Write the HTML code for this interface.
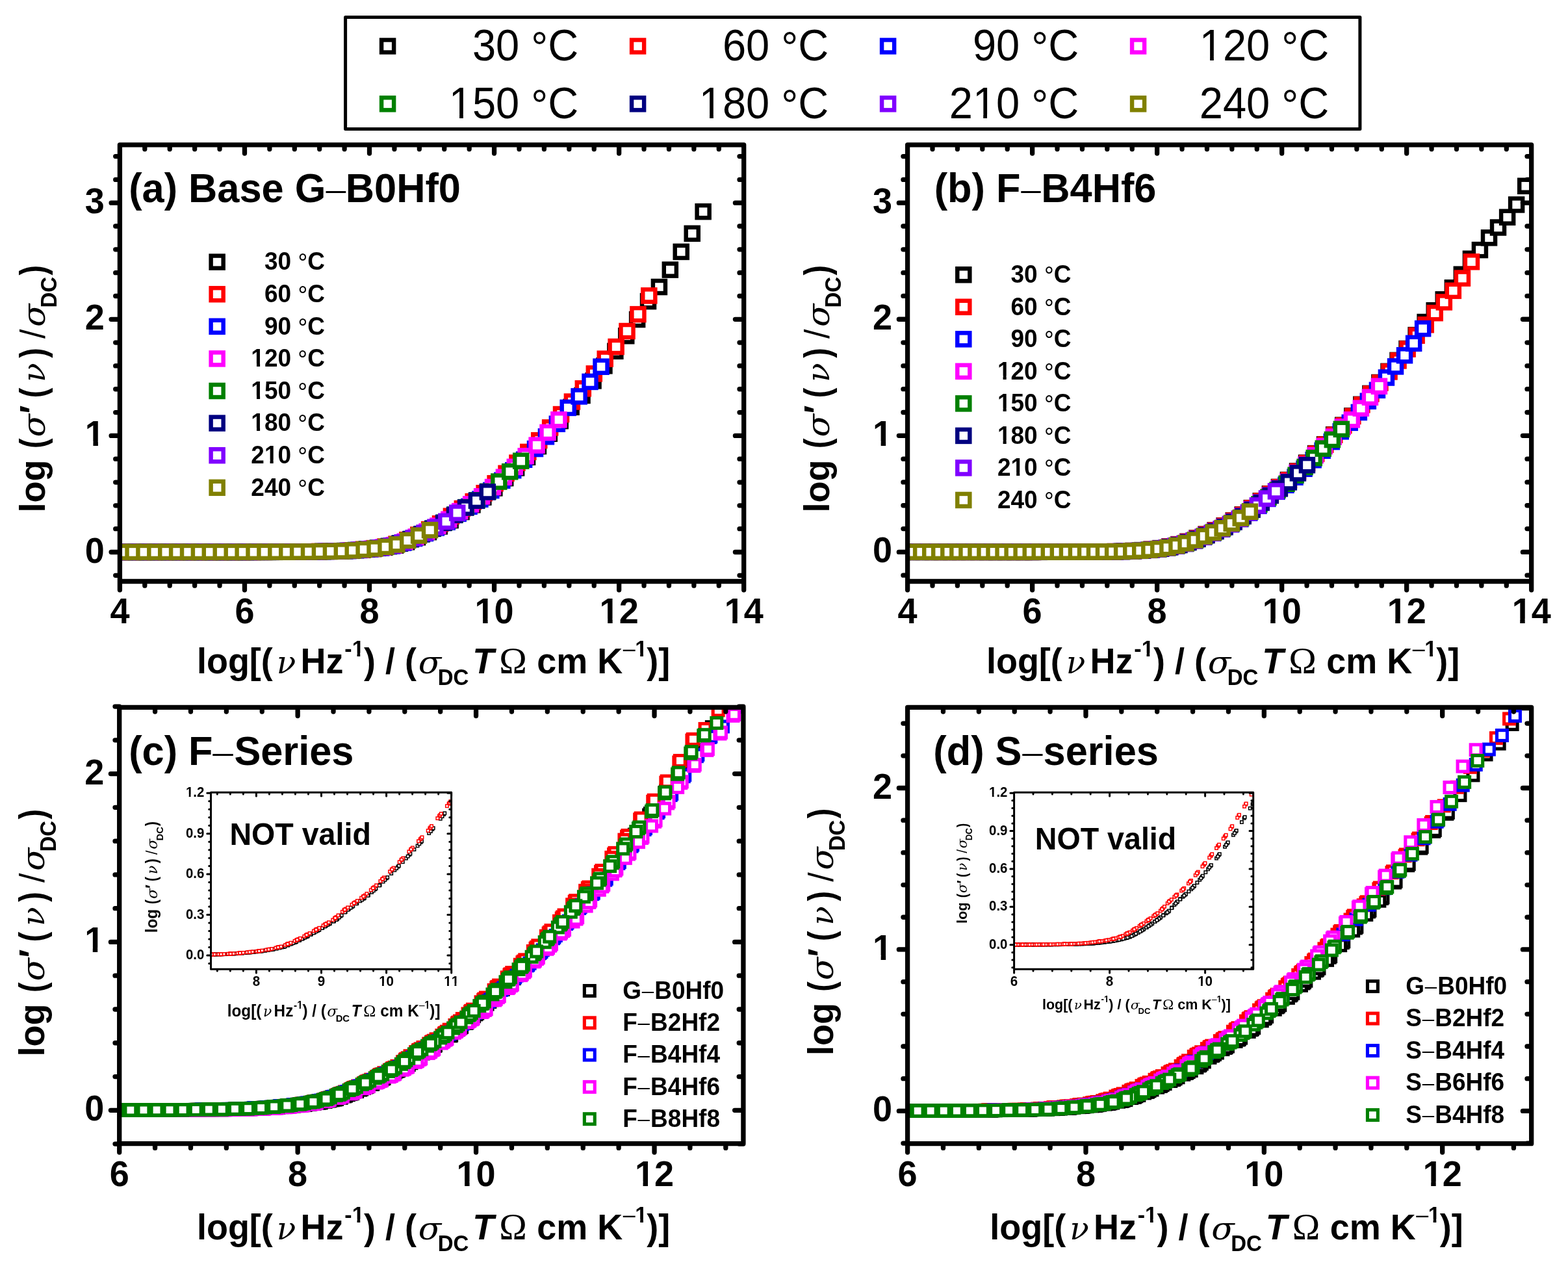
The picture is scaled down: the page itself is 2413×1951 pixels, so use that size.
<!DOCTYPE html>
<html lang="en"><head><meta charset="utf-8"><title>Conductivity master curves</title>
<style>html,body{margin:0;padding:0;background:#fff}svg{display:block;font-family:'Liberation Sans',Arial,Helvetica,sans-serif;fill:#000;white-space:pre;font-kerning:none}</style></head><body>
<svg xmlns="http://www.w3.org/2000/svg" width="2413" height="1951" viewBox="0 0 2413 1951">
<rect width="2413" height="1951" fill="#fff"/>
<defs><clipPath id="ca"><rect x="184.4" y="222.8" width="960.3" height="671.7"/></clipPath><clipPath id="cb"><rect x="1396.6" y="222.8" width="960.1" height="671.7"/></clipPath><clipPath id="cc"><rect x="183.7" y="1088.3" width="960.2" height="671.4"/></clipPath><clipPath id="cd"><rect x="1396.6" y="1088.3" width="960.1" height="671.4"/></clipPath><clipPath id="ci"><rect x="324.5" y="1219.2" width="370.1" height="272"/></clipPath><clipPath id="cj"><rect x="1560.6" y="1219.2" width="368.1" height="272"/></clipPath><rect id="q0" width="19.05" height="19.05" stroke-width="6.45"/><rect id="q1" width="15.9" height="15.9" stroke-width="5.1"/><rect id="q2" width="4.4" height="4.4" stroke-width="1.5"/></defs>
<g fill="#fff">
<g stroke="#000" clip-path="url(#ca)"><use href="#q0" x="210.1" y="839.9"/><use href="#q0" x="227" y="839.9"/><use href="#q0" x="243.9" y="839.9"/><use href="#q0" x="260.8" y="839.9"/><use href="#q0" x="277.8" y="839.9"/><use href="#q0" x="294.7" y="839.9"/><use href="#q0" x="311.6" y="839.9"/><use href="#q0" x="328.5" y="839.9"/><use href="#q0" x="345.4" y="839.9"/><use href="#q0" x="362.3" y="839.9"/><use href="#q0" x="379.2" y="839.9"/><use href="#q0" x="396.1" y="839.8"/><use href="#q0" x="413" y="839.8"/><use href="#q0" x="429.9" y="839.7"/><use href="#q0" x="446.9" y="839.6"/><use href="#q0" x="463.8" y="839.5"/><use href="#q0" x="480.7" y="839.2"/><use href="#q0" x="497.6" y="838.9"/><use href="#q0" x="514.5" y="838.5"/><use href="#q0" x="531.4" y="837.8"/><use href="#q0" x="548.3" y="836.5"/><use href="#q0" x="565.2" y="835"/><use href="#q0" x="582.1" y="832.8"/><use href="#q0" x="599.1" y="829.6"/><use href="#q0" x="616" y="824.3"/><use href="#q0" x="632.9" y="817.2"/><use href="#q0" x="649.8" y="809.1"/><use href="#q0" x="666.7" y="800.4"/><use href="#q0" x="683.6" y="791"/><use href="#q0" x="700.5" y="778"/><use href="#q0" x="717.4" y="767.3"/><use href="#q0" x="734.3" y="755.5"/><use href="#q0" x="751.3" y="741.4"/><use href="#q0" x="768.2" y="726.1"/><use href="#q0" x="785.1" y="710.4"/><use href="#q0" x="802" y="693.8"/><use href="#q0" x="818.9" y="677.1"/><use href="#q0" x="835.8" y="657.7"/><use href="#q0" x="852.7" y="638.1"/><use href="#q0" x="869.6" y="616.8"/><use href="#q0" x="886.5" y="599"/><use href="#q0" x="903.5" y="576.4"/><use href="#q0" x="920.4" y="553.3"/><use href="#q0" x="937.3" y="530.8"/><use href="#q0" x="954.2" y="507.3"/><use href="#q0" x="971.1" y="482"/><use href="#q0" x="988" y="454.1"/><use href="#q0" x="1004.9" y="432"/><use href="#q0" x="1021.8" y="405.6"/><use href="#q0" x="1038.7" y="377.9"/><use href="#q0" x="1055.7" y="349.8"/><use href="#q0" x="1072.6" y="316.1"/></g>
<g stroke="#f00" clip-path="url(#ca)"><use href="#q0" x="177.6" y="839.9"/><use href="#q0" x="194.5" y="839.9"/><use href="#q0" x="211.4" y="839.9"/><use href="#q0" x="228.3" y="839.9"/><use href="#q0" x="245.2" y="839.9"/><use href="#q0" x="262.1" y="839.9"/><use href="#q0" x="279" y="839.9"/><use href="#q0" x="296" y="839.9"/><use href="#q0" x="312.9" y="839.9"/><use href="#q0" x="329.8" y="839.9"/><use href="#q0" x="346.7" y="839.9"/><use href="#q0" x="363.6" y="839.9"/><use href="#q0" x="380.5" y="839.8"/><use href="#q0" x="397.4" y="839.8"/><use href="#q0" x="414.3" y="839.7"/><use href="#q0" x="431.2" y="839.6"/><use href="#q0" x="448.2" y="839.5"/><use href="#q0" x="465.1" y="839.3"/><use href="#q0" x="482" y="839"/><use href="#q0" x="498.9" y="838.7"/><use href="#q0" x="515.8" y="838.2"/><use href="#q0" x="532.7" y="837.3"/><use href="#q0" x="549.6" y="835.8"/><use href="#q0" x="566.5" y="834.1"/><use href="#q0" x="583.4" y="831.5"/><use href="#q0" x="600.4" y="827.6"/><use href="#q0" x="617.3" y="821.2"/><use href="#q0" x="634.2" y="813.5"/><use href="#q0" x="651.1" y="805.1"/><use href="#q0" x="668" y="796.2"/><use href="#q0" x="684.9" y="784.7"/><use href="#q0" x="701.8" y="773"/><use href="#q0" x="718.7" y="762.2"/><use href="#q0" x="735.6" y="749.2"/><use href="#q0" x="752.6" y="734.2"/><use href="#q0" x="769.5" y="718.8"/><use href="#q0" x="786.4" y="702.6"/><use href="#q0" x="803.3" y="685.9"/><use href="#q0" x="820.2" y="668.1"/><use href="#q0" x="837.1" y="648.4"/><use href="#q0" x="854" y="628"/><use href="#q0" x="870.9" y="608.5"/><use href="#q0" x="887.8" y="588.3"/><use href="#q0" x="904.8" y="565.4"/><use href="#q0" x="921.7" y="542.6"/><use href="#q0" x="938.6" y="524"/><use href="#q0" x="955.5" y="500"/><use href="#q0" x="972.4" y="474.1"/><use href="#q0" x="989.3" y="445.4"/></g>
<g stroke="#00f" clip-path="url(#ca)"><use href="#q0" x="171.4" y="839.9"/><use href="#q0" x="188.3" y="839.9"/><use href="#q0" x="205.2" y="839.9"/><use href="#q0" x="222.1" y="839.9"/><use href="#q0" x="239" y="839.9"/><use href="#q0" x="255.9" y="839.9"/><use href="#q0" x="272.8" y="839.9"/><use href="#q0" x="289.8" y="839.9"/><use href="#q0" x="306.7" y="839.9"/><use href="#q0" x="323.6" y="839.9"/><use href="#q0" x="340.5" y="839.9"/><use href="#q0" x="357.4" y="839.9"/><use href="#q0" x="374.3" y="839.9"/><use href="#q0" x="391.2" y="839.8"/><use href="#q0" x="408.1" y="839.8"/><use href="#q0" x="425" y="839.7"/><use href="#q0" x="442" y="839.6"/><use href="#q0" x="458.9" y="839.5"/><use href="#q0" x="475.8" y="839.3"/><use href="#q0" x="492.7" y="838.9"/><use href="#q0" x="509.6" y="838.6"/><use href="#q0" x="526.5" y="838"/><use href="#q0" x="543.4" y="836.9"/><use href="#q0" x="560.3" y="835.3"/><use href="#q0" x="577.2" y="833.4"/><use href="#q0" x="594.2" y="830.4"/><use href="#q0" x="611.1" y="825.7"/><use href="#q0" x="628" y="819"/><use href="#q0" x="644.9" y="811.1"/><use href="#q0" x="661.8" y="802.5"/><use href="#q0" x="678.7" y="793.6"/><use href="#q0" x="695.6" y="780.8"/><use href="#q0" x="712.5" y="769.8"/><use href="#q0" x="729.4" y="758.6"/><use href="#q0" x="746.3" y="745"/><use href="#q0" x="763.3" y="729.7"/><use href="#q0" x="780.2" y="714.2"/><use href="#q0" x="797.1" y="697.7"/><use href="#q0" x="814" y="681"/><use href="#q0" x="830.9" y="662.3"/><use href="#q0" x="847.8" y="642.7"/><use href="#q0" x="864.7" y="617.9"/><use href="#q0" x="881.6" y="600.4"/><use href="#q0" x="898.5" y="577.9"/><use href="#q0" x="915.5" y="554.7"/></g>
<g stroke="#f0f" clip-path="url(#ca)"><use href="#q0" x="174" y="839.9"/><use href="#q0" x="190.9" y="839.9"/><use href="#q0" x="207.8" y="839.9"/><use href="#q0" x="224.7" y="839.9"/><use href="#q0" x="241.7" y="839.9"/><use href="#q0" x="258.6" y="839.9"/><use href="#q0" x="275.5" y="839.9"/><use href="#q0" x="292.4" y="839.9"/><use href="#q0" x="309.3" y="839.9"/><use href="#q0" x="326.2" y="839.9"/><use href="#q0" x="343.1" y="839.9"/><use href="#q0" x="360" y="839.9"/><use href="#q0" x="376.9" y="839.9"/><use href="#q0" x="393.9" y="839.8"/><use href="#q0" x="410.8" y="839.7"/><use href="#q0" x="427.7" y="839.7"/><use href="#q0" x="444.6" y="839.6"/><use href="#q0" x="461.5" y="839.4"/><use href="#q0" x="478.4" y="839.2"/><use href="#q0" x="495.3" y="838.8"/><use href="#q0" x="512.2" y="838.5"/><use href="#q0" x="529.1" y="837.7"/><use href="#q0" x="546.1" y="836.4"/><use href="#q0" x="563" y="834.8"/><use href="#q0" x="579.9" y="832.6"/><use href="#q0" x="596.8" y="829.3"/><use href="#q0" x="613.7" y="823.7"/><use href="#q0" x="630.6" y="816.5"/><use href="#q0" x="647.5" y="808.4"/><use href="#q0" x="664.4" y="799.6"/><use href="#q0" x="681.3" y="789.7"/><use href="#q0" x="698.2" y="777.1"/><use href="#q0" x="715.2" y="766.3"/><use href="#q0" x="732.1" y="754.3"/><use href="#q0" x="749" y="740"/><use href="#q0" x="765.9" y="724.7"/><use href="#q0" x="782.8" y="708.9"/><use href="#q0" x="799.7" y="692.3"/><use href="#q0" x="816.6" y="675.6"/><use href="#q0" x="833.5" y="655.9"/><use href="#q0" x="850.4" y="636.3"/></g>
<g stroke="#008000" clip-path="url(#ca)"><use href="#q0" x="166.5" y="839.9"/><use href="#q0" x="183.4" y="839.9"/><use href="#q0" x="200.3" y="839.9"/><use href="#q0" x="217.2" y="839.9"/><use href="#q0" x="234.1" y="839.9"/><use href="#q0" x="251" y="839.9"/><use href="#q0" x="267.9" y="839.9"/><use href="#q0" x="284.8" y="839.9"/><use href="#q0" x="301.7" y="839.9"/><use href="#q0" x="318.7" y="839.9"/><use href="#q0" x="335.6" y="839.9"/><use href="#q0" x="352.5" y="839.9"/><use href="#q0" x="369.4" y="839.9"/><use href="#q0" x="386.3" y="839.8"/><use href="#q0" x="403.2" y="839.8"/><use href="#q0" x="420.1" y="839.7"/><use href="#q0" x="437" y="839.6"/><use href="#q0" x="453.9" y="839.5"/><use href="#q0" x="470.8" y="839.3"/><use href="#q0" x="487.8" y="839"/><use href="#q0" x="504.7" y="838.6"/><use href="#q0" x="521.6" y="838.1"/><use href="#q0" x="538.5" y="837"/><use href="#q0" x="555.4" y="835.5"/><use href="#q0" x="572.3" y="833.7"/><use href="#q0" x="589.2" y="830.9"/><use href="#q0" x="606.1" y="826.5"/><use href="#q0" x="623" y="819.9"/><use href="#q0" x="640" y="812.1"/><use href="#q0" x="656.9" y="803.6"/><use href="#q0" x="673.8" y="794.7"/><use href="#q0" x="690.7" y="782.4"/><use href="#q0" x="707.6" y="771.1"/><use href="#q0" x="724.5" y="760.3"/><use href="#q0" x="741.4" y="746.8"/><use href="#q0" x="758.3" y="731.5"/><use href="#q0" x="775.2" y="716.2"/><use href="#q0" x="792.2" y="699.7"/></g>
<g stroke="#000080" clip-path="url(#ca)"><use href="#q0" x="165.8" y="839.9"/><use href="#q0" x="182.7" y="839.9"/><use href="#q0" x="199.6" y="839.9"/><use href="#q0" x="216.5" y="839.9"/><use href="#q0" x="233.5" y="839.9"/><use href="#q0" x="250.4" y="839.9"/><use href="#q0" x="267.3" y="839.9"/><use href="#q0" x="284.2" y="839.9"/><use href="#q0" x="301.1" y="839.9"/><use href="#q0" x="318" y="839.9"/><use href="#q0" x="334.9" y="839.9"/><use href="#q0" x="351.8" y="839.9"/><use href="#q0" x="368.7" y="839.9"/><use href="#q0" x="385.7" y="839.8"/><use href="#q0" x="402.6" y="839.8"/><use href="#q0" x="419.5" y="839.7"/><use href="#q0" x="436.4" y="839.6"/><use href="#q0" x="453.3" y="839.5"/><use href="#q0" x="470.2" y="839.3"/><use href="#q0" x="487.1" y="839"/><use href="#q0" x="504" y="838.7"/><use href="#q0" x="520.9" y="838.1"/><use href="#q0" x="537.8" y="837.1"/><use href="#q0" x="554.8" y="835.6"/><use href="#q0" x="571.7" y="833.8"/><use href="#q0" x="588.6" y="831"/><use href="#q0" x="605.5" y="826.7"/><use href="#q0" x="622.4" y="820.2"/><use href="#q0" x="639.3" y="812.4"/><use href="#q0" x="656.2" y="803.9"/><use href="#q0" x="673.1" y="795"/><use href="#q0" x="690" y="782.9"/><use href="#q0" x="707" y="771.5"/><use href="#q0" x="723.9" y="760.8"/><use href="#q0" x="740.8" y="747.4"/></g>
<g stroke="#8000ff" clip-path="url(#ca)"><use href="#q0" x="170" y="839.9"/><use href="#q0" x="186.9" y="839.9"/><use href="#q0" x="203.8" y="839.9"/><use href="#q0" x="220.7" y="839.9"/><use href="#q0" x="237.6" y="839.9"/><use href="#q0" x="254.5" y="839.9"/><use href="#q0" x="271.4" y="839.9"/><use href="#q0" x="288.3" y="839.9"/><use href="#q0" x="305.3" y="839.9"/><use href="#q0" x="322.2" y="839.9"/><use href="#q0" x="339.1" y="839.9"/><use href="#q0" x="356" y="839.9"/><use href="#q0" x="372.9" y="839.9"/><use href="#q0" x="389.8" y="839.8"/><use href="#q0" x="406.7" y="839.8"/><use href="#q0" x="423.6" y="839.7"/><use href="#q0" x="440.5" y="839.6"/><use href="#q0" x="457.5" y="839.5"/><use href="#q0" x="474.4" y="839.2"/><use href="#q0" x="491.3" y="838.9"/><use href="#q0" x="508.2" y="838.6"/><use href="#q0" x="525.1" y="837.9"/><use href="#q0" x="542" y="836.7"/><use href="#q0" x="558.9" y="835.2"/><use href="#q0" x="575.8" y="833.2"/><use href="#q0" x="592.7" y="830.1"/><use href="#q0" x="609.7" y="825.2"/><use href="#q0" x="626.6" y="818.3"/><use href="#q0" x="643.5" y="810.4"/><use href="#q0" x="660.4" y="801.7"/><use href="#q0" x="677.3" y="792.8"/><use href="#q0" x="694.2" y="779.6"/></g>
<g stroke="#808000" clip-path="url(#ca)"><use href="#q0" x="178.5" y="839.9"/><use href="#q0" x="195.5" y="839.9"/><use href="#q0" x="212.4" y="839.9"/><use href="#q0" x="229.3" y="839.9"/><use href="#q0" x="246.2" y="839.9"/><use href="#q0" x="263.1" y="839.9"/><use href="#q0" x="280" y="839.9"/><use href="#q0" x="296.9" y="839.9"/><use href="#q0" x="313.8" y="839.9"/><use href="#q0" x="330.7" y="839.9"/><use href="#q0" x="347.7" y="839.9"/><use href="#q0" x="364.6" y="839.9"/><use href="#q0" x="381.5" y="839.8"/><use href="#q0" x="398.4" y="839.8"/><use href="#q0" x="415.3" y="839.7"/><use href="#q0" x="432.2" y="839.7"/><use href="#q0" x="449.1" y="839.5"/><use href="#q0" x="466" y="839.4"/><use href="#q0" x="482.9" y="839.1"/><use href="#q0" x="499.9" y="838.8"/><use href="#q0" x="516.8" y="838.4"/><use href="#q0" x="533.7" y="837.4"/><use href="#q0" x="550.6" y="836"/><use href="#q0" x="567.5" y="834.4"/><use href="#q0" x="584.4" y="831.9"/><use href="#q0" x="601.3" y="828.3"/><use href="#q0" x="618.2" y="822"/><use href="#q0" x="635.1" y="814.5"/><use href="#q0" x="652" y="806.1"/></g>
<g stroke="#000" clip-path="url(#cb)"><use href="#q0" x="1509.4" y="839.8"/><use href="#q0" x="1523.5" y="839.8"/><use href="#q0" x="1537.5" y="839.8"/><use href="#q0" x="1551.6" y="839.8"/><use href="#q0" x="1565.6" y="839.8"/><use href="#q0" x="1579.7" y="839.8"/><use href="#q0" x="1593.7" y="839.7"/><use href="#q0" x="1607.7" y="839.7"/><use href="#q0" x="1621.8" y="839.6"/><use href="#q0" x="1635.8" y="839.6"/><use href="#q0" x="1649.9" y="839.6"/><use href="#q0" x="1663.9" y="839.5"/><use href="#q0" x="1678" y="839.5"/><use href="#q0" x="1692" y="839.4"/><use href="#q0" x="1706.1" y="839.1"/><use href="#q0" x="1720.1" y="838.7"/><use href="#q0" x="1734.2" y="838"/><use href="#q0" x="1748.2" y="837.1"/><use href="#q0" x="1762.3" y="835.8"/><use href="#q0" x="1776.3" y="834.1"/><use href="#q0" x="1790.3" y="831.5"/><use href="#q0" x="1804.4" y="828.1"/><use href="#q0" x="1818.4" y="823.8"/><use href="#q0" x="1832.5" y="818.5"/><use href="#q0" x="1846.5" y="812.6"/><use href="#q0" x="1860.6" y="806.4"/><use href="#q0" x="1874.6" y="799.4"/><use href="#q0" x="1888.7" y="791.5"/><use href="#q0" x="1902.7" y="782.4"/><use href="#q0" x="1916.8" y="772.1"/><use href="#q0" x="1930.8" y="761.2"/><use href="#q0" x="1944.9" y="750.2"/><use href="#q0" x="1958.9" y="739.9"/><use href="#q0" x="1972.9" y="728.9"/><use href="#q0" x="1987" y="715.4"/><use href="#q0" x="2001" y="702.6"/><use href="#q0" x="2015.1" y="688.1"/><use href="#q0" x="2029.1" y="674.2"/><use href="#q0" x="2043.2" y="659.2"/><use href="#q0" x="2057.2" y="644.7"/><use href="#q0" x="2071.3" y="630.4"/><use href="#q0" x="2085.3" y="612.8"/><use href="#q0" x="2099.4" y="595.9"/><use href="#q0" x="2113.4" y="579"/><use href="#q0" x="2127.5" y="561.9"/><use href="#q0" x="2141.5" y="544.9"/><use href="#q0" x="2155.5" y="527"/><use href="#q0" x="2169.6" y="506.1"/><use href="#q0" x="2183.6" y="486"/><use href="#q0" x="2197.7" y="468.2"/><use href="#q0" x="2211.7" y="451.3"/><use href="#q0" x="2225.8" y="433.3"/><use href="#q0" x="2239.8" y="412.7"/><use href="#q0" x="2253.9" y="388.7"/><use href="#q0" x="2267.9" y="375.1"/><use href="#q0" x="2282" y="356.3"/><use href="#q0" x="2296" y="340.5"/><use href="#q0" x="2310.1" y="324.7"/><use href="#q0" x="2324.1" y="305.4"/><use href="#q0" x="2338.2" y="276.7"/></g>
<g stroke="#f00" clip-path="url(#cb)"><use href="#q0" x="1426.2" y="839.8"/><use href="#q0" x="1440.2" y="839.8"/><use href="#q0" x="1454.3" y="839.8"/><use href="#q0" x="1468.3" y="839.8"/><use href="#q0" x="1482.4" y="839.8"/><use href="#q0" x="1496.4" y="839.8"/><use href="#q0" x="1510.5" y="839.8"/><use href="#q0" x="1524.5" y="839.8"/><use href="#q0" x="1538.5" y="839.8"/><use href="#q0" x="1552.6" y="839.8"/><use href="#q0" x="1566.6" y="839.8"/><use href="#q0" x="1580.7" y="839.8"/><use href="#q0" x="1594.7" y="839.7"/><use href="#q0" x="1608.8" y="839.7"/><use href="#q0" x="1622.8" y="839.6"/><use href="#q0" x="1636.9" y="839.6"/><use href="#q0" x="1650.9" y="839.6"/><use href="#q0" x="1665" y="839.5"/><use href="#q0" x="1679" y="839.5"/><use href="#q0" x="1693.1" y="839.4"/><use href="#q0" x="1707.1" y="839.1"/><use href="#q0" x="1721.2" y="838.7"/><use href="#q0" x="1735.2" y="838.1"/><use href="#q0" x="1749.2" y="837.2"/><use href="#q0" x="1763.3" y="835.9"/><use href="#q0" x="1777.3" y="834.2"/><use href="#q0" x="1791.4" y="831.6"/><use href="#q0" x="1805.4" y="828.2"/><use href="#q0" x="1819.5" y="824"/><use href="#q0" x="1833.5" y="818.7"/><use href="#q0" x="1847.6" y="812.8"/><use href="#q0" x="1861.6" y="806.6"/><use href="#q0" x="1875.7" y="799.6"/><use href="#q0" x="1889.7" y="791.8"/><use href="#q0" x="1903.8" y="782.7"/><use href="#q0" x="1917.8" y="772.4"/><use href="#q0" x="1931.8" y="761.5"/><use href="#q0" x="1945.9" y="750.5"/><use href="#q0" x="1959.9" y="740.1"/><use href="#q0" x="1974" y="729.3"/><use href="#q0" x="1988" y="715.8"/><use href="#q0" x="2002.1" y="703"/><use href="#q0" x="2016.1" y="688.6"/><use href="#q0" x="2030.2" y="674.6"/><use href="#q0" x="2044.2" y="659.7"/><use href="#q0" x="2058.3" y="645.1"/><use href="#q0" x="2072.3" y="630.9"/><use href="#q0" x="2086.4" y="613.3"/><use href="#q0" x="2100.4" y="596.4"/><use href="#q0" x="2114.4" y="579.5"/><use href="#q0" x="2128.5" y="562.4"/><use href="#q0" x="2142.5" y="545.4"/><use href="#q0" x="2156.6" y="527.5"/><use href="#q0" x="2170.6" y="506.8"/><use href="#q0" x="2184.7" y="490.2"/><use href="#q0" x="2198.7" y="472.1"/><use href="#q0" x="2212.8" y="455.4"/><use href="#q0" x="2226.8" y="437.8"/><use href="#q0" x="2240.9" y="418.6"/><use href="#q0" x="2254.9" y="393.3"/></g>
<g stroke="#00f" clip-path="url(#cb)"><use href="#q0" x="1379.5" y="839.8"/><use href="#q0" x="1393.5" y="839.8"/><use href="#q0" x="1407.6" y="839.8"/><use href="#q0" x="1421.6" y="839.8"/><use href="#q0" x="1435.7" y="839.8"/><use href="#q0" x="1449.7" y="839.8"/><use href="#q0" x="1463.8" y="839.8"/><use href="#q0" x="1477.8" y="839.8"/><use href="#q0" x="1491.9" y="839.8"/><use href="#q0" x="1505.9" y="839.8"/><use href="#q0" x="1519.9" y="839.8"/><use href="#q0" x="1534" y="839.8"/><use href="#q0" x="1548" y="839.8"/><use href="#q0" x="1562.1" y="839.8"/><use href="#q0" x="1576.1" y="839.8"/><use href="#q0" x="1590.2" y="839.8"/><use href="#q0" x="1604.2" y="839.7"/><use href="#q0" x="1618.3" y="839.7"/><use href="#q0" x="1632.3" y="839.6"/><use href="#q0" x="1646.4" y="839.6"/><use href="#q0" x="1660.4" y="839.6"/><use href="#q0" x="1674.5" y="839.5"/><use href="#q0" x="1688.5" y="839.4"/><use href="#q0" x="1702.5" y="839.4"/><use href="#q0" x="1716.6" y="839"/><use href="#q0" x="1730.6" y="838.5"/><use href="#q0" x="1744.7" y="837.8"/><use href="#q0" x="1758.7" y="836.8"/><use href="#q0" x="1772.8" y="835.4"/><use href="#q0" x="1786.8" y="833.5"/><use href="#q0" x="1800.9" y="830.6"/><use href="#q0" x="1814.9" y="827"/><use href="#q0" x="1829" y="822.4"/><use href="#q0" x="1843" y="816.8"/><use href="#q0" x="1857.1" y="810.8"/><use href="#q0" x="1871.1" y="804.5"/><use href="#q0" x="1885.1" y="797.1"/><use href="#q0" x="1899.2" y="789"/><use href="#q0" x="1913.2" y="779.5"/><use href="#q0" x="1927.3" y="768.8"/><use href="#q0" x="1941.3" y="757.9"/><use href="#q0" x="1955.4" y="746.8"/><use href="#q0" x="1969.4" y="736.8"/><use href="#q0" x="1983.5" y="724.6"/><use href="#q0" x="1997.5" y="711.7"/><use href="#q0" x="2011.6" y="698.2"/><use href="#q0" x="2025.6" y="683.8"/><use href="#q0" x="2039.7" y="670.1"/><use href="#q0" x="2053.7" y="654.3"/><use href="#q0" x="2067.7" y="640.8"/><use href="#q0" x="2081.8" y="624.9"/><use href="#q0" x="2095.8" y="607.7"/><use href="#q0" x="2109.9" y="590.8"/><use href="#q0" x="2123.9" y="571.5"/><use href="#q0" x="2138" y="554.4"/><use href="#q0" x="2152" y="537.3"/><use href="#q0" x="2166.1" y="518.8"/><use href="#q0" x="2180.1" y="496.1"/></g>
<g stroke="#f0f" clip-path="url(#cb)"><use href="#q0" x="1382.5" y="839.8"/><use href="#q0" x="1396.6" y="839.8"/><use href="#q0" x="1410.6" y="839.8"/><use href="#q0" x="1424.6" y="839.8"/><use href="#q0" x="1438.7" y="839.8"/><use href="#q0" x="1452.7" y="839.8"/><use href="#q0" x="1466.8" y="839.8"/><use href="#q0" x="1480.8" y="839.8"/><use href="#q0" x="1494.9" y="839.8"/><use href="#q0" x="1508.9" y="839.8"/><use href="#q0" x="1523" y="839.8"/><use href="#q0" x="1537" y="839.8"/><use href="#q0" x="1551.1" y="839.8"/><use href="#q0" x="1565.1" y="839.8"/><use href="#q0" x="1579.2" y="839.8"/><use href="#q0" x="1593.2" y="839.7"/><use href="#q0" x="1607.2" y="839.7"/><use href="#q0" x="1621.3" y="839.6"/><use href="#q0" x="1635.3" y="839.6"/><use href="#q0" x="1649.4" y="839.6"/><use href="#q0" x="1663.4" y="839.5"/><use href="#q0" x="1677.5" y="839.5"/><use href="#q0" x="1691.5" y="839.4"/><use href="#q0" x="1705.6" y="839.2"/><use href="#q0" x="1719.6" y="838.8"/><use href="#q0" x="1733.7" y="838.2"/><use href="#q0" x="1747.7" y="837.3"/><use href="#q0" x="1761.8" y="836.1"/><use href="#q0" x="1775.8" y="834.5"/><use href="#q0" x="1789.8" y="832.1"/><use href="#q0" x="1803.9" y="828.9"/><use href="#q0" x="1817.9" y="824.8"/><use href="#q0" x="1832" y="819.7"/><use href="#q0" x="1846" y="813.9"/><use href="#q0" x="1860.1" y="807.8"/><use href="#q0" x="1874.1" y="801"/><use href="#q0" x="1888.2" y="793.2"/><use href="#q0" x="1902.2" y="784.5"/><use href="#q0" x="1916.3" y="774.3"/><use href="#q0" x="1930.3" y="763.5"/><use href="#q0" x="1944.4" y="752.5"/><use href="#q0" x="1958.4" y="741.9"/><use href="#q0" x="1972.4" y="731.8"/><use href="#q0" x="1986.5" y="718"/><use href="#q0" x="2000.5" y="705.6"/><use href="#q0" x="2014.6" y="691.1"/><use href="#q0" x="2028.6" y="677"/><use href="#q0" x="2042.7" y="662.6"/><use href="#q0" x="2056.7" y="647.3"/><use href="#q0" x="2070.8" y="636.3"/><use href="#q0" x="2084.8" y="618.6"/><use href="#q0" x="2098.9" y="601.7"/><use href="#q0" x="2112.9" y="584.8"/></g>
<g stroke="#008000" clip-path="url(#cb)"><use href="#q0" x="1380.6" y="839.8"/><use href="#q0" x="1394.7" y="839.8"/><use href="#q0" x="1408.7" y="839.8"/><use href="#q0" x="1422.7" y="839.8"/><use href="#q0" x="1436.8" y="839.8"/><use href="#q0" x="1450.8" y="839.8"/><use href="#q0" x="1464.9" y="839.8"/><use href="#q0" x="1478.9" y="839.8"/><use href="#q0" x="1493" y="839.8"/><use href="#q0" x="1507" y="839.8"/><use href="#q0" x="1521.1" y="839.8"/><use href="#q0" x="1535.1" y="839.8"/><use href="#q0" x="1549.2" y="839.8"/><use href="#q0" x="1563.2" y="839.8"/><use href="#q0" x="1577.3" y="839.8"/><use href="#q0" x="1591.3" y="839.7"/><use href="#q0" x="1605.3" y="839.7"/><use href="#q0" x="1619.4" y="839.7"/><use href="#q0" x="1633.4" y="839.6"/><use href="#q0" x="1647.5" y="839.6"/><use href="#q0" x="1661.5" y="839.5"/><use href="#q0" x="1675.6" y="839.5"/><use href="#q0" x="1689.6" y="839.4"/><use href="#q0" x="1703.7" y="839.3"/><use href="#q0" x="1717.7" y="838.9"/><use href="#q0" x="1731.8" y="838.4"/><use href="#q0" x="1745.8" y="837.6"/><use href="#q0" x="1759.9" y="836.5"/><use href="#q0" x="1773.9" y="835.1"/><use href="#q0" x="1787.9" y="833"/><use href="#q0" x="1802" y="829.9"/><use href="#q0" x="1816" y="826.1"/><use href="#q0" x="1830.1" y="821.3"/><use href="#q0" x="1844.1" y="815.5"/><use href="#q0" x="1858.2" y="809.5"/><use href="#q0" x="1872.2" y="803"/><use href="#q0" x="1886.3" y="795.5"/><use href="#q0" x="1900.3" y="787.1"/><use href="#q0" x="1914.4" y="777.3"/><use href="#q0" x="1928.4" y="766.4"/><use href="#q0" x="1942.5" y="755.5"/><use href="#q0" x="1956.5" y="744.6"/><use href="#q0" x="1970.5" y="734.7"/><use href="#q0" x="1984.6" y="721.6"/><use href="#q0" x="1998.6" y="709"/><use href="#q0" x="2012.7" y="695.1"/><use href="#q0" x="2026.7" y="680.6"/><use href="#q0" x="2040.8" y="667"/><use href="#q0" x="2054.8" y="650.8"/></g>
<g stroke="#000080" clip-path="url(#cb)"><use href="#q0" x="1383.9" y="839.8"/><use href="#q0" x="1397.9" y="839.8"/><use href="#q0" x="1412" y="839.8"/><use href="#q0" x="1426" y="839.8"/><use href="#q0" x="1440.1" y="839.8"/><use href="#q0" x="1454.1" y="839.8"/><use href="#q0" x="1468.2" y="839.8"/><use href="#q0" x="1482.2" y="839.8"/><use href="#q0" x="1496.3" y="839.8"/><use href="#q0" x="1510.3" y="839.8"/><use href="#q0" x="1524.4" y="839.8"/><use href="#q0" x="1538.4" y="839.8"/><use href="#q0" x="1552.4" y="839.8"/><use href="#q0" x="1566.5" y="839.8"/><use href="#q0" x="1580.5" y="839.8"/><use href="#q0" x="1594.6" y="839.7"/><use href="#q0" x="1608.6" y="839.7"/><use href="#q0" x="1622.7" y="839.6"/><use href="#q0" x="1636.7" y="839.6"/><use href="#q0" x="1650.8" y="839.6"/><use href="#q0" x="1664.8" y="839.5"/><use href="#q0" x="1678.9" y="839.5"/><use href="#q0" x="1692.9" y="839.4"/><use href="#q0" x="1707" y="839.2"/><use href="#q0" x="1721" y="838.8"/><use href="#q0" x="1735" y="838.2"/><use href="#q0" x="1749.1" y="837.4"/><use href="#q0" x="1763.1" y="836.2"/><use href="#q0" x="1777.2" y="834.6"/><use href="#q0" x="1791.2" y="832.3"/><use href="#q0" x="1805.3" y="829"/><use href="#q0" x="1819.3" y="825"/><use href="#q0" x="1833.4" y="819.9"/><use href="#q0" x="1847.4" y="814.1"/><use href="#q0" x="1861.5" y="808"/><use href="#q0" x="1875.5" y="801.3"/><use href="#q0" x="1889.6" y="793.5"/><use href="#q0" x="1903.6" y="784.8"/><use href="#q0" x="1917.6" y="774.7"/><use href="#q0" x="1931.7" y="763.9"/><use href="#q0" x="1945.7" y="752.9"/><use href="#q0" x="1959.8" y="742.3"/><use href="#q0" x="1973.8" y="732.3"/><use href="#q0" x="1987.9" y="718.4"/><use href="#q0" x="2001.9" y="706.1"/></g>
<g stroke="#8000ff" clip-path="url(#cb)"><use href="#q0" x="1378" y="839.8"/><use href="#q0" x="1392.1" y="839.8"/><use href="#q0" x="1406.1" y="839.8"/><use href="#q0" x="1420.2" y="839.8"/><use href="#q0" x="1434.2" y="839.8"/><use href="#q0" x="1448.3" y="839.8"/><use href="#q0" x="1462.3" y="839.8"/><use href="#q0" x="1476.3" y="839.8"/><use href="#q0" x="1490.4" y="839.8"/><use href="#q0" x="1504.4" y="839.8"/><use href="#q0" x="1518.5" y="839.8"/><use href="#q0" x="1532.5" y="839.8"/><use href="#q0" x="1546.6" y="839.8"/><use href="#q0" x="1560.6" y="839.8"/><use href="#q0" x="1574.7" y="839.8"/><use href="#q0" x="1588.7" y="839.8"/><use href="#q0" x="1602.8" y="839.7"/><use href="#q0" x="1616.8" y="839.7"/><use href="#q0" x="1630.9" y="839.6"/><use href="#q0" x="1644.9" y="839.6"/><use href="#q0" x="1658.9" y="839.6"/><use href="#q0" x="1673" y="839.5"/><use href="#q0" x="1687" y="839.4"/><use href="#q0" x="1701.1" y="839.3"/><use href="#q0" x="1715.1" y="839"/><use href="#q0" x="1729.2" y="838.5"/><use href="#q0" x="1743.2" y="837.8"/><use href="#q0" x="1757.3" y="836.8"/><use href="#q0" x="1771.3" y="835.4"/><use href="#q0" x="1785.4" y="833.4"/><use href="#q0" x="1799.4" y="830.5"/><use href="#q0" x="1813.5" y="826.8"/><use href="#q0" x="1827.5" y="822.3"/><use href="#q0" x="1841.5" y="816.6"/><use href="#q0" x="1855.6" y="810.6"/><use href="#q0" x="1869.6" y="804.3"/><use href="#q0" x="1883.7" y="796.9"/><use href="#q0" x="1897.7" y="788.7"/><use href="#q0" x="1911.8" y="779.1"/><use href="#q0" x="1925.8" y="768.4"/><use href="#q0" x="1939.9" y="757.5"/><use href="#q0" x="1953.9" y="746.4"/></g>
<g stroke="#808000" clip-path="url(#cb)"><use href="#q0" x="1380" y="839.8"/><use href="#q0" x="1394.1" y="839.8"/><use href="#q0" x="1408.1" y="839.8"/><use href="#q0" x="1422.2" y="839.8"/><use href="#q0" x="1436.2" y="839.8"/><use href="#q0" x="1450.3" y="839.8"/><use href="#q0" x="1464.3" y="839.8"/><use href="#q0" x="1478.4" y="839.8"/><use href="#q0" x="1492.4" y="839.8"/><use href="#q0" x="1506.4" y="839.8"/><use href="#q0" x="1520.5" y="839.8"/><use href="#q0" x="1534.5" y="839.8"/><use href="#q0" x="1548.6" y="839.8"/><use href="#q0" x="1562.6" y="839.8"/><use href="#q0" x="1576.7" y="839.8"/><use href="#q0" x="1590.7" y="839.7"/><use href="#q0" x="1604.8" y="839.7"/><use href="#q0" x="1618.8" y="839.7"/><use href="#q0" x="1632.9" y="839.6"/><use href="#q0" x="1646.9" y="839.6"/><use href="#q0" x="1661" y="839.5"/><use href="#q0" x="1675" y="839.5"/><use href="#q0" x="1689" y="839.4"/><use href="#q0" x="1703.1" y="839.3"/><use href="#q0" x="1717.1" y="839"/><use href="#q0" x="1731.2" y="838.4"/><use href="#q0" x="1745.2" y="837.7"/><use href="#q0" x="1759.3" y="836.6"/><use href="#q0" x="1773.3" y="835.1"/><use href="#q0" x="1787.4" y="833.1"/><use href="#q0" x="1801.4" y="830"/><use href="#q0" x="1815.5" y="826.3"/><use href="#q0" x="1829.5" y="821.5"/><use href="#q0" x="1843.6" y="815.7"/><use href="#q0" x="1857.6" y="809.8"/><use href="#q0" x="1871.6" y="803.3"/><use href="#q0" x="1885.7" y="795.8"/><use href="#q0" x="1899.7" y="787.5"/><use href="#q0" x="1913.8" y="777.7"/></g>
<g stroke="#000" clip-path="url(#cc)"><use href="#q1" x="169.1" y="1700.2"/><use href="#q1" x="193.3" y="1700.2"/><use href="#q1" x="217.5" y="1700.1"/><use href="#q1" x="241.6" y="1700"/><use href="#q1" x="265.8" y="1699.9"/><use href="#q1" x="290" y="1699.7"/><use href="#q1" x="314.1" y="1699.6"/><use href="#q1" x="338.3" y="1699.1"/><use href="#q1" x="362.5" y="1698.7"/><use href="#q1" x="386.6" y="1698.1"/><use href="#q1" x="410.8" y="1696.9"/><use href="#q1" x="434.9" y="1694.9"/><use href="#q1" x="459.1" y="1692.6"/><use href="#q1" x="483.3" y="1689.2"/><use href="#q1" x="507.4" y="1684.2"/><use href="#q1" x="531.6" y="1675.6"/><use href="#q1" x="555.8" y="1665"/><use href="#q1" x="579.9" y="1653"/><use href="#q1" x="604.1" y="1640.3"/><use href="#q1" x="628.3" y="1625.2"/><use href="#q1" x="652.4" y="1607.3"/><use href="#q1" x="676.6" y="1591.8"/><use href="#q1" x="700.8" y="1573.9"/><use href="#q1" x="724.9" y="1552.9"/><use href="#q1" x="749.1" y="1530.8"/><use href="#q1" x="773.2" y="1507.6"/><use href="#q1" x="797.4" y="1483.6"/><use href="#q1" x="821.6" y="1458.9"/><use href="#q1" x="845.7" y="1430.5"/><use href="#q1" x="869.9" y="1401.8"/><use href="#q1" x="894.1" y="1372"/><use href="#q1" x="918.2" y="1344.7"/><use href="#q1" x="942.4" y="1311.8"/><use href="#q1" x="966.6" y="1278.6"/><use href="#q1" x="990.7" y="1246.1"/><use href="#q1" x="1014.9" y="1211.7"/><use href="#q1" x="1039.1" y="1174.5"/><use href="#q1" x="1063.2" y="1133.3"/><use href="#q1" x="1087.4" y="1110.7"/><use href="#q1" x="1111.5" y="1072.6"/></g>
<g stroke="#000" clip-path="url(#cc)"><use href="#q1" x="171" y="1700.2"/><use href="#q1" x="195.2" y="1700.2"/><use href="#q1" x="219.3" y="1700.1"/><use href="#q1" x="243.5" y="1700"/><use href="#q1" x="267.6" y="1699.9"/><use href="#q1" x="291.8" y="1699.7"/><use href="#q1" x="316" y="1699.5"/><use href="#q1" x="340.1" y="1699.1"/><use href="#q1" x="364.3" y="1698.6"/><use href="#q1" x="388.5" y="1698"/><use href="#q1" x="412.6" y="1696.8"/><use href="#q1" x="436.8" y="1694.7"/><use href="#q1" x="461" y="1692.4"/><use href="#q1" x="485.1" y="1688.9"/><use href="#q1" x="509.3" y="1683.8"/><use href="#q1" x="533.5" y="1674.9"/><use href="#q1" x="557.6" y="1664.2"/><use href="#q1" x="581.8" y="1652.1"/><use href="#q1" x="605.9" y="1639.3"/><use href="#q1" x="630.1" y="1623.7"/><use href="#q1" x="654.3" y="1606.1"/><use href="#q1" x="678.4" y="1590.6"/><use href="#q1" x="702.6" y="1572.4"/><use href="#q1" x="726.8" y="1551.2"/><use href="#q1" x="750.9" y="1529.1"/><use href="#q1" x="775.1" y="1505.8"/><use href="#q1" x="799.3" y="1481.8"/><use href="#q1" x="823.4" y="1456.7"/><use href="#q1" x="847.6" y="1428.3"/><use href="#q1" x="871.8" y="1399.4"/><use href="#q1" x="895.9" y="1370.1"/><use href="#q1" x="920.1" y="1342.2"/><use href="#q1" x="944.3" y="1309.2"/><use href="#q1" x="968.4" y="1276.1"/><use href="#q1" x="992.6" y="1243.6"/><use href="#q1" x="1016.7" y="1209"/><use href="#q1" x="1040.9" y="1171.6"/><use href="#q1" x="1065.1" y="1130.1"/></g>
<g stroke="#000" clip-path="url(#cc)"><use href="#q1" x="186.3" y="1700.2"/><use href="#q1" x="210.5" y="1700.1"/><use href="#q1" x="234.6" y="1700"/><use href="#q1" x="258.8" y="1700"/><use href="#q1" x="282.9" y="1699.8"/><use href="#q1" x="307.1" y="1699.6"/><use href="#q1" x="331.3" y="1699.2"/><use href="#q1" x="355.4" y="1698.8"/><use href="#q1" x="379.6" y="1698.3"/><use href="#q1" x="403.8" y="1697.3"/><use href="#q1" x="427.9" y="1695.5"/><use href="#q1" x="452.1" y="1693.3"/><use href="#q1" x="476.3" y="1690.2"/><use href="#q1" x="500.4" y="1685.7"/><use href="#q1" x="524.6" y="1678.2"/><use href="#q1" x="548.8" y="1668.1"/><use href="#q1" x="572.9" y="1656.6"/><use href="#q1" x="597.1" y="1644"/><use href="#q1" x="621.2" y="1630.7"/><use href="#q1" x="645.4" y="1611.8"/><use href="#q1" x="669.6" y="1596.3"/><use href="#q1" x="693.7" y="1579.5"/><use href="#q1" x="717.9" y="1559.3"/><use href="#q1" x="742.1" y="1537.2"/><use href="#q1" x="766.2" y="1514.6"/><use href="#q1" x="790.4" y="1490.6"/><use href="#q1" x="814.6" y="1466.5"/><use href="#q1" x="838.7" y="1438.7"/><use href="#q1" x="862.9" y="1410.4"/><use href="#q1" x="887.1" y="1379.4"/><use href="#q1" x="911.2" y="1354.1"/><use href="#q1" x="935.4" y="1321.5"/><use href="#q1" x="959.6" y="1288"/></g>
<g stroke="#000" clip-path="url(#cc)"><use href="#q1" x="165.9" y="1700.2"/><use href="#q1" x="190" y="1700.2"/><use href="#q1" x="214.2" y="1700.1"/><use href="#q1" x="238.4" y="1700"/><use href="#q1" x="262.5" y="1699.9"/><use href="#q1" x="286.7" y="1699.8"/><use href="#q1" x="310.9" y="1699.6"/><use href="#q1" x="335" y="1699.2"/><use href="#q1" x="359.2" y="1698.7"/><use href="#q1" x="383.4" y="1698.2"/><use href="#q1" x="407.5" y="1697.1"/><use href="#q1" x="431.7" y="1695.2"/><use href="#q1" x="455.9" y="1692.9"/><use href="#q1" x="480" y="1689.6"/><use href="#q1" x="504.2" y="1684.9"/><use href="#q1" x="528.4" y="1676.8"/><use href="#q1" x="552.5" y="1666.5"/><use href="#q1" x="576.7" y="1654.7"/><use href="#q1" x="600.8" y="1642"/><use href="#q1" x="625" y="1627.8"/><use href="#q1" x="649.2" y="1609.4"/><use href="#q1" x="673.3" y="1593.9"/><use href="#q1" x="697.5" y="1576.5"/><use href="#q1" x="721.7" y="1555.8"/><use href="#q1" x="745.8" y="1533.7"/><use href="#q1" x="770" y="1510.9"/><use href="#q1" x="794.2" y="1486.9"/><use href="#q1" x="818.3" y="1462.8"/><use href="#q1" x="842.5" y="1434.3"/><use href="#q1" x="866.7" y="1406"/></g>
<g stroke="#000" clip-path="url(#cc)"><use href="#q1" x="179.2" y="1700.2"/><use href="#q1" x="203.4" y="1700.1"/><use href="#q1" x="227.6" y="1700.1"/><use href="#q1" x="251.7" y="1700"/><use href="#q1" x="275.9" y="1699.8"/><use href="#q1" x="300.1" y="1699.7"/><use href="#q1" x="324.2" y="1699.4"/><use href="#q1" x="348.4" y="1698.9"/><use href="#q1" x="372.6" y="1698.4"/><use href="#q1" x="396.7" y="1697.6"/><use href="#q1" x="420.9" y="1696.1"/><use href="#q1" x="445.1" y="1693.9"/><use href="#q1" x="469.2" y="1691.2"/><use href="#q1" x="493.4" y="1687.2"/><use href="#q1" x="517.6" y="1680.9"/><use href="#q1" x="541.7" y="1671.3"/><use href="#q1" x="565.9" y="1660.1"/><use href="#q1" x="590" y="1647.8"/><use href="#q1" x="614.2" y="1634.9"/><use href="#q1" x="638.4" y="1617.1"/><use href="#q1" x="662.5" y="1600.8"/><use href="#q1" x="686.7" y="1585.1"/><use href="#q1" x="710.9" y="1565.7"/><use href="#q1" x="735" y="1543.6"/><use href="#q1" x="759.2" y="1521.5"/><use href="#q1" x="783.4" y="1497.7"/></g>
<g stroke="#000" clip-path="url(#cc)"><use href="#q1" x="178.3" y="1700.2"/><use href="#q1" x="202.5" y="1700.1"/><use href="#q1" x="226.7" y="1700.1"/><use href="#q1" x="250.8" y="1700"/><use href="#q1" x="275" y="1699.8"/><use href="#q1" x="299.2" y="1699.7"/><use href="#q1" x="323.3" y="1699.4"/><use href="#q1" x="347.5" y="1698.9"/><use href="#q1" x="371.6" y="1698.5"/><use href="#q1" x="395.8" y="1697.7"/><use href="#q1" x="420" y="1696.2"/><use href="#q1" x="444.1" y="1694"/><use href="#q1" x="468.3" y="1691.4"/><use href="#q1" x="492.5" y="1687.4"/><use href="#q1" x="516.6" y="1681.2"/><use href="#q1" x="540.8" y="1671.7"/><use href="#q1" x="565" y="1660.5"/><use href="#q1" x="589.1" y="1648.3"/><use href="#q1" x="613.3" y="1635.4"/><use href="#q1" x="637.5" y="1617.8"/><use href="#q1" x="661.6" y="1601.4"/><use href="#q1" x="685.8" y="1585.9"/><use href="#q1" x="709.9" y="1566.5"/></g>
<g stroke="#000" clip-path="url(#cc)"><use href="#q1" x="184.3" y="1700.2"/><use href="#q1" x="208.4" y="1700.1"/><use href="#q1" x="232.6" y="1700"/><use href="#q1" x="256.8" y="1700"/><use href="#q1" x="280.9" y="1699.8"/><use href="#q1" x="305.1" y="1699.6"/><use href="#q1" x="329.3" y="1699.3"/><use href="#q1" x="353.4" y="1698.8"/><use href="#q1" x="377.6" y="1698.3"/><use href="#q1" x="401.8" y="1697.4"/><use href="#q1" x="425.9" y="1695.7"/><use href="#q1" x="450.1" y="1693.5"/><use href="#q1" x="474.2" y="1690.5"/><use href="#q1" x="498.4" y="1686.1"/><use href="#q1" x="522.6" y="1679"/><use href="#q1" x="546.7" y="1669.1"/><use href="#q1" x="570.9" y="1657.6"/><use href="#q1" x="595.1" y="1645.1"/><use href="#q1" x="619.2" y="1632.2"/><use href="#q1" x="643.4" y="1613.1"/></g>
<g stroke="#000" clip-path="url(#cc)"><use href="#q1" x="172.4" y="1700.2"/><use href="#q1" x="196.5" y="1700.2"/><use href="#q1" x="220.7" y="1700.1"/><use href="#q1" x="244.9" y="1700"/><use href="#q1" x="269" y="1699.9"/><use href="#q1" x="293.2" y="1699.7"/><use href="#q1" x="317.3" y="1699.5"/><use href="#q1" x="341.5" y="1699"/><use href="#q1" x="365.7" y="1698.6"/><use href="#q1" x="389.8" y="1698"/><use href="#q1" x="414" y="1696.7"/><use href="#q1" x="438.2" y="1694.6"/><use href="#q1" x="462.3" y="1692.3"/><use href="#q1" x="486.5" y="1688.7"/><use href="#q1" x="510.7" y="1683.4"/><use href="#q1" x="534.8" y="1674.4"/><use href="#q1" x="559" y="1663.5"/><use href="#q1" x="583.2" y="1651.4"/></g>
<g stroke="#f00" clip-path="url(#cc)"><use href="#q1" x="173.7" y="1700.2"/><use href="#q1" x="193.8" y="1700.1"/><use href="#q1" x="213.8" y="1700"/><use href="#q1" x="233.9" y="1700"/><use href="#q1" x="254" y="1699.8"/><use href="#q1" x="274.1" y="1699.7"/><use href="#q1" x="294.1" y="1699.5"/><use href="#q1" x="314.2" y="1699.2"/><use href="#q1" x="334.3" y="1698.8"/><use href="#q1" x="354.4" y="1698.4"/><use href="#q1" x="374.4" y="1697.7"/><use href="#q1" x="394.5" y="1696.6"/><use href="#q1" x="414.6" y="1694.9"/><use href="#q1" x="434.7" y="1693.1"/><use href="#q1" x="454.7" y="1690.6"/><use href="#q1" x="474.8" y="1687.2"/><use href="#q1" x="494.9" y="1682.6"/><use href="#q1" x="515" y="1675.2"/><use href="#q1" x="535" y="1666.5"/><use href="#q1" x="555.1" y="1657"/><use href="#q1" x="575.2" y="1646.9"/><use href="#q1" x="595.3" y="1636.4"/><use href="#q1" x="615.3" y="1622.9"/><use href="#q1" x="635.4" y="1608.3"/><use href="#q1" x="655.5" y="1595.7"/><use href="#q1" x="675.6" y="1582.3"/><use href="#q1" x="695.6" y="1566.5"/><use href="#q1" x="715.7" y="1548.6"/><use href="#q1" x="735.8" y="1530.6"/><use href="#q1" x="755.9" y="1511.8"/><use href="#q1" x="776" y="1492.3"/><use href="#q1" x="796" y="1472.7"/><use href="#q1" x="816.1" y="1451.3"/><use href="#q1" x="836.2" y="1428.1"/><use href="#q1" x="856.3" y="1405"/><use href="#q1" x="876.3" y="1379.3"/><use href="#q1" x="896.4" y="1358.6"/><use href="#q1" x="916.5" y="1333.5"/><use href="#q1" x="936.6" y="1306.5"/><use href="#q1" x="956.6" y="1279.4"/><use href="#q1" x="976.7" y="1253"/><use href="#q1" x="996.8" y="1225.4"/><use href="#q1" x="1016.9" y="1196.2"/><use href="#q1" x="1036.9" y="1165"/><use href="#q1" x="1057" y="1131.2"/><use href="#q1" x="1077.1" y="1113.5"/><use href="#q1" x="1097.2" y="1084.9"/></g>
<g stroke="#f00" clip-path="url(#cc)"><use href="#q1" x="175.2" y="1700.1"/><use href="#q1" x="195.2" y="1700.1"/><use href="#q1" x="215.3" y="1700"/><use href="#q1" x="235.4" y="1700"/><use href="#q1" x="255.5" y="1699.8"/><use href="#q1" x="275.6" y="1699.7"/><use href="#q1" x="295.6" y="1699.5"/><use href="#q1" x="315.7" y="1699.1"/><use href="#q1" x="335.8" y="1698.8"/><use href="#q1" x="355.9" y="1698.3"/><use href="#q1" x="375.9" y="1697.7"/><use href="#q1" x="396" y="1696.5"/><use href="#q1" x="416.1" y="1694.8"/><use href="#q1" x="436.2" y="1693"/><use href="#q1" x="456.2" y="1690.4"/><use href="#q1" x="476.3" y="1686.9"/><use href="#q1" x="496.4" y="1682"/><use href="#q1" x="516.5" y="1674.7"/><use href="#q1" x="536.5" y="1665.9"/><use href="#q1" x="556.6" y="1656.3"/><use href="#q1" x="576.7" y="1646.1"/><use href="#q1" x="596.8" y="1635.6"/><use href="#q1" x="616.8" y="1621.7"/><use href="#q1" x="636.9" y="1607.4"/><use href="#q1" x="657" y="1594.8"/><use href="#q1" x="677.1" y="1581.2"/><use href="#q1" x="697.1" y="1565.2"/><use href="#q1" x="717.2" y="1547.3"/><use href="#q1" x="737.3" y="1529.2"/><use href="#q1" x="757.4" y="1510.4"/><use href="#q1" x="777.4" y="1490.9"/><use href="#q1" x="797.5" y="1471.2"/><use href="#q1" x="817.6" y="1449.6"/><use href="#q1" x="837.7" y="1426.4"/><use href="#q1" x="857.7" y="1403.1"/><use href="#q1" x="877.8" y="1377.8"/><use href="#q1" x="897.9" y="1357.1"/><use href="#q1" x="918" y="1331.5"/><use href="#q1" x="938" y="1304.4"/><use href="#q1" x="958.1" y="1277.5"/><use href="#q1" x="978.2" y="1251"/><use href="#q1" x="998.3" y="1223.3"/><use href="#q1" x="1018.3" y="1194"/><use href="#q1" x="1038.4" y="1162.5"/><use href="#q1" x="1058.5" y="1129.4"/></g>
<g stroke="#f00" clip-path="url(#cc)"><use href="#q1" x="170" y="1700.2"/><use href="#q1" x="190.1" y="1700.1"/><use href="#q1" x="210.2" y="1700"/><use href="#q1" x="230.3" y="1700"/><use href="#q1" x="250.3" y="1699.9"/><use href="#q1" x="270.4" y="1699.7"/><use href="#q1" x="290.5" y="1699.6"/><use href="#q1" x="310.6" y="1699.2"/><use href="#q1" x="330.6" y="1698.9"/><use href="#q1" x="350.7" y="1698.5"/><use href="#q1" x="370.8" y="1697.9"/><use href="#q1" x="390.9" y="1696.9"/><use href="#q1" x="410.9" y="1695.3"/><use href="#q1" x="431" y="1693.4"/><use href="#q1" x="451.1" y="1691.1"/><use href="#q1" x="471.2" y="1688"/><use href="#q1" x="491.2" y="1683.7"/><use href="#q1" x="511.3" y="1676.6"/><use href="#q1" x="531.4" y="1668.1"/><use href="#q1" x="551.5" y="1658.8"/><use href="#q1" x="571.5" y="1648.8"/><use href="#q1" x="591.6" y="1638.3"/><use href="#q1" x="611.7" y="1625.7"/><use href="#q1" x="631.8" y="1610.6"/><use href="#q1" x="651.8" y="1598"/><use href="#q1" x="671.9" y="1585.2"/><use href="#q1" x="692" y="1569.4"/><use href="#q1" x="712.1" y="1551.9"/><use href="#q1" x="732.1" y="1533.8"/><use href="#q1" x="752.2" y="1515.4"/><use href="#q1" x="772.3" y="1495.9"/><use href="#q1" x="792.4" y="1476.3"/><use href="#q1" x="812.4" y="1455.5"/><use href="#q1" x="832.5" y="1432.3"/><use href="#q1" x="852.6" y="1409.3"/><use href="#q1" x="872.7" y="1383.9"/><use href="#q1" x="892.7" y="1362.4"/><use href="#q1" x="912.8" y="1338.3"/><use href="#q1" x="932.9" y="1311.4"/><use href="#q1" x="953" y="1284.2"/></g>
<g stroke="#f00" clip-path="url(#cc)"><use href="#q1" x="177.5" y="1700.1"/><use href="#q1" x="197.6" y="1700.1"/><use href="#q1" x="217.7" y="1700"/><use href="#q1" x="237.7" y="1699.9"/><use href="#q1" x="257.8" y="1699.8"/><use href="#q1" x="277.9" y="1699.7"/><use href="#q1" x="298" y="1699.4"/><use href="#q1" x="318" y="1699.1"/><use href="#q1" x="338.1" y="1698.7"/><use href="#q1" x="358.2" y="1698.3"/><use href="#q1" x="378.3" y="1697.5"/><use href="#q1" x="398.3" y="1696.3"/><use href="#q1" x="418.4" y="1694.6"/><use href="#q1" x="438.5" y="1692.7"/><use href="#q1" x="458.6" y="1690"/><use href="#q1" x="478.6" y="1686.4"/><use href="#q1" x="498.7" y="1681.2"/><use href="#q1" x="518.8" y="1673.7"/><use href="#q1" x="538.9" y="1664.8"/><use href="#q1" x="558.9" y="1655.1"/><use href="#q1" x="579" y="1644.9"/><use href="#q1" x="599.1" y="1634.4"/><use href="#q1" x="619.2" y="1619.9"/><use href="#q1" x="639.2" y="1605.9"/><use href="#q1" x="659.3" y="1593.3"/><use href="#q1" x="679.4" y="1579.3"/><use href="#q1" x="699.5" y="1563.1"/><use href="#q1" x="719.5" y="1545.2"/><use href="#q1" x="739.6" y="1527.1"/><use href="#q1" x="759.7" y="1508.1"/><use href="#q1" x="779.8" y="1488.6"/><use href="#q1" x="799.8" y="1468.9"/><use href="#q1" x="819.9" y="1446.9"/><use href="#q1" x="840" y="1423.7"/><use href="#q1" x="860.1" y="1400.1"/></g>
<g stroke="#f00" clip-path="url(#cc)"><use href="#q1" x="174.5" y="1700.1"/><use href="#q1" x="194.6" y="1700.1"/><use href="#q1" x="214.7" y="1700"/><use href="#q1" x="234.7" y="1700"/><use href="#q1" x="254.8" y="1699.8"/><use href="#q1" x="274.9" y="1699.7"/><use href="#q1" x="295" y="1699.5"/><use href="#q1" x="315" y="1699.1"/><use href="#q1" x="335.1" y="1698.8"/><use href="#q1" x="355.2" y="1698.3"/><use href="#q1" x="375.3" y="1697.7"/><use href="#q1" x="395.3" y="1696.6"/><use href="#q1" x="415.4" y="1694.9"/><use href="#q1" x="435.5" y="1693"/><use href="#q1" x="455.6" y="1690.5"/><use href="#q1" x="475.6" y="1687"/><use href="#q1" x="495.7" y="1682.3"/><use href="#q1" x="515.8" y="1674.9"/><use href="#q1" x="535.9" y="1666.2"/><use href="#q1" x="555.9" y="1656.6"/><use href="#q1" x="576" y="1646.4"/><use href="#q1" x="596.1" y="1635.9"/><use href="#q1" x="616.2" y="1622.2"/><use href="#q1" x="636.2" y="1607.8"/><use href="#q1" x="656.3" y="1595.2"/><use href="#q1" x="676.4" y="1581.7"/><use href="#q1" x="696.5" y="1565.8"/><use href="#q1" x="716.5" y="1547.8"/><use href="#q1" x="736.6" y="1529.8"/><use href="#q1" x="756.7" y="1511"/><use href="#q1" x="776.8" y="1491.5"/></g>
<g stroke="#f00" clip-path="url(#cc)"><use href="#q1" x="181.4" y="1700.1"/><use href="#q1" x="201.5" y="1700.1"/><use href="#q1" x="221.6" y="1700"/><use href="#q1" x="241.6" y="1699.9"/><use href="#q1" x="261.7" y="1699.8"/><use href="#q1" x="281.8" y="1699.6"/><use href="#q1" x="301.9" y="1699.4"/><use href="#q1" x="321.9" y="1699"/><use href="#q1" x="342" y="1698.6"/><use href="#q1" x="362.1" y="1698.2"/><use href="#q1" x="382.2" y="1697.3"/><use href="#q1" x="402.2" y="1696"/><use href="#q1" x="422.3" y="1694.3"/><use href="#q1" x="442.4" y="1692.4"/><use href="#q1" x="462.5" y="1689.5"/><use href="#q1" x="482.5" y="1685.6"/><use href="#q1" x="502.6" y="1679.8"/><use href="#q1" x="522.7" y="1672"/><use href="#q1" x="542.8" y="1663.1"/><use href="#q1" x="562.8" y="1653.2"/><use href="#q1" x="582.9" y="1642.8"/><use href="#q1" x="603" y="1632.4"/><use href="#q1" x="623.1" y="1616.8"/><use href="#q1" x="643.1" y="1603.5"/><use href="#q1" x="663.2" y="1590.9"/><use href="#q1" x="683.3" y="1576.3"/><use href="#q1" x="703.4" y="1559.6"/></g>
<g stroke="#f00" clip-path="url(#cc)"><use href="#q1" x="175.1" y="1700.1"/><use href="#q1" x="195.2" y="1700.1"/><use href="#q1" x="215.2" y="1700"/><use href="#q1" x="235.3" y="1700"/><use href="#q1" x="255.4" y="1699.8"/><use href="#q1" x="275.5" y="1699.7"/><use href="#q1" x="295.5" y="1699.5"/><use href="#q1" x="315.6" y="1699.1"/><use href="#q1" x="335.7" y="1698.8"/><use href="#q1" x="355.8" y="1698.3"/><use href="#q1" x="375.8" y="1697.7"/><use href="#q1" x="395.9" y="1696.5"/><use href="#q1" x="416" y="1694.8"/><use href="#q1" x="436.1" y="1693"/><use href="#q1" x="456.1" y="1690.4"/><use href="#q1" x="476.2" y="1686.9"/><use href="#q1" x="496.3" y="1682.1"/><use href="#q1" x="516.4" y="1674.7"/><use href="#q1" x="536.4" y="1665.9"/><use href="#q1" x="556.5" y="1656.3"/><use href="#q1" x="576.6" y="1646.1"/><use href="#q1" x="596.7" y="1635.7"/><use href="#q1" x="616.7" y="1621.8"/><use href="#q1" x="636.8" y="1607.5"/></g>
<g stroke="#f00" clip-path="url(#cc)"><use href="#q1" x="175.1" y="1700.1"/><use href="#q1" x="195.1" y="1700.1"/><use href="#q1" x="215.2" y="1700"/><use href="#q1" x="235.3" y="1700"/><use href="#q1" x="255.4" y="1699.8"/><use href="#q1" x="275.4" y="1699.7"/><use href="#q1" x="295.5" y="1699.5"/><use href="#q1" x="315.6" y="1699.1"/><use href="#q1" x="335.7" y="1698.8"/><use href="#q1" x="355.7" y="1698.3"/><use href="#q1" x="375.8" y="1697.7"/><use href="#q1" x="395.9" y="1696.5"/><use href="#q1" x="416" y="1694.8"/><use href="#q1" x="436" y="1693"/><use href="#q1" x="456.1" y="1690.4"/><use href="#q1" x="476.2" y="1686.9"/><use href="#q1" x="496.3" y="1682.1"/><use href="#q1" x="516.3" y="1674.7"/><use href="#q1" x="536.4" y="1665.9"/><use href="#q1" x="556.5" y="1656.3"/><use href="#q1" x="576.6" y="1646.1"/></g>
<g stroke="#00f" clip-path="url(#cc)"><use href="#q1" x="181.1" y="1700.1"/><use href="#q1" x="201.1" y="1700"/><use href="#q1" x="221.2" y="1700"/><use href="#q1" x="241.3" y="1699.9"/><use href="#q1" x="261.4" y="1699.7"/><use href="#q1" x="281.4" y="1699.6"/><use href="#q1" x="301.5" y="1699.3"/><use href="#q1" x="321.6" y="1698.9"/><use href="#q1" x="341.7" y="1698.6"/><use href="#q1" x="361.7" y="1698.1"/><use href="#q1" x="381.8" y="1697.2"/><use href="#q1" x="401.9" y="1695.9"/><use href="#q1" x="422" y="1694.2"/><use href="#q1" x="442" y="1692.4"/><use href="#q1" x="462.1" y="1689.6"/><use href="#q1" x="482.2" y="1685.9"/><use href="#q1" x="502.3" y="1680.6"/><use href="#q1" x="522.3" y="1673.3"/><use href="#q1" x="542.4" y="1664.7"/><use href="#q1" x="562.5" y="1655.3"/><use href="#q1" x="582.6" y="1645.5"/><use href="#q1" x="602.6" y="1635.4"/><use href="#q1" x="622.7" y="1621.9"/><use href="#q1" x="642.8" y="1608"/><use href="#q1" x="662.9" y="1595.9"/><use href="#q1" x="682.9" y="1583.1"/><use href="#q1" x="703" y="1567.8"/><use href="#q1" x="723.1" y="1550.7"/><use href="#q1" x="743.2" y="1533.3"/><use href="#q1" x="763.2" y="1515.5"/><use href="#q1" x="783.3" y="1496.8"/><use href="#q1" x="803.4" y="1477.8"/><use href="#q1" x="823.5" y="1458.1"/><use href="#q1" x="843.5" y="1435.8"/><use href="#q1" x="863.6" y="1413.5"/><use href="#q1" x="883.7" y="1389.6"/><use href="#q1" x="903.8" y="1367.7"/><use href="#q1" x="923.8" y="1346.1"/><use href="#q1" x="943.9" y="1320.4"/><use href="#q1" x="964" y="1294.1"/><use href="#q1" x="984.1" y="1268.4"/><use href="#q1" x="1004.1" y="1242.8"/><use href="#q1" x="1024.2" y="1215.6"/><use href="#q1" x="1044.3" y="1186.7"/><use href="#q1" x="1064.4" y="1155.7"/><use href="#q1" x="1084.4" y="1126.6"/><use href="#q1" x="1104.5" y="1110"/><use href="#q1" x="1124.6" y="1079.7"/></g>
<g stroke="#00f" clip-path="url(#cc)"><use href="#q1" x="182.5" y="1700.1"/><use href="#q1" x="202.6" y="1700"/><use href="#q1" x="222.7" y="1700"/><use href="#q1" x="242.8" y="1699.9"/><use href="#q1" x="262.8" y="1699.7"/><use href="#q1" x="282.9" y="1699.6"/><use href="#q1" x="303" y="1699.3"/><use href="#q1" x="323.1" y="1698.9"/><use href="#q1" x="343.1" y="1698.5"/><use href="#q1" x="363.2" y="1698.1"/><use href="#q1" x="383.3" y="1697.1"/><use href="#q1" x="403.4" y="1695.8"/><use href="#q1" x="423.4" y="1694.1"/><use href="#q1" x="443.5" y="1692.2"/><use href="#q1" x="463.6" y="1689.4"/><use href="#q1" x="483.7" y="1685.6"/><use href="#q1" x="503.7" y="1680"/><use href="#q1" x="523.8" y="1672.6"/><use href="#q1" x="543.9" y="1664.1"/><use href="#q1" x="564" y="1654.6"/><use href="#q1" x="584" y="1644.7"/><use href="#q1" x="604.1" y="1634.6"/><use href="#q1" x="624.2" y="1620.8"/><use href="#q1" x="644.3" y="1607.1"/><use href="#q1" x="664.3" y="1595"/><use href="#q1" x="684.4" y="1581.9"/><use href="#q1" x="704.5" y="1566.7"/><use href="#q1" x="724.6" y="1549.4"/><use href="#q1" x="744.7" y="1532"/><use href="#q1" x="764.7" y="1514.1"/><use href="#q1" x="784.8" y="1495.4"/><use href="#q1" x="804.9" y="1476.4"/><use href="#q1" x="825" y="1456.5"/><use href="#q1" x="845" y="1434.1"/><use href="#q1" x="865.1" y="1411.9"/><use href="#q1" x="885.2" y="1387.7"/><use href="#q1" x="905.3" y="1366.2"/><use href="#q1" x="925.3" y="1344.2"/><use href="#q1" x="945.4" y="1318.5"/><use href="#q1" x="965.5" y="1292.1"/><use href="#q1" x="985.6" y="1266.5"/><use href="#q1" x="1005.6" y="1240.8"/><use href="#q1" x="1025.7" y="1213.6"/><use href="#q1" x="1045.8" y="1184.5"/><use href="#q1" x="1065.9" y="1153.3"/><use href="#q1" x="1085.9" y="1125.4"/></g>
<g stroke="#00f" clip-path="url(#cc)"><use href="#q1" x="177.4" y="1700.1"/><use href="#q1" x="197.5" y="1700"/><use href="#q1" x="217.5" y="1700"/><use href="#q1" x="237.6" y="1699.9"/><use href="#q1" x="257.7" y="1699.8"/><use href="#q1" x="277.8" y="1699.6"/><use href="#q1" x="297.8" y="1699.4"/><use href="#q1" x="317.9" y="1699"/><use href="#q1" x="338" y="1698.6"/><use href="#q1" x="358.1" y="1698.2"/><use href="#q1" x="378.1" y="1697.4"/><use href="#q1" x="398.2" y="1696.2"/><use href="#q1" x="418.3" y="1694.5"/><use href="#q1" x="438.4" y="1692.7"/><use href="#q1" x="458.5" y="1690.1"/><use href="#q1" x="478.5" y="1686.6"/><use href="#q1" x="498.6" y="1681.8"/><use href="#q1" x="518.7" y="1674.8"/><use href="#q1" x="538.8" y="1666.3"/><use href="#q1" x="558.8" y="1657.1"/><use href="#q1" x="578.9" y="1647.3"/><use href="#q1" x="599" y="1637.2"/><use href="#q1" x="619.1" y="1624.7"/><use href="#q1" x="639.1" y="1610.3"/><use href="#q1" x="659.2" y="1598.1"/><use href="#q1" x="679.3" y="1585.8"/><use href="#q1" x="699.4" y="1570.6"/><use href="#q1" x="719.4" y="1553.9"/><use href="#q1" x="739.5" y="1536.5"/><use href="#q1" x="759.6" y="1518.9"/><use href="#q1" x="779.7" y="1500.2"/><use href="#q1" x="799.7" y="1481.3"/><use href="#q1" x="819.8" y="1462.2"/><use href="#q1" x="839.9" y="1439.9"/><use href="#q1" x="860" y="1417.6"/><use href="#q1" x="880" y="1394.1"/><use href="#q1" x="900.1" y="1371.3"/><use href="#q1" x="920.2" y="1350.8"/><use href="#q1" x="940.3" y="1325.1"/><use href="#q1" x="960.3" y="1298.9"/><use href="#q1" x="980.4" y="1273"/></g>
<g stroke="#00f" clip-path="url(#cc)"><use href="#q1" x="184.9" y="1700.1"/><use href="#q1" x="205" y="1700"/><use href="#q1" x="225" y="1700"/><use href="#q1" x="245.1" y="1699.8"/><use href="#q1" x="265.2" y="1699.7"/><use href="#q1" x="285.3" y="1699.6"/><use href="#q1" x="305.3" y="1699.2"/><use href="#q1" x="325.4" y="1698.9"/><use href="#q1" x="345.5" y="1698.5"/><use href="#q1" x="365.6" y="1698"/><use href="#q1" x="385.6" y="1697"/><use href="#q1" x="405.7" y="1695.6"/><use href="#q1" x="425.8" y="1693.8"/><use href="#q1" x="445.9" y="1691.9"/><use href="#q1" x="465.9" y="1689"/><use href="#q1" x="486" y="1685.1"/><use href="#q1" x="506.1" y="1679.2"/><use href="#q1" x="526.2" y="1671.6"/><use href="#q1" x="546.2" y="1663"/><use href="#q1" x="566.3" y="1653.5"/><use href="#q1" x="586.4" y="1643.6"/><use href="#q1" x="606.5" y="1633.5"/><use href="#q1" x="626.5" y="1619"/><use href="#q1" x="646.6" y="1605.7"/><use href="#q1" x="666.7" y="1593.5"/><use href="#q1" x="686.8" y="1580.2"/><use href="#q1" x="706.8" y="1564.7"/><use href="#q1" x="726.9" y="1547.4"/><use href="#q1" x="747" y="1530"/><use href="#q1" x="767.1" y="1512"/><use href="#q1" x="787.1" y="1493.2"/><use href="#q1" x="807.2" y="1474.2"/><use href="#q1" x="827.3" y="1453.9"/><use href="#q1" x="847.4" y="1431.5"/><use href="#q1" x="867.4" y="1409.3"/><use href="#q1" x="887.5" y="1384.9"/></g>
<g stroke="#00f" clip-path="url(#cc)"><use href="#q1" x="181.9" y="1700.1"/><use href="#q1" x="202" y="1700"/><use href="#q1" x="222" y="1700"/><use href="#q1" x="242.1" y="1699.9"/><use href="#q1" x="262.2" y="1699.7"/><use href="#q1" x="282.3" y="1699.6"/><use href="#q1" x="302.3" y="1699.3"/><use href="#q1" x="322.4" y="1698.9"/><use href="#q1" x="342.5" y="1698.6"/><use href="#q1" x="362.6" y="1698.1"/><use href="#q1" x="382.6" y="1697.2"/><use href="#q1" x="402.7" y="1695.8"/><use href="#q1" x="422.8" y="1694.1"/><use href="#q1" x="442.9" y="1692.3"/><use href="#q1" x="462.9" y="1689.5"/><use href="#q1" x="483" y="1685.7"/><use href="#q1" x="503.1" y="1680.3"/><use href="#q1" x="523.2" y="1672.9"/><use href="#q1" x="543.2" y="1664.4"/><use href="#q1" x="563.3" y="1654.9"/><use href="#q1" x="583.4" y="1645.1"/><use href="#q1" x="603.5" y="1635"/><use href="#q1" x="623.5" y="1621.3"/><use href="#q1" x="643.6" y="1607.5"/><use href="#q1" x="663.7" y="1595.4"/><use href="#q1" x="683.8" y="1582.4"/><use href="#q1" x="703.8" y="1567.2"/><use href="#q1" x="723.9" y="1550"/><use href="#q1" x="744" y="1532.6"/><use href="#q1" x="764.1" y="1514.7"/><use href="#q1" x="784.1" y="1496"/><use href="#q1" x="804.2" y="1477"/></g>
<g stroke="#00f" clip-path="url(#cc)"><use href="#q1" x="168.7" y="1700.1"/><use href="#q1" x="188.8" y="1700.1"/><use href="#q1" x="208.8" y="1700"/><use href="#q1" x="228.9" y="1699.9"/><use href="#q1" x="249" y="1699.8"/><use href="#q1" x="269.1" y="1699.7"/><use href="#q1" x="289.1" y="1699.5"/><use href="#q1" x="309.2" y="1699.2"/><use href="#q1" x="329.3" y="1698.8"/><use href="#q1" x="349.4" y="1698.4"/><use href="#q1" x="369.4" y="1697.8"/><use href="#q1" x="389.5" y="1696.8"/><use href="#q1" x="409.6" y="1695.2"/><use href="#q1" x="429.7" y="1693.5"/><use href="#q1" x="449.8" y="1691.3"/><use href="#q1" x="469.8" y="1688.4"/><use href="#q1" x="489.9" y="1684.3"/><use href="#q1" x="510" y="1677.8"/><use href="#q1" x="530.1" y="1670"/><use href="#q1" x="550.1" y="1661.2"/><use href="#q1" x="570.2" y="1651.7"/><use href="#q1" x="590.3" y="1641.6"/><use href="#q1" x="610.4" y="1631.2"/><use href="#q1" x="630.4" y="1616.1"/><use href="#q1" x="650.5" y="1603.4"/><use href="#q1" x="670.6" y="1591.2"/><use href="#q1" x="690.7" y="1577.2"/><use href="#q1" x="710.7" y="1561.4"/><use href="#q1" x="730.8" y="1544"/></g>
<g stroke="#00f" clip-path="url(#cc)"><use href="#q1" x="182.4" y="1700.1"/><use href="#q1" x="202.5" y="1700"/><use href="#q1" x="222.6" y="1700"/><use href="#q1" x="242.7" y="1699.9"/><use href="#q1" x="262.7" y="1699.7"/><use href="#q1" x="282.8" y="1699.6"/><use href="#q1" x="302.9" y="1699.3"/><use href="#q1" x="323" y="1698.9"/><use href="#q1" x="343" y="1698.5"/><use href="#q1" x="363.1" y="1698.1"/><use href="#q1" x="383.2" y="1697.1"/><use href="#q1" x="403.3" y="1695.8"/><use href="#q1" x="423.3" y="1694.1"/><use href="#q1" x="443.4" y="1692.2"/><use href="#q1" x="463.5" y="1689.4"/><use href="#q1" x="483.6" y="1685.6"/><use href="#q1" x="503.7" y="1680.1"/><use href="#q1" x="523.7" y="1672.7"/><use href="#q1" x="543.8" y="1664.1"/><use href="#q1" x="563.9" y="1654.7"/><use href="#q1" x="584" y="1644.8"/><use href="#q1" x="604" y="1634.7"/><use href="#q1" x="624.1" y="1620.9"/><use href="#q1" x="644.2" y="1607.2"/><use href="#q1" x="664.3" y="1595"/></g>
<g stroke="#00f" clip-path="url(#cc)"><use href="#q1" x="182.4" y="1700.1"/><use href="#q1" x="202.5" y="1700"/><use href="#q1" x="222.6" y="1700"/><use href="#q1" x="242.7" y="1699.9"/><use href="#q1" x="262.7" y="1699.7"/><use href="#q1" x="282.8" y="1699.6"/><use href="#q1" x="302.9" y="1699.3"/><use href="#q1" x="323" y="1698.9"/><use href="#q1" x="343" y="1698.5"/><use href="#q1" x="363.1" y="1698.1"/><use href="#q1" x="383.2" y="1697.1"/><use href="#q1" x="403.3" y="1695.8"/><use href="#q1" x="423.3" y="1694.1"/><use href="#q1" x="443.4" y="1692.2"/><use href="#q1" x="463.5" y="1689.4"/><use href="#q1" x="483.6" y="1685.6"/><use href="#q1" x="503.6" y="1680.1"/><use href="#q1" x="523.7" y="1672.7"/><use href="#q1" x="543.8" y="1664.1"/><use href="#q1" x="563.9" y="1654.7"/><use href="#q1" x="583.9" y="1644.8"/><use href="#q1" x="604" y="1634.7"/></g>
<g stroke="#f0f" clip-path="url(#cc)"><use href="#q1" x="176.5" y="1700.2"/><use href="#q1" x="196.6" y="1700.2"/><use href="#q1" x="216.7" y="1700.1"/><use href="#q1" x="236.8" y="1700"/><use href="#q1" x="256.8" y="1700"/><use href="#q1" x="276.9" y="1699.9"/><use href="#q1" x="297" y="1699.9"/><use href="#q1" x="317.1" y="1699.8"/><use href="#q1" x="337.1" y="1699.7"/><use href="#q1" x="357.2" y="1699.4"/><use href="#q1" x="377.3" y="1698.9"/><use href="#q1" x="397.4" y="1698"/><use href="#q1" x="417.4" y="1696.9"/><use href="#q1" x="437.5" y="1695.2"/><use href="#q1" x="457.6" y="1692.9"/><use href="#q1" x="477.7" y="1689.6"/><use href="#q1" x="497.8" y="1685"/><use href="#q1" x="517.8" y="1679.2"/><use href="#q1" x="537.9" y="1672.1"/><use href="#q1" x="558" y="1663.6"/><use href="#q1" x="578.1" y="1654.9"/><use href="#q1" x="598.1" y="1645.2"/><use href="#q1" x="618.2" y="1634.1"/><use href="#q1" x="638.3" y="1621.7"/><use href="#q1" x="658.4" y="1607.2"/><use href="#q1" x="678.4" y="1591.5"/><use href="#q1" x="698.5" y="1575.6"/><use href="#q1" x="718.6" y="1560.2"/><use href="#q1" x="738.7" y="1545.9"/><use href="#q1" x="758.7" y="1526"/><use href="#q1" x="778.8" y="1508.1"/><use href="#q1" x="798.9" y="1487.4"/><use href="#q1" x="819" y="1466.8"/><use href="#q1" x="839" y="1446.5"/><use href="#q1" x="859.1" y="1423.9"/><use href="#q1" x="879.2" y="1405.5"/><use href="#q1" x="899.3" y="1379.6"/><use href="#q1" x="919.3" y="1355.2"/><use href="#q1" x="939.4" y="1330.8"/><use href="#q1" x="959.5" y="1306.2"/><use href="#q1" x="979.6" y="1281.5"/><use href="#q1" x="999.6" y="1256.3"/><use href="#q1" x="1019.7" y="1228"/><use href="#q1" x="1039.8" y="1196.8"/><use href="#q1" x="1059.9" y="1170.6"/><use href="#q1" x="1079.9" y="1146.4"/><use href="#q1" x="1100" y="1121"/><use href="#q1" x="1120.1" y="1093.4"/></g>
<g stroke="#f0f" clip-path="url(#cc)"><use href="#q1" x="178" y="1700.2"/><use href="#q1" x="198.1" y="1700.2"/><use href="#q1" x="218.2" y="1700.1"/><use href="#q1" x="238.3" y="1700"/><use href="#q1" x="258.3" y="1700"/><use href="#q1" x="278.4" y="1699.9"/><use href="#q1" x="298.5" y="1699.9"/><use href="#q1" x="318.6" y="1699.8"/><use href="#q1" x="338.6" y="1699.7"/><use href="#q1" x="358.7" y="1699.4"/><use href="#q1" x="378.8" y="1698.8"/><use href="#q1" x="398.9" y="1697.9"/><use href="#q1" x="418.9" y="1696.7"/><use href="#q1" x="439" y="1695"/><use href="#q1" x="459.1" y="1692.7"/><use href="#q1" x="479.2" y="1689.3"/><use href="#q1" x="499.2" y="1684.6"/><use href="#q1" x="519.3" y="1678.7"/><use href="#q1" x="539.4" y="1671.5"/><use href="#q1" x="559.5" y="1663"/><use href="#q1" x="579.5" y="1654.2"/><use href="#q1" x="599.6" y="1644.4"/><use href="#q1" x="619.7" y="1633.2"/><use href="#q1" x="639.8" y="1620.6"/><use href="#q1" x="659.8" y="1606"/><use href="#q1" x="679.9" y="1590.3"/><use href="#q1" x="700" y="1574.4"/><use href="#q1" x="720.1" y="1559.1"/><use href="#q1" x="740.1" y="1544.6"/><use href="#q1" x="760.2" y="1524.6"/><use href="#q1" x="780.3" y="1506.8"/><use href="#q1" x="800.4" y="1485.9"/><use href="#q1" x="820.4" y="1465.4"/><use href="#q1" x="840.5" y="1444.7"/><use href="#q1" x="860.6" y="1422.5"/><use href="#q1" x="880.7" y="1403.6"/><use href="#q1" x="900.7" y="1377.8"/><use href="#q1" x="920.8" y="1353.4"/><use href="#q1" x="940.9" y="1329"/><use href="#q1" x="961" y="1304.4"/><use href="#q1" x="981" y="1279.7"/><use href="#q1" x="1001.1" y="1254.3"/><use href="#q1" x="1021.2" y="1225.6"/><use href="#q1" x="1041.3" y="1194.9"/><use href="#q1" x="1061.3" y="1168.7"/><use href="#q1" x="1081.4" y="1144.6"/><use href="#q1" x="1101.5" y="1119.1"/><use href="#q1" x="1121.6" y="1091.4"/></g>
<g stroke="#f0f" clip-path="url(#cc)"><use href="#q1" x="171.5" y="1700.2"/><use href="#q1" x="191.6" y="1700.2"/><use href="#q1" x="211.7" y="1700.1"/><use href="#q1" x="231.7" y="1700"/><use href="#q1" x="251.8" y="1700"/><use href="#q1" x="271.9" y="1699.9"/><use href="#q1" x="292" y="1699.9"/><use href="#q1" x="312" y="1699.8"/><use href="#q1" x="332.1" y="1699.7"/><use href="#q1" x="352.2" y="1699.6"/><use href="#q1" x="372.3" y="1699.1"/><use href="#q1" x="392.3" y="1698.3"/><use href="#q1" x="412.4" y="1697.2"/><use href="#q1" x="432.5" y="1695.7"/><use href="#q1" x="452.6" y="1693.6"/><use href="#q1" x="472.6" y="1690.7"/><use href="#q1" x="492.7" y="1686.3"/><use href="#q1" x="512.8" y="1680.9"/><use href="#q1" x="532.9" y="1674.2"/><use href="#q1" x="552.9" y="1665.8"/><use href="#q1" x="573" y="1657.2"/><use href="#q1" x="593.1" y="1647.9"/><use href="#q1" x="613.2" y="1637.1"/><use href="#q1" x="633.2" y="1625.2"/><use href="#q1" x="653.3" y="1611.1"/><use href="#q1" x="673.4" y="1595.4"/><use href="#q1" x="693.5" y="1579.6"/><use href="#q1" x="713.5" y="1563.7"/><use href="#q1" x="733.6" y="1549.5"/><use href="#q1" x="753.7" y="1531"/><use href="#q1" x="773.8" y="1512.6"/><use href="#q1" x="793.8" y="1492.7"/><use href="#q1" x="813.9" y="1471.8"/><use href="#q1" x="834" y="1452.3"/><use href="#q1" x="854.1" y="1428.9"/><use href="#q1" x="874.1" y="1410.1"/><use href="#q1" x="894.2" y="1386.1"/><use href="#q1" x="914.3" y="1361.3"/><use href="#q1" x="934.4" y="1336.9"/><use href="#q1" x="954.4" y="1312.4"/><use href="#q1" x="974.5" y="1287.7"/><use href="#q1" x="994.6" y="1263"/><use href="#q1" x="1014.7" y="1236.2"/><use href="#q1" x="1034.7" y="1203.4"/></g>
<g stroke="#f0f" clip-path="url(#cc)"><use href="#q1" x="175.8" y="1700.2"/><use href="#q1" x="195.9" y="1700.2"/><use href="#q1" x="216" y="1700.1"/><use href="#q1" x="236.1" y="1700"/><use href="#q1" x="256.1" y="1700"/><use href="#q1" x="276.2" y="1699.9"/><use href="#q1" x="296.3" y="1699.9"/><use href="#q1" x="316.4" y="1699.8"/><use href="#q1" x="336.4" y="1699.7"/><use href="#q1" x="356.5" y="1699.5"/><use href="#q1" x="376.6" y="1698.9"/><use href="#q1" x="396.7" y="1698.1"/><use href="#q1" x="416.7" y="1696.9"/><use href="#q1" x="436.8" y="1695.2"/><use href="#q1" x="456.9" y="1693"/><use href="#q1" x="477" y="1689.8"/><use href="#q1" x="497" y="1685.2"/><use href="#q1" x="517.1" y="1679.5"/><use href="#q1" x="537.2" y="1672.4"/><use href="#q1" x="557.3" y="1663.9"/><use href="#q1" x="577.3" y="1655.2"/><use href="#q1" x="597.4" y="1645.6"/><use href="#q1" x="617.5" y="1634.5"/><use href="#q1" x="637.6" y="1622.2"/><use href="#q1" x="657.6" y="1607.8"/><use href="#q1" x="677.7" y="1592"/><use href="#q1" x="697.8" y="1576.2"/><use href="#q1" x="717.9" y="1560.7"/><use href="#q1" x="737.9" y="1546.4"/><use href="#q1" x="758" y="1526.7"/><use href="#q1" x="778.1" y="1508.7"/><use href="#q1" x="798.2" y="1488.2"/><use href="#q1" x="818.2" y="1467.5"/><use href="#q1" x="838.3" y="1447.3"/><use href="#q1" x="858.4" y="1424.5"/><use href="#q1" x="878.5" y="1406.1"/><use href="#q1" x="898.5" y="1380.5"/><use href="#q1" x="918.6" y="1356.1"/><use href="#q1" x="938.7" y="1331.7"/></g>
<g stroke="#f0f" clip-path="url(#cc)"><use href="#q1" x="173.1" y="1700.2"/><use href="#q1" x="193.2" y="1700.2"/><use href="#q1" x="213.3" y="1700.1"/><use href="#q1" x="233.3" y="1700"/><use href="#q1" x="253.4" y="1700"/><use href="#q1" x="273.5" y="1699.9"/><use href="#q1" x="293.6" y="1699.9"/><use href="#q1" x="313.6" y="1699.8"/><use href="#q1" x="333.7" y="1699.7"/><use href="#q1" x="353.8" y="1699.5"/><use href="#q1" x="373.9" y="1699"/><use href="#q1" x="393.9" y="1698.2"/><use href="#q1" x="414" y="1697.1"/><use href="#q1" x="434.1" y="1695.5"/><use href="#q1" x="454.2" y="1693.4"/><use href="#q1" x="474.2" y="1690.4"/><use href="#q1" x="494.3" y="1685.9"/><use href="#q1" x="514.4" y="1680.4"/><use href="#q1" x="534.5" y="1673.5"/><use href="#q1" x="554.5" y="1665.1"/><use href="#q1" x="574.6" y="1656.4"/><use href="#q1" x="594.7" y="1647.1"/><use href="#q1" x="614.8" y="1636.2"/><use href="#q1" x="634.8" y="1624.1"/><use href="#q1" x="654.9" y="1609.9"/><use href="#q1" x="675" y="1594.2"/><use href="#q1" x="695.1" y="1578.4"/><use href="#q1" x="715.1" y="1562.6"/><use href="#q1" x="735.2" y="1548.3"/><use href="#q1" x="755.3" y="1529.4"/><use href="#q1" x="775.4" y="1511.2"/><use href="#q1" x="795.4" y="1491"/><use href="#q1" x="815.5" y="1470.2"/><use href="#q1" x="835.6" y="1450.5"/><use href="#q1" x="855.7" y="1427"/></g>
<g stroke="#f0f" clip-path="url(#cc)"><use href="#q1" x="177.8" y="1700.2"/><use href="#q1" x="197.9" y="1700.2"/><use href="#q1" x="218" y="1700.1"/><use href="#q1" x="238" y="1700"/><use href="#q1" x="258.1" y="1700"/><use href="#q1" x="278.2" y="1699.9"/><use href="#q1" x="298.3" y="1699.9"/><use href="#q1" x="318.3" y="1699.8"/><use href="#q1" x="338.4" y="1699.7"/><use href="#q1" x="358.5" y="1699.4"/><use href="#q1" x="378.6" y="1698.8"/><use href="#q1" x="398.6" y="1698"/><use href="#q1" x="418.7" y="1696.8"/><use href="#q1" x="438.8" y="1695"/><use href="#q1" x="458.9" y="1692.7"/><use href="#q1" x="478.9" y="1689.4"/><use href="#q1" x="499" y="1684.6"/><use href="#q1" x="519.1" y="1678.8"/><use href="#q1" x="539.2" y="1671.5"/><use href="#q1" x="559.2" y="1663.1"/><use href="#q1" x="579.3" y="1654.3"/><use href="#q1" x="599.4" y="1644.5"/><use href="#q1" x="619.5" y="1633.4"/><use href="#q1" x="639.5" y="1620.8"/><use href="#q1" x="659.6" y="1606.2"/><use href="#q1" x="679.7" y="1590.5"/><use href="#q1" x="699.8" y="1574.6"/><use href="#q1" x="719.8" y="1559.3"/><use href="#q1" x="739.9" y="1544.8"/><use href="#q1" x="760" y="1524.8"/><use href="#q1" x="780.1" y="1507"/></g>
<g stroke="#f0f" clip-path="url(#cc)"><use href="#q1" x="169.4" y="1700.2"/><use href="#q1" x="189.5" y="1700.2"/><use href="#q1" x="209.6" y="1700.1"/><use href="#q1" x="229.7" y="1700.1"/><use href="#q1" x="249.7" y="1700"/><use href="#q1" x="269.8" y="1699.9"/><use href="#q1" x="289.9" y="1699.9"/><use href="#q1" x="310" y="1699.8"/><use href="#q1" x="330" y="1699.7"/><use href="#q1" x="350.1" y="1699.6"/><use href="#q1" x="370.2" y="1699.1"/><use href="#q1" x="390.3" y="1698.4"/><use href="#q1" x="410.3" y="1697.4"/><use href="#q1" x="430.4" y="1695.8"/><use href="#q1" x="450.5" y="1693.8"/><use href="#q1" x="470.6" y="1691"/><use href="#q1" x="490.6" y="1686.8"/><use href="#q1" x="510.7" y="1681.5"/><use href="#q1" x="530.8" y="1674.9"/><use href="#q1" x="550.9" y="1666.7"/><use href="#q1" x="570.9" y="1658.1"/><use href="#q1" x="591" y="1648.9"/><use href="#q1" x="611.1" y="1638.2"/><use href="#q1" x="631.2" y="1626.4"/><use href="#q1" x="651.2" y="1612.6"/><use href="#q1" x="671.3" y="1597.1"/><use href="#q1" x="691.4" y="1581.3"/><use href="#q1" x="711.5" y="1565.2"/></g>
<g stroke="#f0f" clip-path="url(#cc)"><use href="#q1" x="172.3" y="1700.2"/><use href="#q1" x="192.4" y="1700.2"/><use href="#q1" x="212.4" y="1700.1"/><use href="#q1" x="232.5" y="1700"/><use href="#q1" x="252.6" y="1700"/><use href="#q1" x="272.7" y="1699.9"/><use href="#q1" x="292.7" y="1699.9"/><use href="#q1" x="312.8" y="1699.8"/><use href="#q1" x="332.9" y="1699.7"/><use href="#q1" x="353" y="1699.6"/><use href="#q1" x="373" y="1699"/><use href="#q1" x="393.1" y="1698.2"/><use href="#q1" x="413.2" y="1697.2"/><use href="#q1" x="433.3" y="1695.6"/><use href="#q1" x="453.3" y="1693.5"/><use href="#q1" x="473.4" y="1690.6"/><use href="#q1" x="493.5" y="1686.1"/><use href="#q1" x="513.6" y="1680.7"/><use href="#q1" x="533.6" y="1673.9"/><use href="#q1" x="553.7" y="1665.5"/><use href="#q1" x="573.8" y="1656.8"/><use href="#q1" x="593.9" y="1647.5"/><use href="#q1" x="613.9" y="1636.7"/><use href="#q1" x="634" y="1624.7"/><use href="#q1" x="654.1" y="1610.5"/></g>
<g stroke="#008000" clip-path="url(#cc)"><use href="#q1" x="171.5" y="1700.1"/><use href="#q1" x="191.5" y="1700.1"/><use href="#q1" x="211.6" y="1700"/><use href="#q1" x="231.7" y="1700"/><use href="#q1" x="251.8" y="1699.8"/><use href="#q1" x="271.8" y="1699.7"/><use href="#q1" x="291.9" y="1699.5"/><use href="#q1" x="312" y="1699.1"/><use href="#q1" x="332.1" y="1698.8"/><use href="#q1" x="352.1" y="1698.4"/><use href="#q1" x="372.2" y="1697.8"/><use href="#q1" x="392.3" y="1696.7"/><use href="#q1" x="412.4" y="1695.1"/><use href="#q1" x="432.4" y="1693.3"/><use href="#q1" x="452.5" y="1690.9"/><use href="#q1" x="472.6" y="1687.7"/><use href="#q1" x="492.7" y="1683.5"/><use href="#q1" x="512.7" y="1676.3"/><use href="#q1" x="532.8" y="1668"/><use href="#q1" x="552.9" y="1658.8"/><use href="#q1" x="573" y="1648.9"/><use href="#q1" x="593" y="1638.6"/><use href="#q1" x="613.1" y="1626.5"/><use href="#q1" x="633.2" y="1611.5"/><use href="#q1" x="653.3" y="1599"/><use href="#q1" x="673.3" y="1586.6"/><use href="#q1" x="693.4" y="1571.2"/><use href="#q1" x="713.5" y="1554.2"/><use href="#q1" x="733.6" y="1536.5"/><use href="#q1" x="753.6" y="1518.5"/><use href="#q1" x="773.7" y="1499.4"/><use href="#q1" x="793.8" y="1480.1"/><use href="#q1" x="813.9" y="1460.4"/><use href="#q1" x="833.9" y="1437.6"/><use href="#q1" x="854" y="1414.9"/><use href="#q1" x="874.1" y="1390.6"/><use href="#q1" x="894.2" y="1368.1"/><use href="#q1" x="914.2" y="1346.1"/><use href="#q1" x="934.3" y="1319.9"/><use href="#q1" x="954.4" y="1293"/><use href="#q1" x="974.5" y="1266.8"/><use href="#q1" x="994.5" y="1240.6"/><use href="#q1" x="1014.6" y="1212.9"/><use href="#q1" x="1034.7" y="1183.2"/><use href="#q1" x="1054.8" y="1151.1"/><use href="#q1" x="1074.8" y="1123.9"/><use href="#q1" x="1094.9" y="1104.5"/><use href="#q1" x="1115" y="1073.6"/></g>
<g stroke="#008000" clip-path="url(#cc)"><use href="#q1" x="172.9" y="1700.1"/><use href="#q1" x="193" y="1700.1"/><use href="#q1" x="213.1" y="1700"/><use href="#q1" x="233.2" y="1699.9"/><use href="#q1" x="253.2" y="1699.8"/><use href="#q1" x="273.3" y="1699.7"/><use href="#q1" x="293.4" y="1699.5"/><use href="#q1" x="313.5" y="1699.1"/><use href="#q1" x="333.5" y="1698.8"/><use href="#q1" x="353.6" y="1698.3"/><use href="#q1" x="373.7" y="1697.7"/><use href="#q1" x="393.8" y="1696.6"/><use href="#q1" x="413.8" y="1694.9"/><use href="#q1" x="433.9" y="1693.1"/><use href="#q1" x="454" y="1690.7"/><use href="#q1" x="474.1" y="1687.4"/><use href="#q1" x="494.1" y="1683"/><use href="#q1" x="514.2" y="1675.8"/><use href="#q1" x="534.3" y="1667.3"/><use href="#q1" x="554.4" y="1658.1"/><use href="#q1" x="574.4" y="1648.2"/><use href="#q1" x="594.5" y="1637.9"/><use href="#q1" x="614.6" y="1625.3"/><use href="#q1" x="634.7" y="1610.5"/><use href="#q1" x="654.7" y="1598.1"/><use href="#q1" x="674.8" y="1585.6"/><use href="#q1" x="694.9" y="1570.1"/><use href="#q1" x="715" y="1552.9"/><use href="#q1" x="735" y="1535.2"/><use href="#q1" x="755.1" y="1517.1"/><use href="#q1" x="775.2" y="1498"/><use href="#q1" x="795.3" y="1478.7"/><use href="#q1" x="815.3" y="1458.7"/><use href="#q1" x="835.4" y="1435.9"/><use href="#q1" x="855.5" y="1413.2"/><use href="#q1" x="875.6" y="1388.7"/><use href="#q1" x="895.6" y="1366.6"/><use href="#q1" x="915.7" y="1344.1"/><use href="#q1" x="935.8" y="1317.9"/><use href="#q1" x="955.9" y="1291"/><use href="#q1" x="975.9" y="1264.9"/><use href="#q1" x="996" y="1238.6"/><use href="#q1" x="1016.1" y="1210.8"/><use href="#q1" x="1036.2" y="1180.9"/><use href="#q1" x="1056.2" y="1148.7"/><use href="#q1" x="1076.3" y="1122.7"/></g>
<g stroke="#008000" clip-path="url(#cc)"><use href="#q1" x="167.8" y="1700.2"/><use href="#q1" x="187.9" y="1700.1"/><use href="#q1" x="207.9" y="1700"/><use href="#q1" x="228" y="1700"/><use href="#q1" x="248.1" y="1699.8"/><use href="#q1" x="268.2" y="1699.7"/><use href="#q1" x="288.2" y="1699.6"/><use href="#q1" x="308.3" y="1699.2"/><use href="#q1" x="328.4" y="1698.9"/><use href="#q1" x="348.5" y="1698.5"/><use href="#q1" x="368.5" y="1698"/><use href="#q1" x="388.6" y="1696.9"/><use href="#q1" x="408.7" y="1695.4"/><use href="#q1" x="428.8" y="1693.6"/><use href="#q1" x="448.8" y="1691.4"/><use href="#q1" x="468.9" y="1688.4"/><use href="#q1" x="489" y="1684.3"/><use href="#q1" x="509.1" y="1677.6"/><use href="#q1" x="529.1" y="1669.6"/><use href="#q1" x="549.2" y="1660.5"/><use href="#q1" x="569.3" y="1650.8"/><use href="#q1" x="589.4" y="1640.5"/><use href="#q1" x="609.4" y="1629.3"/><use href="#q1" x="629.5" y="1613.9"/><use href="#q1" x="649.6" y="1601.3"/><use href="#q1" x="669.7" y="1588.9"/><use href="#q1" x="689.7" y="1574"/><use href="#q1" x="709.8" y="1557.4"/><use href="#q1" x="729.9" y="1539.7"/><use href="#q1" x="750" y="1522"/><use href="#q1" x="770" y="1502.9"/><use href="#q1" x="790.1" y="1483.6"/><use href="#q1" x="810.2" y="1464.3"/><use href="#q1" x="830.3" y="1441.7"/><use href="#q1" x="850.4" y="1419"/><use href="#q1" x="870.4" y="1395.2"/><use href="#q1" x="890.5" y="1371.8"/><use href="#q1" x="910.6" y="1350.8"/><use href="#q1" x="930.7" y="1324.7"/><use href="#q1" x="950.7" y="1297.9"/><use href="#q1" x="970.8" y="1271.6"/></g>
<g stroke="#008000" clip-path="url(#cc)"><use href="#q1" x="175.3" y="1700.1"/><use href="#q1" x="195.3" y="1700.1"/><use href="#q1" x="215.4" y="1700"/><use href="#q1" x="235.5" y="1699.9"/><use href="#q1" x="255.6" y="1699.8"/><use href="#q1" x="275.6" y="1699.7"/><use href="#q1" x="295.7" y="1699.4"/><use href="#q1" x="315.8" y="1699.1"/><use href="#q1" x="335.9" y="1698.7"/><use href="#q1" x="355.9" y="1698.3"/><use href="#q1" x="376" y="1697.6"/><use href="#q1" x="396.1" y="1696.4"/><use href="#q1" x="416.2" y="1694.7"/><use href="#q1" x="436.2" y="1692.9"/><use href="#q1" x="456.3" y="1690.3"/><use href="#q1" x="476.4" y="1686.9"/><use href="#q1" x="496.5" y="1682.2"/><use href="#q1" x="516.5" y="1674.9"/><use href="#q1" x="536.6" y="1666.3"/><use href="#q1" x="556.7" y="1656.9"/><use href="#q1" x="576.8" y="1647"/><use href="#q1" x="596.9" y="1636.7"/><use href="#q1" x="616.9" y="1623.5"/><use href="#q1" x="637" y="1609.1"/><use href="#q1" x="657.1" y="1596.7"/><use href="#q1" x="677.2" y="1583.8"/><use href="#q1" x="697.2" y="1568.3"/><use href="#q1" x="717.3" y="1550.8"/><use href="#q1" x="737.4" y="1533.1"/><use href="#q1" x="757.5" y="1514.9"/><use href="#q1" x="777.5" y="1495.8"/><use href="#q1" x="797.6" y="1476.4"/><use href="#q1" x="817.7" y="1456"/><use href="#q1" x="837.8" y="1433.2"/><use href="#q1" x="857.8" y="1410.6"/><use href="#q1" x="877.9" y="1385.8"/></g>
<g stroke="#008000" clip-path="url(#cc)"><use href="#q1" x="172.3" y="1700.1"/><use href="#q1" x="192.4" y="1700.1"/><use href="#q1" x="212.4" y="1700"/><use href="#q1" x="232.5" y="1700"/><use href="#q1" x="252.6" y="1699.8"/><use href="#q1" x="272.7" y="1699.7"/><use href="#q1" x="292.7" y="1699.5"/><use href="#q1" x="312.8" y="1699.1"/><use href="#q1" x="332.9" y="1698.8"/><use href="#q1" x="353" y="1698.4"/><use href="#q1" x="373" y="1697.7"/><use href="#q1" x="393.1" y="1696.7"/><use href="#q1" x="413.2" y="1695"/><use href="#q1" x="433.3" y="1693.2"/><use href="#q1" x="453.3" y="1690.8"/><use href="#q1" x="473.4" y="1687.5"/><use href="#q1" x="493.5" y="1683.2"/><use href="#q1" x="513.6" y="1676"/><use href="#q1" x="533.6" y="1667.6"/><use href="#q1" x="553.7" y="1658.4"/><use href="#q1" x="573.8" y="1648.5"/><use href="#q1" x="593.9" y="1638.2"/><use href="#q1" x="613.9" y="1625.8"/><use href="#q1" x="634" y="1610.9"/><use href="#q1" x="654.1" y="1598.5"/><use href="#q1" x="674.2" y="1586.1"/><use href="#q1" x="694.2" y="1570.6"/><use href="#q1" x="714.3" y="1553.5"/><use href="#q1" x="734.4" y="1535.7"/><use href="#q1" x="754.5" y="1517.7"/><use href="#q1" x="774.5" y="1498.6"/><use href="#q1" x="794.6" y="1479.3"/></g>
<g stroke="#008000" clip-path="url(#cc)"><use href="#q1" x="179.2" y="1700.1"/><use href="#q1" x="199.2" y="1700.1"/><use href="#q1" x="219.3" y="1700"/><use href="#q1" x="239.4" y="1699.9"/><use href="#q1" x="259.5" y="1699.8"/><use href="#q1" x="279.5" y="1699.6"/><use href="#q1" x="299.6" y="1699.4"/><use href="#q1" x="319.7" y="1699"/><use href="#q1" x="339.8" y="1698.7"/><use href="#q1" x="359.8" y="1698.2"/><use href="#q1" x="379.9" y="1697.4"/><use href="#q1" x="400" y="1696.1"/><use href="#q1" x="420.1" y="1694.4"/><use href="#q1" x="440.1" y="1692.5"/><use href="#q1" x="460.2" y="1689.8"/><use href="#q1" x="480.3" y="1686.1"/><use href="#q1" x="500.4" y="1680.8"/><use href="#q1" x="520.4" y="1673.3"/><use href="#q1" x="540.5" y="1664.6"/><use href="#q1" x="560.6" y="1655"/><use href="#q1" x="580.7" y="1645"/><use href="#q1" x="600.7" y="1634.7"/><use href="#q1" x="620.8" y="1620.5"/><use href="#q1" x="640.9" y="1606.7"/><use href="#q1" x="661" y="1594.3"/><use href="#q1" x="681" y="1580.8"/><use href="#q1" x="701.1" y="1565.1"/><use href="#q1" x="721.2" y="1547.4"/></g>
<g stroke="#008000" clip-path="url(#cc)"><use href="#q1" x="172.8" y="1700.1"/><use href="#q1" x="192.9" y="1700.1"/><use href="#q1" x="213" y="1700"/><use href="#q1" x="233.1" y="1699.9"/><use href="#q1" x="253.1" y="1699.8"/><use href="#q1" x="273.2" y="1699.7"/><use href="#q1" x="293.3" y="1699.5"/><use href="#q1" x="313.4" y="1699.1"/><use href="#q1" x="333.4" y="1698.8"/><use href="#q1" x="353.5" y="1698.3"/><use href="#q1" x="373.6" y="1697.7"/><use href="#q1" x="393.7" y="1696.6"/><use href="#q1" x="413.7" y="1694.9"/><use href="#q1" x="433.8" y="1693.1"/><use href="#q1" x="453.9" y="1690.7"/><use href="#q1" x="474" y="1687.4"/><use href="#q1" x="494" y="1683"/><use href="#q1" x="514.1" y="1675.8"/><use href="#q1" x="534.2" y="1667.4"/><use href="#q1" x="554.3" y="1658.1"/><use href="#q1" x="574.3" y="1648.2"/><use href="#q1" x="594.4" y="1637.9"/><use href="#q1" x="614.5" y="1625.4"/><use href="#q1" x="634.6" y="1610.6"/><use href="#q1" x="654.6" y="1598.2"/></g>
<g stroke="#008000" clip-path="url(#cc)"><use href="#q1" x="172.8" y="1700.1"/><use href="#q1" x="192.9" y="1700.1"/><use href="#q1" x="213" y="1700"/><use href="#q1" x="233.1" y="1699.9"/><use href="#q1" x="253.1" y="1699.8"/><use href="#q1" x="273.2" y="1699.7"/><use href="#q1" x="293.3" y="1699.5"/><use href="#q1" x="313.4" y="1699.1"/><use href="#q1" x="333.4" y="1698.8"/><use href="#q1" x="353.5" y="1698.3"/><use href="#q1" x="373.6" y="1697.7"/><use href="#q1" x="393.7" y="1696.6"/><use href="#q1" x="413.7" y="1694.9"/><use href="#q1" x="433.8" y="1693.1"/><use href="#q1" x="453.9" y="1690.7"/><use href="#q1" x="474" y="1687.4"/><use href="#q1" x="494" y="1683"/><use href="#q1" x="514.1" y="1675.8"/><use href="#q1" x="534.2" y="1667.4"/><use href="#q1" x="554.3" y="1658.1"/><use href="#q1" x="574.3" y="1648.2"/><use href="#q1" x="594.4" y="1637.9"/></g>
<g stroke="#000" clip-path="url(#cd)"><use href="#q1" x="1396" y="1701.3"/><use href="#q1" x="1416.1" y="1701.2"/><use href="#q1" x="1436.2" y="1701.2"/><use href="#q1" x="1456.3" y="1701.1"/><use href="#q1" x="1476.3" y="1701"/><use href="#q1" x="1496.4" y="1700.9"/><use href="#q1" x="1516.5" y="1700.8"/><use href="#q1" x="1536.5" y="1700.5"/><use href="#q1" x="1556.6" y="1700.2"/><use href="#q1" x="1576.7" y="1699.8"/><use href="#q1" x="1596.7" y="1699.3"/><use href="#q1" x="1616.8" y="1698.5"/><use href="#q1" x="1636.9" y="1697.1"/><use href="#q1" x="1656.9" y="1695.4"/><use href="#q1" x="1677" y="1693.4"/><use href="#q1" x="1697.1" y="1690.6"/><use href="#q1" x="1717.2" y="1686.6"/><use href="#q1" x="1737.2" y="1680.3"/><use href="#q1" x="1757.3" y="1672.4"/><use href="#q1" x="1777.4" y="1663.4"/><use href="#q1" x="1797.4" y="1653.7"/><use href="#q1" x="1817.5" y="1643.5"/><use href="#q1" x="1837.6" y="1631.9"/><use href="#q1" x="1857.6" y="1616.8"/><use href="#q1" x="1877.7" y="1604.5"/><use href="#q1" x="1897.8" y="1592.1"/><use href="#q1" x="1917.8" y="1576.7"/><use href="#q1" x="1937.9" y="1559.7"/><use href="#q1" x="1958" y="1542"/><use href="#q1" x="1978.1" y="1524"/><use href="#q1" x="1998.1" y="1505"/><use href="#q1" x="2018.2" y="1485.7"/><use href="#q1" x="2038.3" y="1465.2"/><use href="#q1" x="2058.3" y="1442.6"/><use href="#q1" x="2078.4" y="1420"/><use href="#q1" x="2098.5" y="1394.9"/><use href="#q1" x="2118.5" y="1374.5"/><use href="#q1" x="2138.6" y="1350.1"/><use href="#q1" x="2158.7" y="1323.7"/><use href="#q1" x="2178.8" y="1297.2"/><use href="#q1" x="2198.8" y="1271.4"/><use href="#q1" x="2218.9" y="1244.3"/><use href="#q1" x="2239" y="1215.7"/><use href="#q1" x="2259" y="1184.9"/><use href="#q1" x="2279.1" y="1153"/><use href="#q1" x="2299.2" y="1136.2"/><use href="#q1" x="2319.2" y="1106.5"/><use href="#q1" x="2339.3" y="1074.8"/></g>
<g stroke="#000" clip-path="url(#cd)"><use href="#q1" x="1397.5" y="1701.3"/><use href="#q1" x="1417.6" y="1701.2"/><use href="#q1" x="1437.7" y="1701.2"/><use href="#q1" x="1457.7" y="1701.1"/><use href="#q1" x="1477.8" y="1701"/><use href="#q1" x="1497.9" y="1700.9"/><use href="#q1" x="1517.9" y="1700.8"/><use href="#q1" x="1538" y="1700.5"/><use href="#q1" x="1558.1" y="1700.1"/><use href="#q1" x="1578.2" y="1699.8"/><use href="#q1" x="1598.2" y="1699.3"/><use href="#q1" x="1618.3" y="1698.4"/><use href="#q1" x="1638.4" y="1697"/><use href="#q1" x="1658.4" y="1695.2"/><use href="#q1" x="1678.5" y="1693.2"/><use href="#q1" x="1698.6" y="1690.3"/><use href="#q1" x="1718.6" y="1686.2"/><use href="#q1" x="1738.7" y="1679.8"/><use href="#q1" x="1758.8" y="1671.7"/><use href="#q1" x="1778.8" y="1662.7"/><use href="#q1" x="1798.9" y="1653"/><use href="#q1" x="1819" y="1642.7"/><use href="#q1" x="1839.1" y="1630.8"/><use href="#q1" x="1859.1" y="1615.9"/><use href="#q1" x="1879.2" y="1603.5"/><use href="#q1" x="1899.3" y="1591"/><use href="#q1" x="1919.3" y="1575.6"/><use href="#q1" x="1939.4" y="1558.4"/><use href="#q1" x="1959.5" y="1540.7"/><use href="#q1" x="1979.5" y="1522.6"/><use href="#q1" x="1999.6" y="1503.5"/><use href="#q1" x="2019.7" y="1484.3"/><use href="#q1" x="2039.7" y="1463.6"/><use href="#q1" x="2059.8" y="1440.9"/><use href="#q1" x="2079.9" y="1418.3"/><use href="#q1" x="2100" y="1393.2"/><use href="#q1" x="2120" y="1373"/><use href="#q1" x="2140.1" y="1348.2"/><use href="#q1" x="2160.2" y="1321.7"/><use href="#q1" x="2180.2" y="1295.3"/><use href="#q1" x="2200.3" y="1269.5"/><use href="#q1" x="2220.4" y="1242.3"/></g>
<g stroke="#000" clip-path="url(#cd)"><use href="#q1" x="1392.4" y="1701.3"/><use href="#q1" x="1412.5" y="1701.3"/><use href="#q1" x="1432.5" y="1701.2"/><use href="#q1" x="1452.6" y="1701.1"/><use href="#q1" x="1472.7" y="1701.1"/><use href="#q1" x="1492.7" y="1700.9"/><use href="#q1" x="1512.8" y="1700.8"/><use href="#q1" x="1532.9" y="1700.6"/><use href="#q1" x="1552.9" y="1700.2"/><use href="#q1" x="1573" y="1699.9"/><use href="#q1" x="1593.1" y="1699.4"/><use href="#q1" x="1613.1" y="1698.7"/><use href="#q1" x="1633.2" y="1697.4"/><use href="#q1" x="1653.3" y="1695.7"/><use href="#q1" x="1673.4" y="1693.9"/><use href="#q1" x="1693.4" y="1691.1"/><use href="#q1" x="1713.5" y="1687.3"/><use href="#q1" x="1733.6" y="1681.6"/><use href="#q1" x="1753.6" y="1674"/><use href="#q1" x="1773.7" y="1665.2"/><use href="#q1" x="1793.8" y="1655.5"/><use href="#q1" x="1813.8" y="1645.4"/><use href="#q1" x="1833.9" y="1634.7"/><use href="#q1" x="1854" y="1619.4"/><use href="#q1" x="1874" y="1606.7"/><use href="#q1" x="1894.1" y="1594.4"/><use href="#q1" x="1914.2" y="1579.5"/><use href="#q1" x="1934.3" y="1562.9"/><use href="#q1" x="1954.3" y="1545.3"/><use href="#q1" x="1974.4" y="1527.5"/><use href="#q1" x="1994.5" y="1508.4"/><use href="#q1" x="2014.5" y="1489.2"/><use href="#q1" x="2034.6" y="1469.4"/><use href="#q1" x="2054.7" y="1446.7"/><use href="#q1" x="2074.7" y="1424.1"/><use href="#q1" x="2094.8" y="1399.5"/><use href="#q1" x="2114.9" y="1378.2"/></g>
<g stroke="#000" clip-path="url(#cd)"><use href="#q1" x="1379.8" y="1701.3"/><use href="#q1" x="1399.9" y="1701.3"/><use href="#q1" x="1419.9" y="1701.2"/><use href="#q1" x="1440" y="1701.2"/><use href="#q1" x="1460.1" y="1701.1"/><use href="#q1" x="1480.1" y="1701"/><use href="#q1" x="1500.2" y="1700.9"/><use href="#q1" x="1520.3" y="1700.7"/><use href="#q1" x="1540.3" y="1700.4"/><use href="#q1" x="1560.4" y="1700.1"/><use href="#q1" x="1580.5" y="1699.7"/><use href="#q1" x="1600.6" y="1699.3"/><use href="#q1" x="1620.6" y="1698.3"/><use href="#q1" x="1640.7" y="1696.8"/><use href="#q1" x="1660.8" y="1695"/><use href="#q1" x="1680.8" y="1692.9"/><use href="#q1" x="1700.9" y="1689.9"/><use href="#q1" x="1721" y="1685.8"/><use href="#q1" x="1741" y="1678.9"/><use href="#q1" x="1761.1" y="1670.7"/><use href="#q1" x="1781.2" y="1661.6"/><use href="#q1" x="1801.2" y="1651.8"/><use href="#q1" x="1821.3" y="1641.5"/><use href="#q1" x="1841.4" y="1629"/><use href="#q1" x="1861.5" y="1614.5"/><use href="#q1" x="1881.5" y="1602.1"/><use href="#q1" x="1901.6" y="1589.2"/><use href="#q1" x="1921.7" y="1573.8"/><use href="#q1" x="1941.7" y="1556.3"/><use href="#q1" x="1961.8" y="1538.7"/><use href="#q1" x="1981.9" y="1520.4"/><use href="#q1" x="2001.9" y="1501.3"/><use href="#q1" x="2022" y="1482.1"/></g>
<g stroke="#000" clip-path="url(#cd)"><use href="#q1" x="1396.9" y="1701.3"/><use href="#q1" x="1416.9" y="1701.2"/><use href="#q1" x="1437" y="1701.2"/><use href="#q1" x="1457.1" y="1701.1"/><use href="#q1" x="1477.1" y="1701"/><use href="#q1" x="1497.2" y="1700.9"/><use href="#q1" x="1517.3" y="1700.8"/><use href="#q1" x="1537.4" y="1700.5"/><use href="#q1" x="1557.4" y="1700.1"/><use href="#q1" x="1577.5" y="1699.8"/><use href="#q1" x="1597.6" y="1699.3"/><use href="#q1" x="1617.6" y="1698.4"/><use href="#q1" x="1637.7" y="1697"/><use href="#q1" x="1657.8" y="1695.3"/><use href="#q1" x="1677.8" y="1693.3"/><use href="#q1" x="1697.9" y="1690.4"/><use href="#q1" x="1718" y="1686.4"/><use href="#q1" x="1738" y="1680"/><use href="#q1" x="1758.1" y="1672"/><use href="#q1" x="1778.2" y="1663"/><use href="#q1" x="1798.3" y="1653.3"/><use href="#q1" x="1818.3" y="1643.1"/><use href="#q1" x="1838.4" y="1631.3"/><use href="#q1" x="1858.5" y="1616.3"/><use href="#q1" x="1878.5" y="1604"/><use href="#q1" x="1898.6" y="1591.5"/><use href="#q1" x="1918.7" y="1576.1"/><use href="#q1" x="1938.7" y="1558.9"/></g>
<g stroke="#000" clip-path="url(#cd)"><use href="#q1" x="1383.7" y="1701.3"/><use href="#q1" x="1403.8" y="1701.3"/><use href="#q1" x="1423.8" y="1701.2"/><use href="#q1" x="1443.9" y="1701.2"/><use href="#q1" x="1464" y="1701.1"/><use href="#q1" x="1484" y="1701"/><use href="#q1" x="1504.1" y="1700.9"/><use href="#q1" x="1524.2" y="1700.7"/><use href="#q1" x="1544.2" y="1700.4"/><use href="#q1" x="1564.3" y="1700"/><use href="#q1" x="1584.4" y="1699.6"/><use href="#q1" x="1604.4" y="1699.1"/><use href="#q1" x="1624.5" y="1698.1"/><use href="#q1" x="1644.6" y="1696.5"/><use href="#q1" x="1664.7" y="1694.7"/><use href="#q1" x="1684.7" y="1692.3"/><use href="#q1" x="1704.8" y="1689.1"/><use href="#q1" x="1724.9" y="1684.7"/><use href="#q1" x="1744.9" y="1677.5"/><use href="#q1" x="1765" y="1669"/><use href="#q1" x="1785.1" y="1659.7"/><use href="#q1" x="1805.1" y="1649.8"/><use href="#q1" x="1825.2" y="1639.5"/><use href="#q1" x="1845.3" y="1626"/><use href="#q1" x="1865.4" y="1612.1"/></g>
<g stroke="#000" clip-path="url(#cd)"><use href="#q1" x="1397.4" y="1701.3"/><use href="#q1" x="1417.5" y="1701.2"/><use href="#q1" x="1437.6" y="1701.2"/><use href="#q1" x="1457.6" y="1701.1"/><use href="#q1" x="1477.7" y="1701"/><use href="#q1" x="1497.8" y="1700.9"/><use href="#q1" x="1517.8" y="1700.8"/><use href="#q1" x="1537.9" y="1700.5"/><use href="#q1" x="1558" y="1700.1"/><use href="#q1" x="1578.1" y="1699.8"/><use href="#q1" x="1598.1" y="1699.3"/><use href="#q1" x="1618.2" y="1698.4"/><use href="#q1" x="1638.3" y="1697"/><use href="#q1" x="1658.3" y="1695.3"/><use href="#q1" x="1678.4" y="1693.2"/><use href="#q1" x="1698.5" y="1690.4"/><use href="#q1" x="1718.5" y="1686.3"/><use href="#q1" x="1738.6" y="1679.8"/><use href="#q1" x="1758.7" y="1671.8"/><use href="#q1" x="1778.7" y="1662.8"/><use href="#q1" x="1798.8" y="1653"/></g>
<g stroke="#000" clip-path="url(#cd)"><use href="#q1" x="1397.4" y="1701.3"/><use href="#q1" x="1417.5" y="1701.2"/><use href="#q1" x="1437.6" y="1701.2"/><use href="#q1" x="1457.6" y="1701.1"/><use href="#q1" x="1477.7" y="1701"/><use href="#q1" x="1497.8" y="1700.9"/><use href="#q1" x="1517.8" y="1700.8"/><use href="#q1" x="1537.9" y="1700.5"/><use href="#q1" x="1558" y="1700.1"/><use href="#q1" x="1578" y="1699.8"/><use href="#q1" x="1598.1" y="1699.3"/><use href="#q1" x="1618.2" y="1698.4"/><use href="#q1" x="1638.2" y="1697"/><use href="#q1" x="1658.3" y="1695.3"/><use href="#q1" x="1678.4" y="1693.2"/><use href="#q1" x="1698.5" y="1690.4"/><use href="#q1" x="1718.5" y="1686.3"/><use href="#q1" x="1738.6" y="1679.8"/></g>
<g stroke="#f00" clip-path="url(#cd)"><use href="#q1" x="1391.4" y="1701.2"/><use href="#q1" x="1411.5" y="1701.1"/><use href="#q1" x="1431.6" y="1701.1"/><use href="#q1" x="1451.6" y="1700.9"/><use href="#q1" x="1471.7" y="1700.8"/><use href="#q1" x="1491.8" y="1700.6"/><use href="#q1" x="1511.8" y="1700.3"/><use href="#q1" x="1531.9" y="1699.9"/><use href="#q1" x="1552" y="1699.5"/><use href="#q1" x="1572" y="1698.9"/><use href="#q1" x="1592.1" y="1697.9"/><use href="#q1" x="1612.2" y="1696.3"/><use href="#q1" x="1632.3" y="1694.5"/><use href="#q1" x="1652.3" y="1692.2"/><use href="#q1" x="1672.4" y="1689.1"/><use href="#q1" x="1692.5" y="1684.9"/><use href="#q1" x="1712.5" y="1678"/><use href="#q1" x="1732.6" y="1669.9"/><use href="#q1" x="1752.7" y="1661"/><use href="#q1" x="1772.7" y="1651.5"/><use href="#q1" x="1792.8" y="1641.6"/><use href="#q1" x="1812.9" y="1629.6"/><use href="#q1" x="1832.9" y="1615.4"/><use href="#q1" x="1853" y="1603.5"/><use href="#q1" x="1873.1" y="1591.5"/><use href="#q1" x="1893.2" y="1576.6"/><use href="#q1" x="1913.2" y="1560.1"/><use href="#q1" x="1933.3" y="1543.1"/><use href="#q1" x="1953.4" y="1525.8"/><use href="#q1" x="1973.4" y="1507.5"/><use href="#q1" x="1993.5" y="1488.9"/><use href="#q1" x="2013.6" y="1469.8"/><use href="#q1" x="2033.6" y="1447.9"/><use href="#q1" x="2053.7" y="1426.1"/><use href="#q1" x="2073.8" y="1402.7"/><use href="#q1" x="2093.9" y="1381.4"/><use href="#q1" x="2113.9" y="1359.9"/><use href="#q1" x="2134" y="1334.7"/><use href="#q1" x="2154.1" y="1308.9"/><use href="#q1" x="2174.1" y="1283.8"/><use href="#q1" x="2194.2" y="1258.6"/><use href="#q1" x="2214.3" y="1231.9"/><use href="#q1" x="2234.3" y="1203.3"/><use href="#q1" x="2254.4" y="1172.4"/><use href="#q1" x="2274.5" y="1147.2"/><use href="#q1" x="2294.5" y="1127.7"/><use href="#q1" x="2314.6" y="1098"/></g>
<g stroke="#f00" clip-path="url(#cd)"><use href="#q1" x="1392.9" y="1701.2"/><use href="#q1" x="1413" y="1701.1"/><use href="#q1" x="1433" y="1701.1"/><use href="#q1" x="1453.1" y="1700.9"/><use href="#q1" x="1473.2" y="1700.8"/><use href="#q1" x="1493.2" y="1700.6"/><use href="#q1" x="1513.3" y="1700.2"/><use href="#q1" x="1533.4" y="1699.9"/><use href="#q1" x="1553.5" y="1699.5"/><use href="#q1" x="1573.5" y="1698.8"/><use href="#q1" x="1593.6" y="1697.8"/><use href="#q1" x="1613.7" y="1696.2"/><use href="#q1" x="1633.7" y="1694.4"/><use href="#q1" x="1653.8" y="1692"/><use href="#q1" x="1673.9" y="1688.8"/><use href="#q1" x="1693.9" y="1684.4"/><use href="#q1" x="1714" y="1677.5"/><use href="#q1" x="1734.1" y="1669.3"/><use href="#q1" x="1754.2" y="1660.3"/><use href="#q1" x="1774.2" y="1650.8"/><use href="#q1" x="1794.3" y="1640.9"/><use href="#q1" x="1814.4" y="1628.6"/><use href="#q1" x="1834.4" y="1614.5"/><use href="#q1" x="1854.5" y="1602.6"/><use href="#q1" x="1874.6" y="1590.4"/><use href="#q1" x="1894.6" y="1575.5"/><use href="#q1" x="1914.7" y="1558.9"/><use href="#q1" x="1934.8" y="1541.9"/><use href="#q1" x="1954.8" y="1524.5"/><use href="#q1" x="1974.9" y="1506.1"/><use href="#q1" x="1995" y="1487.5"/><use href="#q1" x="2015.1" y="1468.2"/><use href="#q1" x="2035.1" y="1446.3"/><use href="#q1" x="2055.2" y="1424.5"/><use href="#q1" x="2075.3" y="1400.9"/><use href="#q1" x="2095.3" y="1379.9"/><use href="#q1" x="2115.4" y="1358"/><use href="#q1" x="2135.5" y="1332.8"/><use href="#q1" x="2155.5" y="1307"/><use href="#q1" x="2175.6" y="1282"/><use href="#q1" x="2195.7" y="1256.6"/></g>
<g stroke="#f00" clip-path="url(#cd)"><use href="#q1" x="1387.8" y="1701.2"/><use href="#q1" x="1407.8" y="1701.1"/><use href="#q1" x="1427.9" y="1701.1"/><use href="#q1" x="1448" y="1701"/><use href="#q1" x="1468" y="1700.8"/><use href="#q1" x="1488.1" y="1700.7"/><use href="#q1" x="1508.2" y="1700.3"/><use href="#q1" x="1528.2" y="1700"/><use href="#q1" x="1548.3" y="1699.6"/><use href="#q1" x="1568.4" y="1699.1"/><use href="#q1" x="1588.5" y="1698.1"/><use href="#q1" x="1608.5" y="1696.6"/><use href="#q1" x="1628.6" y="1694.9"/><use href="#q1" x="1648.7" y="1692.7"/><use href="#q1" x="1668.7" y="1689.8"/><use href="#q1" x="1688.8" y="1685.8"/><use href="#q1" x="1708.9" y="1679.2"/><use href="#q1" x="1728.9" y="1671.4"/><use href="#q1" x="1749" y="1662.7"/><use href="#q1" x="1769.1" y="1653.3"/><use href="#q1" x="1789.1" y="1643.4"/><use href="#q1" x="1809.2" y="1632.3"/><use href="#q1" x="1829.3" y="1617.6"/><use href="#q1" x="1849.4" y="1605.7"/><use href="#q1" x="1869.4" y="1593.7"/><use href="#q1" x="1889.5" y="1579.3"/><use href="#q1" x="1909.6" y="1563.2"/><use href="#q1" x="1929.6" y="1546.2"/><use href="#q1" x="1949.7" y="1529.2"/><use href="#q1" x="1969.8" y="1510.8"/><use href="#q1" x="1989.8" y="1492.3"/><use href="#q1" x="2009.9" y="1473.7"/><use href="#q1" x="2030" y="1451.9"/><use href="#q1" x="2050" y="1430.1"/><use href="#q1" x="2070.1" y="1407.1"/><use href="#q1" x="2090.2" y="1384.9"/></g>
<g stroke="#f00" clip-path="url(#cd)"><use href="#q1" x="1395.2" y="1701.2"/><use href="#q1" x="1415.3" y="1701.1"/><use href="#q1" x="1435.4" y="1701"/><use href="#q1" x="1455.4" y="1700.9"/><use href="#q1" x="1475.5" y="1700.8"/><use href="#q1" x="1495.6" y="1700.6"/><use href="#q1" x="1515.7" y="1700.2"/><use href="#q1" x="1535.7" y="1699.9"/><use href="#q1" x="1555.8" y="1699.4"/><use href="#q1" x="1575.9" y="1698.7"/><use href="#q1" x="1595.9" y="1697.6"/><use href="#q1" x="1616" y="1696"/><use href="#q1" x="1636.1" y="1694.2"/><use href="#q1" x="1656.1" y="1691.7"/><use href="#q1" x="1676.2" y="1688.3"/><use href="#q1" x="1696.3" y="1683.6"/><use href="#q1" x="1716.3" y="1676.6"/><use href="#q1" x="1736.4" y="1668.3"/><use href="#q1" x="1756.5" y="1659.2"/><use href="#q1" x="1776.6" y="1649.6"/><use href="#q1" x="1796.6" y="1639.7"/><use href="#q1" x="1816.7" y="1626.8"/><use href="#q1" x="1836.8" y="1613.1"/><use href="#q1" x="1856.8" y="1601.2"/><use href="#q1" x="1876.9" y="1588.7"/><use href="#q1" x="1897" y="1573.8"/><use href="#q1" x="1917" y="1556.9"/><use href="#q1" x="1937.1" y="1539.9"/><use href="#q1" x="1957.2" y="1522.3"/><use href="#q1" x="1977.2" y="1504"/><use href="#q1" x="1997.3" y="1485.4"/></g>
<g stroke="#f00" clip-path="url(#cd)"><use href="#q1" x="1392.2" y="1701.2"/><use href="#q1" x="1412.3" y="1701.1"/><use href="#q1" x="1432.4" y="1701.1"/><use href="#q1" x="1452.5" y="1700.9"/><use href="#q1" x="1472.5" y="1700.8"/><use href="#q1" x="1492.6" y="1700.6"/><use href="#q1" x="1512.7" y="1700.3"/><use href="#q1" x="1532.7" y="1699.9"/><use href="#q1" x="1552.8" y="1699.5"/><use href="#q1" x="1572.9" y="1698.9"/><use href="#q1" x="1592.9" y="1697.8"/><use href="#q1" x="1613" y="1696.2"/><use href="#q1" x="1633.1" y="1694.5"/><use href="#q1" x="1653.1" y="1692.1"/><use href="#q1" x="1673.2" y="1688.9"/><use href="#q1" x="1693.3" y="1684.6"/><use href="#q1" x="1713.4" y="1677.7"/><use href="#q1" x="1733.4" y="1669.5"/><use href="#q1" x="1753.5" y="1660.6"/><use href="#q1" x="1773.6" y="1651.1"/><use href="#q1" x="1793.6" y="1641.2"/><use href="#q1" x="1813.7" y="1629"/><use href="#q1" x="1833.8" y="1614.9"/><use href="#q1" x="1853.8" y="1603"/><use href="#q1" x="1873.9" y="1590.9"/><use href="#q1" x="1894" y="1576"/><use href="#q1" x="1914" y="1559.4"/></g>
<g stroke="#f00" clip-path="url(#cd)"><use href="#q1" x="1379.1" y="1701.2"/><use href="#q1" x="1399.1" y="1701.2"/><use href="#q1" x="1419.2" y="1701.1"/><use href="#q1" x="1439.3" y="1701"/><use href="#q1" x="1459.3" y="1700.9"/><use href="#q1" x="1479.4" y="1700.8"/><use href="#q1" x="1499.5" y="1700.5"/><use href="#q1" x="1519.5" y="1700.1"/><use href="#q1" x="1539.6" y="1699.8"/><use href="#q1" x="1559.7" y="1699.4"/><use href="#q1" x="1579.8" y="1698.5"/><use href="#q1" x="1599.8" y="1697.3"/><use href="#q1" x="1619.9" y="1695.6"/><use href="#q1" x="1640" y="1693.9"/><use href="#q1" x="1660" y="1691.1"/><use href="#q1" x="1680.1" y="1687.5"/><use href="#q1" x="1700.2" y="1682.2"/><use href="#q1" x="1720.2" y="1675"/><use href="#q1" x="1740.3" y="1666.7"/><use href="#q1" x="1760.4" y="1657.4"/><use href="#q1" x="1780.4" y="1647.7"/><use href="#q1" x="1800.5" y="1637.8"/><use href="#q1" x="1820.6" y="1624"/><use href="#q1" x="1840.7" y="1610.8"/></g>
<g stroke="#f00" clip-path="url(#cd)"><use href="#q1" x="1392.8" y="1701.2"/><use href="#q1" x="1412.9" y="1701.1"/><use href="#q1" x="1432.9" y="1701.1"/><use href="#q1" x="1453" y="1700.9"/><use href="#q1" x="1473.1" y="1700.8"/><use href="#q1" x="1493.2" y="1700.6"/><use href="#q1" x="1513.2" y="1700.3"/><use href="#q1" x="1533.3" y="1699.9"/><use href="#q1" x="1553.4" y="1699.5"/><use href="#q1" x="1573.4" y="1698.8"/><use href="#q1" x="1593.5" y="1697.8"/><use href="#q1" x="1613.6" y="1696.2"/><use href="#q1" x="1633.6" y="1694.4"/><use href="#q1" x="1653.7" y="1692"/><use href="#q1" x="1673.8" y="1688.8"/><use href="#q1" x="1693.8" y="1684.4"/><use href="#q1" x="1713.9" y="1677.5"/><use href="#q1" x="1734" y="1669.3"/><use href="#q1" x="1754.1" y="1660.3"/><use href="#q1" x="1774.1" y="1650.8"/></g>
<g stroke="#f00" clip-path="url(#cd)"><use href="#q1" x="1392.8" y="1701.2"/><use href="#q1" x="1412.9" y="1701.1"/><use href="#q1" x="1432.9" y="1701.1"/><use href="#q1" x="1453" y="1700.9"/><use href="#q1" x="1473.1" y="1700.8"/><use href="#q1" x="1493.1" y="1700.6"/><use href="#q1" x="1513.2" y="1700.3"/><use href="#q1" x="1533.3" y="1699.9"/><use href="#q1" x="1553.3" y="1699.5"/><use href="#q1" x="1573.4" y="1698.8"/><use href="#q1" x="1593.5" y="1697.8"/><use href="#q1" x="1613.6" y="1696.2"/><use href="#q1" x="1633.6" y="1694.4"/><use href="#q1" x="1653.7" y="1692"/><use href="#q1" x="1673.8" y="1688.8"/><use href="#q1" x="1693.8" y="1684.4"/><use href="#q1" x="1713.9" y="1677.5"/></g>
<g stroke="#00f" clip-path="url(#cd)"><use href="#q1" x="1380.3" y="1701.3"/><use href="#q1" x="1400.3" y="1701.2"/><use href="#q1" x="1420.4" y="1701.1"/><use href="#q1" x="1440.5" y="1701.1"/><use href="#q1" x="1460.5" y="1701"/><use href="#q1" x="1480.6" y="1700.8"/><use href="#q1" x="1500.7" y="1700.7"/><use href="#q1" x="1520.8" y="1700.4"/><use href="#q1" x="1540.8" y="1700"/><use href="#q1" x="1560.9" y="1699.6"/><use href="#q1" x="1581" y="1699.2"/><use href="#q1" x="1601" y="1698.1"/><use href="#q1" x="1621.1" y="1696.6"/><use href="#q1" x="1641.2" y="1694.9"/><use href="#q1" x="1661.2" y="1692.7"/><use href="#q1" x="1681.3" y="1689.8"/><use href="#q1" x="1701.4" y="1685.8"/><use href="#q1" x="1721.4" y="1679.1"/><use href="#q1" x="1741.5" y="1671.2"/><use href="#q1" x="1761.6" y="1662.3"/><use href="#q1" x="1781.7" y="1652.8"/><use href="#q1" x="1801.7" y="1642.8"/><use href="#q1" x="1821.8" y="1631.3"/><use href="#q1" x="1841.9" y="1616.6"/><use href="#q1" x="1861.9" y="1604.6"/><use href="#q1" x="1882" y="1592.5"/><use href="#q1" x="1902.1" y="1577.6"/><use href="#q1" x="1922.1" y="1561.1"/><use href="#q1" x="1942.2" y="1544"/><use href="#q1" x="1962.3" y="1526.5"/><use href="#q1" x="1982.4" y="1508"/><use href="#q1" x="2002.4" y="1489.2"/><use href="#q1" x="2022.5" y="1470"/><use href="#q1" x="2042.6" y="1447.8"/><use href="#q1" x="2062.6" y="1425.9"/><use href="#q1" x="2082.7" y="1402.1"/><use href="#q1" x="2102.8" y="1380.7"/><use href="#q1" x="2122.8" y="1358.8"/><use href="#q1" x="2142.9" y="1333.3"/><use href="#q1" x="2163" y="1307.2"/><use href="#q1" x="2183" y="1281.9"/><use href="#q1" x="2203.1" y="1256.3"/><use href="#q1" x="2223.2" y="1229.4"/><use href="#q1" x="2243.3" y="1200.2"/><use href="#q1" x="2263.3" y="1168.6"/><use href="#q1" x="2283.4" y="1145.1"/><use href="#q1" x="2303.5" y="1123.6"/><use href="#q1" x="2323.5" y="1093.5"/></g>
<g stroke="#00f" clip-path="url(#cd)"><use href="#q1" x="1381.7" y="1701.3"/><use href="#q1" x="1401.8" y="1701.2"/><use href="#q1" x="1421.9" y="1701.1"/><use href="#q1" x="1442" y="1701.1"/><use href="#q1" x="1462" y="1701"/><use href="#q1" x="1482.1" y="1700.8"/><use href="#q1" x="1502.2" y="1700.7"/><use href="#q1" x="1522.2" y="1700.3"/><use href="#q1" x="1542.3" y="1700"/><use href="#q1" x="1562.4" y="1699.6"/><use href="#q1" x="1582.4" y="1699.1"/><use href="#q1" x="1602.5" y="1698.1"/><use href="#q1" x="1622.6" y="1696.5"/><use href="#q1" x="1642.7" y="1694.8"/><use href="#q1" x="1662.7" y="1692.5"/><use href="#q1" x="1682.8" y="1689.5"/><use href="#q1" x="1702.9" y="1685.5"/><use href="#q1" x="1722.9" y="1678.6"/><use href="#q1" x="1743" y="1670.5"/><use href="#q1" x="1763.1" y="1661.6"/><use href="#q1" x="1783.1" y="1652.1"/><use href="#q1" x="1803.2" y="1642.1"/><use href="#q1" x="1823.3" y="1630.2"/><use href="#q1" x="1843.3" y="1615.7"/><use href="#q1" x="1863.4" y="1603.7"/><use href="#q1" x="1883.5" y="1591.6"/><use href="#q1" x="1903.6" y="1576.5"/><use href="#q1" x="1923.6" y="1559.9"/><use href="#q1" x="1943.7" y="1542.7"/><use href="#q1" x="1963.8" y="1525.2"/><use href="#q1" x="1983.8" y="1506.6"/><use href="#q1" x="2003.9" y="1487.9"/><use href="#q1" x="2024" y="1468.3"/><use href="#q1" x="2044" y="1446.2"/><use href="#q1" x="2064.1" y="1424.2"/><use href="#q1" x="2084.2" y="1400.3"/><use href="#q1" x="2104.2" y="1379.3"/><use href="#q1" x="2124.3" y="1356.9"/><use href="#q1" x="2144.4" y="1331.4"/><use href="#q1" x="2164.5" y="1305.3"/><use href="#q1" x="2184.5" y="1280.1"/><use href="#q1" x="2204.6" y="1254.3"/></g>
<g stroke="#00f" clip-path="url(#cd)"><use href="#q1" x="1396.7" y="1701.2"/><use href="#q1" x="1416.7" y="1701.2"/><use href="#q1" x="1436.8" y="1701.1"/><use href="#q1" x="1456.9" y="1701"/><use href="#q1" x="1477" y="1700.9"/><use href="#q1" x="1497" y="1700.7"/><use href="#q1" x="1517.1" y="1700.4"/><use href="#q1" x="1537.2" y="1700.1"/><use href="#q1" x="1557.2" y="1699.7"/><use href="#q1" x="1577.3" y="1699.3"/><use href="#q1" x="1597.4" y="1698.3"/><use href="#q1" x="1617.4" y="1696.9"/><use href="#q1" x="1637.5" y="1695.2"/><use href="#q1" x="1657.6" y="1693.2"/><use href="#q1" x="1677.6" y="1690.4"/><use href="#q1" x="1697.7" y="1686.5"/><use href="#q1" x="1717.8" y="1680.4"/><use href="#q1" x="1737.9" y="1672.7"/><use href="#q1" x="1757.9" y="1664"/><use href="#q1" x="1778" y="1654.6"/><use href="#q1" x="1798.1" y="1644.6"/><use href="#q1" x="1818.1" y="1634"/><use href="#q1" x="1838.2" y="1619.1"/><use href="#q1" x="1858.3" y="1606.8"/><use href="#q1" x="1878.3" y="1594.7"/><use href="#q1" x="1898.4" y="1580.4"/><use href="#q1" x="1918.5" y="1564.3"/><use href="#q1" x="1938.5" y="1547.1"/><use href="#q1" x="1958.6" y="1529.9"/><use href="#q1" x="1978.7" y="1511.4"/><use href="#q1" x="1998.8" y="1492.7"/><use href="#q1" x="2018.8" y="1473.9"/><use href="#q1" x="2038.9" y="1451.9"/><use href="#q1" x="2059" y="1429.9"/><use href="#q1" x="2079" y="1406.6"/><use href="#q1" x="2099.1" y="1384.3"/></g>
<g stroke="#00f" clip-path="url(#cd)"><use href="#q1" x="1384.1" y="1701.3"/><use href="#q1" x="1404.2" y="1701.2"/><use href="#q1" x="1424.2" y="1701.1"/><use href="#q1" x="1444.3" y="1701.1"/><use href="#q1" x="1464.4" y="1700.9"/><use href="#q1" x="1484.4" y="1700.8"/><use href="#q1" x="1504.5" y="1700.6"/><use href="#q1" x="1524.6" y="1700.3"/><use href="#q1" x="1544.6" y="1700"/><use href="#q1" x="1564.7" y="1699.6"/><use href="#q1" x="1584.8" y="1699"/><use href="#q1" x="1604.8" y="1697.9"/><use href="#q1" x="1624.9" y="1696.3"/><use href="#q1" x="1645" y="1694.6"/><use href="#q1" x="1665.1" y="1692.2"/><use href="#q1" x="1685.1" y="1689"/><use href="#q1" x="1705.2" y="1684.8"/><use href="#q1" x="1725.3" y="1677.8"/><use href="#q1" x="1745.3" y="1669.5"/><use href="#q1" x="1765.4" y="1660.5"/><use href="#q1" x="1785.5" y="1650.9"/><use href="#q1" x="1805.5" y="1640.9"/><use href="#q1" x="1825.6" y="1628.5"/><use href="#q1" x="1845.7" y="1614.3"/><use href="#q1" x="1865.7" y="1602.3"/><use href="#q1" x="1885.8" y="1589.8"/><use href="#q1" x="1905.9" y="1574.8"/><use href="#q1" x="1926" y="1557.9"/><use href="#q1" x="1946" y="1540.7"/><use href="#q1" x="1966.1" y="1523"/><use href="#q1" x="1986.2" y="1504.4"/><use href="#q1" x="2006.2" y="1485.7"/></g>
<g stroke="#00f" clip-path="url(#cd)"><use href="#q1" x="1381.1" y="1701.3"/><use href="#q1" x="1401.2" y="1701.2"/><use href="#q1" x="1421.2" y="1701.1"/><use href="#q1" x="1441.3" y="1701.1"/><use href="#q1" x="1461.4" y="1701"/><use href="#q1" x="1481.4" y="1700.8"/><use href="#q1" x="1501.5" y="1700.7"/><use href="#q1" x="1521.6" y="1700.4"/><use href="#q1" x="1541.6" y="1700"/><use href="#q1" x="1561.7" y="1699.6"/><use href="#q1" x="1581.8" y="1699.1"/><use href="#q1" x="1601.9" y="1698.1"/><use href="#q1" x="1621.9" y="1696.6"/><use href="#q1" x="1642" y="1694.8"/><use href="#q1" x="1662.1" y="1692.6"/><use href="#q1" x="1682.1" y="1689.6"/><use href="#q1" x="1702.2" y="1685.6"/><use href="#q1" x="1722.3" y="1678.8"/><use href="#q1" x="1742.3" y="1670.8"/><use href="#q1" x="1762.4" y="1661.9"/><use href="#q1" x="1782.5" y="1652.4"/><use href="#q1" x="1802.5" y="1642.4"/><use href="#q1" x="1822.6" y="1630.7"/><use href="#q1" x="1842.7" y="1616.1"/><use href="#q1" x="1862.8" y="1604.1"/><use href="#q1" x="1882.8" y="1592"/><use href="#q1" x="1902.9" y="1577"/><use href="#q1" x="1923" y="1560.4"/></g>
<g stroke="#00f" clip-path="url(#cd)"><use href="#q1" x="1388" y="1701.2"/><use href="#q1" x="1408" y="1701.2"/><use href="#q1" x="1428.1" y="1701.1"/><use href="#q1" x="1448.2" y="1701.1"/><use href="#q1" x="1468.3" y="1700.9"/><use href="#q1" x="1488.3" y="1700.8"/><use href="#q1" x="1508.4" y="1700.6"/><use href="#q1" x="1528.5" y="1700.2"/><use href="#q1" x="1548.5" y="1699.9"/><use href="#q1" x="1568.6" y="1699.5"/><use href="#q1" x="1588.7" y="1698.8"/><use href="#q1" x="1608.7" y="1697.6"/><use href="#q1" x="1628.8" y="1696"/><use href="#q1" x="1648.9" y="1694.2"/><use href="#q1" x="1668.9" y="1691.7"/><use href="#q1" x="1689" y="1688.2"/><use href="#q1" x="1709.1" y="1683.4"/><use href="#q1" x="1729.2" y="1676.4"/><use href="#q1" x="1749.2" y="1667.9"/><use href="#q1" x="1769.3" y="1658.7"/><use href="#q1" x="1789.4" y="1649"/><use href="#q1" x="1809.4" y="1639"/><use href="#q1" x="1829.5" y="1625.5"/><use href="#q1" x="1849.6" y="1612"/></g>
<g stroke="#00f" clip-path="url(#cd)"><use href="#q1" x="1381.7" y="1701.3"/><use href="#q1" x="1401.7" y="1701.2"/><use href="#q1" x="1421.8" y="1701.1"/><use href="#q1" x="1441.9" y="1701.1"/><use href="#q1" x="1461.9" y="1701"/><use href="#q1" x="1482" y="1700.8"/><use href="#q1" x="1502.1" y="1700.7"/><use href="#q1" x="1522.1" y="1700.3"/><use href="#q1" x="1542.2" y="1700"/><use href="#q1" x="1562.3" y="1699.6"/><use href="#q1" x="1582.3" y="1699.1"/><use href="#q1" x="1602.4" y="1698.1"/><use href="#q1" x="1622.5" y="1696.5"/><use href="#q1" x="1642.6" y="1694.8"/><use href="#q1" x="1662.6" y="1692.5"/><use href="#q1" x="1682.7" y="1689.5"/><use href="#q1" x="1702.8" y="1685.5"/><use href="#q1" x="1722.8" y="1678.6"/><use href="#q1" x="1742.9" y="1670.6"/><use href="#q1" x="1763" y="1661.7"/><use href="#q1" x="1783" y="1652.1"/></g>
<g stroke="#00f" clip-path="url(#cd)"><use href="#q1" x="1381.6" y="1701.3"/><use href="#q1" x="1401.7" y="1701.2"/><use href="#q1" x="1421.8" y="1701.1"/><use href="#q1" x="1441.8" y="1701.1"/><use href="#q1" x="1461.9" y="1701"/><use href="#q1" x="1482" y="1700.8"/><use href="#q1" x="1502.1" y="1700.7"/><use href="#q1" x="1522.1" y="1700.3"/><use href="#q1" x="1542.2" y="1700"/><use href="#q1" x="1562.3" y="1699.6"/><use href="#q1" x="1582.3" y="1699.1"/><use href="#q1" x="1602.4" y="1698.1"/><use href="#q1" x="1622.5" y="1696.5"/><use href="#q1" x="1642.5" y="1694.8"/><use href="#q1" x="1662.6" y="1692.5"/><use href="#q1" x="1682.7" y="1689.5"/><use href="#q1" x="1702.8" y="1685.5"/><use href="#q1" x="1722.8" y="1678.6"/></g>
<g stroke="#f0f" clip-path="url(#cd)"><use href="#q1" x="1380.1" y="1701.3"/><use href="#q1" x="1400.2" y="1701.2"/><use href="#q1" x="1420.3" y="1701.2"/><use href="#q1" x="1440.3" y="1701.1"/><use href="#q1" x="1460.4" y="1701"/><use href="#q1" x="1480.5" y="1700.9"/><use href="#q1" x="1500.5" y="1700.8"/><use href="#q1" x="1520.6" y="1700.5"/><use href="#q1" x="1540.7" y="1700.2"/><use href="#q1" x="1560.7" y="1699.8"/><use href="#q1" x="1580.8" y="1699.3"/><use href="#q1" x="1600.9" y="1698.4"/><use href="#q1" x="1621" y="1697"/><use href="#q1" x="1641" y="1695.3"/><use href="#q1" x="1661.1" y="1693.2"/><use href="#q1" x="1681.2" y="1690.3"/><use href="#q1" x="1701.2" y="1686.2"/><use href="#q1" x="1721.3" y="1679.6"/><use href="#q1" x="1741.4" y="1671.4"/><use href="#q1" x="1761.4" y="1662.2"/><use href="#q1" x="1781.5" y="1652.3"/><use href="#q1" x="1801.6" y="1641.9"/><use href="#q1" x="1821.6" y="1629.4"/><use href="#q1" x="1841.7" y="1614.7"/><use href="#q1" x="1861.8" y="1602.2"/><use href="#q1" x="1881.9" y="1589.1"/><use href="#q1" x="1901.9" y="1573.5"/><use href="#q1" x="1922" y="1555.8"/><use href="#q1" x="1942.1" y="1537.9"/><use href="#q1" x="1962.1" y="1519.3"/><use href="#q1" x="1982.2" y="1500"/><use href="#q1" x="2002.3" y="1480.5"/><use href="#q1" x="2022.3" y="1458.8"/><use href="#q1" x="2042.4" y="1435.9"/><use href="#q1" x="2062.5" y="1412.4"/><use href="#q1" x="2082.5" y="1388.2"/><use href="#q1" x="2102.6" y="1367.5"/><use href="#q1" x="2122.7" y="1341.2"/><use href="#q1" x="2142.8" y="1314.2"/><use href="#q1" x="2162.8" y="1287.8"/><use href="#q1" x="2182.9" y="1261.5"/><use href="#q1" x="2203" y="1233.5"/><use href="#q1" x="2223" y="1203.6"/><use href="#q1" x="2243.1" y="1171.2"/><use href="#q1" x="2263.2" y="1145.8"/></g>
<g stroke="#f0f" clip-path="url(#cd)"><use href="#q1" x="1381.6" y="1701.3"/><use href="#q1" x="1401.7" y="1701.2"/><use href="#q1" x="1421.7" y="1701.2"/><use href="#q1" x="1441.8" y="1701.1"/><use href="#q1" x="1461.9" y="1701"/><use href="#q1" x="1481.9" y="1700.9"/><use href="#q1" x="1502" y="1700.8"/><use href="#q1" x="1522.1" y="1700.5"/><use href="#q1" x="1542.2" y="1700.1"/><use href="#q1" x="1562.2" y="1699.8"/><use href="#q1" x="1582.3" y="1699.3"/><use href="#q1" x="1602.4" y="1698.4"/><use href="#q1" x="1622.4" y="1696.9"/><use href="#q1" x="1642.5" y="1695.1"/><use href="#q1" x="1662.6" y="1693"/><use href="#q1" x="1682.6" y="1690"/><use href="#q1" x="1702.7" y="1685.9"/><use href="#q1" x="1722.8" y="1679"/><use href="#q1" x="1742.8" y="1670.7"/><use href="#q1" x="1762.9" y="1661.5"/><use href="#q1" x="1783" y="1651.5"/><use href="#q1" x="1803.1" y="1641.2"/><use href="#q1" x="1823.1" y="1628.3"/><use href="#q1" x="1843.2" y="1613.7"/><use href="#q1" x="1863.3" y="1601.2"/><use href="#q1" x="1883.3" y="1587.9"/><use href="#q1" x="1903.4" y="1572.2"/><use href="#q1" x="1923.5" y="1554.4"/><use href="#q1" x="1943.5" y="1536.6"/><use href="#q1" x="1963.6" y="1517.9"/><use href="#q1" x="1983.7" y="1498.5"/><use href="#q1" x="2003.8" y="1479.1"/><use href="#q1" x="2023.8" y="1457.1"/><use href="#q1" x="2043.9" y="1434.2"/><use href="#q1" x="2064" y="1410.5"/><use href="#q1" x="2084" y="1386.7"/><use href="#q1" x="2104.1" y="1365.6"/><use href="#q1" x="2124.2" y="1339.2"/><use href="#q1" x="2144.2" y="1312.2"/></g>
<g stroke="#f0f" clip-path="url(#cd)"><use href="#q1" x="1396.5" y="1701.3"/><use href="#q1" x="1416.6" y="1701.2"/><use href="#q1" x="1436.7" y="1701.1"/><use href="#q1" x="1456.7" y="1701.1"/><use href="#q1" x="1476.8" y="1700.9"/><use href="#q1" x="1496.9" y="1700.8"/><use href="#q1" x="1516.9" y="1700.6"/><use href="#q1" x="1537" y="1700.2"/><use href="#q1" x="1557.1" y="1699.9"/><use href="#q1" x="1577.1" y="1699.4"/><use href="#q1" x="1597.2" y="1698.6"/><use href="#q1" x="1617.3" y="1697.3"/><use href="#q1" x="1637.4" y="1695.6"/><use href="#q1" x="1657.4" y="1693.8"/><use href="#q1" x="1677.5" y="1690.9"/><use href="#q1" x="1697.6" y="1686.9"/><use href="#q1" x="1717.6" y="1680.9"/><use href="#q1" x="1737.7" y="1673"/><use href="#q1" x="1757.8" y="1664"/><use href="#q1" x="1777.8" y="1654.2"/><use href="#q1" x="1797.9" y="1643.8"/><use href="#q1" x="1818" y="1632.3"/><use href="#q1" x="1838.1" y="1616.9"/><use href="#q1" x="1858.1" y="1604.4"/><use href="#q1" x="1878.2" y="1591.9"/><use href="#q1" x="1898.3" y="1576.3"/><use href="#q1" x="1918.3" y="1559"/><use href="#q1" x="1938.4" y="1541.2"/><use href="#q1" x="1958.5" y="1522.8"/><use href="#q1" x="1978.5" y="1503.5"/><use href="#q1" x="1998.6" y="1484.1"/><use href="#q1" x="2018.7" y="1463"/><use href="#q1" x="2038.7" y="1440.1"/></g>
<g stroke="#f0f" clip-path="url(#cd)"><use href="#q1" x="1383.9" y="1701.3"/><use href="#q1" x="1404" y="1701.2"/><use href="#q1" x="1424.1" y="1701.2"/><use href="#q1" x="1444.1" y="1701.1"/><use href="#q1" x="1464.2" y="1701"/><use href="#q1" x="1484.3" y="1700.9"/><use href="#q1" x="1504.3" y="1700.7"/><use href="#q1" x="1524.4" y="1700.5"/><use href="#q1" x="1544.5" y="1700.1"/><use href="#q1" x="1564.6" y="1699.7"/><use href="#q1" x="1584.6" y="1699.2"/><use href="#q1" x="1604.7" y="1698.2"/><use href="#q1" x="1624.8" y="1696.7"/><use href="#q1" x="1644.8" y="1694.9"/><use href="#q1" x="1664.9" y="1692.7"/><use href="#q1" x="1685" y="1689.6"/><use href="#q1" x="1705" y="1685.4"/><use href="#q1" x="1725.1" y="1678.2"/><use href="#q1" x="1745.2" y="1669.7"/><use href="#q1" x="1765.3" y="1660.3"/><use href="#q1" x="1785.3" y="1650.3"/><use href="#q1" x="1805.4" y="1640"/><use href="#q1" x="1825.5" y="1626.5"/><use href="#q1" x="1845.5" y="1612.3"/><use href="#q1" x="1865.6" y="1599.8"/><use href="#q1" x="1885.7" y="1586.1"/><use href="#q1" x="1905.7" y="1570.2"/><use href="#q1" x="1925.8" y="1552.4"/><use href="#q1" x="1945.9" y="1534.5"/></g>
<g stroke="#f0f" clip-path="url(#cd)"><use href="#q1" x="1380.9" y="1701.3"/><use href="#q1" x="1401" y="1701.2"/><use href="#q1" x="1421.1" y="1701.2"/><use href="#q1" x="1441.1" y="1701.1"/><use href="#q1" x="1461.2" y="1701"/><use href="#q1" x="1481.3" y="1700.9"/><use href="#q1" x="1501.4" y="1700.8"/><use href="#q1" x="1521.4" y="1700.5"/><use href="#q1" x="1541.5" y="1700.1"/><use href="#q1" x="1561.6" y="1699.8"/><use href="#q1" x="1581.6" y="1699.3"/><use href="#q1" x="1601.7" y="1698.4"/><use href="#q1" x="1621.8" y="1697"/><use href="#q1" x="1641.8" y="1695.2"/><use href="#q1" x="1661.9" y="1693.1"/><use href="#q1" x="1682" y="1690.2"/><use href="#q1" x="1702.1" y="1686"/><use href="#q1" x="1722.1" y="1679.3"/><use href="#q1" x="1742.2" y="1671"/><use href="#q1" x="1762.3" y="1661.8"/><use href="#q1" x="1782.3" y="1651.9"/><use href="#q1" x="1802.4" y="1641.5"/><use href="#q1" x="1822.5" y="1628.8"/><use href="#q1" x="1842.5" y="1614.1"/><use href="#q1" x="1862.6" y="1601.6"/></g>
<g stroke="#f0f" clip-path="url(#cd)"><use href="#q1" x="1387.8" y="1701.3"/><use href="#q1" x="1407.9" y="1701.2"/><use href="#q1" x="1428" y="1701.2"/><use href="#q1" x="1448" y="1701.1"/><use href="#q1" x="1468.1" y="1701"/><use href="#q1" x="1488.2" y="1700.9"/><use href="#q1" x="1508.2" y="1700.7"/><use href="#q1" x="1528.3" y="1700.4"/><use href="#q1" x="1548.4" y="1700"/><use href="#q1" x="1568.5" y="1699.6"/><use href="#q1" x="1588.5" y="1699.1"/><use href="#q1" x="1608.6" y="1698"/><use href="#q1" x="1628.7" y="1696.4"/><use href="#q1" x="1648.7" y="1694.6"/><use href="#q1" x="1668.8" y="1692.1"/><use href="#q1" x="1688.9" y="1688.8"/><use href="#q1" x="1708.9" y="1684"/><use href="#q1" x="1729" y="1676.8"/><use href="#q1" x="1749.1" y="1668"/><use href="#q1" x="1769.1" y="1658.5"/><use href="#q1" x="1789.2" y="1648.3"/></g>
<g stroke="#f0f" clip-path="url(#cd)"><use href="#q1" x="1381.5" y="1701.3"/><use href="#q1" x="1401.6" y="1701.2"/><use href="#q1" x="1421.6" y="1701.2"/><use href="#q1" x="1441.7" y="1701.1"/><use href="#q1" x="1461.8" y="1701"/><use href="#q1" x="1481.9" y="1700.9"/><use href="#q1" x="1501.9" y="1700.8"/><use href="#q1" x="1522" y="1700.5"/><use href="#q1" x="1542.1" y="1700.1"/><use href="#q1" x="1562.1" y="1699.8"/><use href="#q1" x="1582.2" y="1699.3"/><use href="#q1" x="1602.3" y="1698.4"/><use href="#q1" x="1622.3" y="1696.9"/><use href="#q1" x="1642.4" y="1695.2"/><use href="#q1" x="1662.5" y="1693"/><use href="#q1" x="1682.5" y="1690.1"/><use href="#q1" x="1702.6" y="1685.9"/><use href="#q1" x="1722.7" y="1679.1"/></g>
<g stroke="#f0f" clip-path="url(#cd)"><use href="#q1" x="1381.5" y="1701.3"/><use href="#q1" x="1401.6" y="1701.2"/><use href="#q1" x="1421.6" y="1701.2"/><use href="#q1" x="1441.7" y="1701.1"/><use href="#q1" x="1461.8" y="1701"/><use href="#q1" x="1481.8" y="1700.9"/><use href="#q1" x="1501.9" y="1700.8"/><use href="#q1" x="1522" y="1700.5"/><use href="#q1" x="1542" y="1700.1"/><use href="#q1" x="1562.1" y="1699.8"/><use href="#q1" x="1582.2" y="1699.3"/><use href="#q1" x="1602.3" y="1698.4"/><use href="#q1" x="1622.3" y="1696.9"/><use href="#q1" x="1642.4" y="1695.2"/><use href="#q1" x="1662.5" y="1693"/></g>
<g stroke="#008000" clip-path="url(#cd)"><use href="#q1" x="1382.7" y="1701.3"/><use href="#q1" x="1402.8" y="1701.3"/><use href="#q1" x="1422.9" y="1701.2"/><use href="#q1" x="1442.9" y="1701.1"/><use href="#q1" x="1463" y="1701.1"/><use href="#q1" x="1483.1" y="1700.9"/><use href="#q1" x="1503.1" y="1700.8"/><use href="#q1" x="1523.2" y="1700.6"/><use href="#q1" x="1543.3" y="1700.3"/><use href="#q1" x="1563.3" y="1699.9"/><use href="#q1" x="1583.4" y="1699.5"/><use href="#q1" x="1603.5" y="1698.8"/><use href="#q1" x="1623.6" y="1697.6"/><use href="#q1" x="1643.6" y="1696"/><use href="#q1" x="1663.7" y="1694.1"/><use href="#q1" x="1683.8" y="1691.5"/><use href="#q1" x="1703.8" y="1687.9"/><use href="#q1" x="1723.9" y="1682.6"/><use href="#q1" x="1744" y="1675.2"/><use href="#q1" x="1764" y="1666.5"/><use href="#q1" x="1784.1" y="1656.9"/><use href="#q1" x="1804.2" y="1646.8"/><use href="#q1" x="1824.3" y="1636.5"/><use href="#q1" x="1844.3" y="1621.5"/><use href="#q1" x="1864.4" y="1608.4"/><use href="#q1" x="1884.5" y="1596.1"/><use href="#q1" x="1904.5" y="1581.7"/><use href="#q1" x="1924.6" y="1565.3"/><use href="#q1" x="1944.7" y="1547.7"/><use href="#q1" x="1964.7" y="1530.1"/><use href="#q1" x="1984.8" y="1511.1"/><use href="#q1" x="2004.9" y="1491.9"/><use href="#q1" x="2024.9" y="1472.5"/><use href="#q1" x="2045" y="1449.8"/><use href="#q1" x="2065.1" y="1427.3"/><use href="#q1" x="2085.2" y="1403.1"/><use href="#q1" x="2105.2" y="1381"/><use href="#q1" x="2125.3" y="1358.5"/><use href="#q1" x="2145.4" y="1332.3"/><use href="#q1" x="2165.4" y="1305.6"/><use href="#q1" x="2185.5" y="1279.7"/><use href="#q1" x="2205.6" y="1253.2"/><use href="#q1" x="2225.6" y="1225.3"/><use href="#q1" x="2245.7" y="1195.4"/><use href="#q1" x="2265.8" y="1162.5"/></g>
<g stroke="#008000" clip-path="url(#cd)"><use href="#q1" x="1384.2" y="1701.3"/><use href="#q1" x="1404.3" y="1701.3"/><use href="#q1" x="1424.3" y="1701.2"/><use href="#q1" x="1444.4" y="1701.1"/><use href="#q1" x="1464.5" y="1701.1"/><use href="#q1" x="1484.6" y="1700.9"/><use href="#q1" x="1504.6" y="1700.8"/><use href="#q1" x="1524.7" y="1700.6"/><use href="#q1" x="1544.8" y="1700.2"/><use href="#q1" x="1564.8" y="1699.9"/><use href="#q1" x="1584.9" y="1699.5"/><use href="#q1" x="1605" y="1698.7"/><use href="#q1" x="1625" y="1697.5"/><use href="#q1" x="1645.1" y="1695.8"/><use href="#q1" x="1665.2" y="1694"/><use href="#q1" x="1685.2" y="1691.3"/><use href="#q1" x="1705.3" y="1687.6"/><use href="#q1" x="1725.4" y="1682.1"/><use href="#q1" x="1745.5" y="1674.5"/><use href="#q1" x="1765.5" y="1665.8"/><use href="#q1" x="1785.6" y="1656.2"/><use href="#q1" x="1805.7" y="1646"/><use href="#q1" x="1825.7" y="1635.7"/><use href="#q1" x="1845.8" y="1620.4"/><use href="#q1" x="1865.9" y="1607.5"/><use href="#q1" x="1885.9" y="1595.2"/><use href="#q1" x="1906" y="1580.6"/><use href="#q1" x="1926.1" y="1564"/><use href="#q1" x="1946.1" y="1546.4"/><use href="#q1" x="1966.2" y="1528.7"/><use href="#q1" x="1986.3" y="1509.7"/><use href="#q1" x="2006.4" y="1490.5"/><use href="#q1" x="2026.4" y="1470.9"/><use href="#q1" x="2046.5" y="1448.2"/><use href="#q1" x="2066.6" y="1425.6"/><use href="#q1" x="2086.6" y="1401.2"/><use href="#q1" x="2106.7" y="1379.5"/><use href="#q1" x="2126.8" y="1356.6"/><use href="#q1" x="2146.8" y="1330.3"/></g>
<g stroke="#008000" clip-path="url(#cd)"><use href="#q1" x="1379.1" y="1701.3"/><use href="#q1" x="1399.1" y="1701.3"/><use href="#q1" x="1419.2" y="1701.2"/><use href="#q1" x="1439.3" y="1701.2"/><use href="#q1" x="1459.3" y="1701.1"/><use href="#q1" x="1479.4" y="1701"/><use href="#q1" x="1499.5" y="1700.8"/><use href="#q1" x="1519.5" y="1700.7"/><use href="#q1" x="1539.6" y="1700.3"/><use href="#q1" x="1559.7" y="1700"/><use href="#q1" x="1579.8" y="1699.6"/><use href="#q1" x="1599.8" y="1699"/><use href="#q1" x="1619.9" y="1697.9"/><use href="#q1" x="1640" y="1696.3"/><use href="#q1" x="1660" y="1694.5"/><use href="#q1" x="1680.1" y="1692"/><use href="#q1" x="1700.2" y="1688.6"/><use href="#q1" x="1720.2" y="1683.9"/><use href="#q1" x="1740.3" y="1676.7"/><use href="#q1" x="1760.4" y="1668.1"/><use href="#q1" x="1780.4" y="1658.6"/><use href="#q1" x="1800.5" y="1648.7"/><use href="#q1" x="1820.6" y="1638.4"/><use href="#q1" x="1840.7" y="1624.3"/><use href="#q1" x="1860.7" y="1610.7"/><use href="#q1" x="1880.8" y="1598.3"/><use href="#q1" x="1900.9" y="1584.5"/><use href="#q1" x="1920.9" y="1568.5"/><use href="#q1" x="1941" y="1551"/><use href="#q1" x="1961.1" y="1533.3"/><use href="#q1" x="1981.1" y="1514.6"/><use href="#q1" x="2001.2" y="1495.4"/><use href="#q1" x="2021.3" y="1476.2"/><use href="#q1" x="2041.4" y="1454"/></g>
<g stroke="#008000" clip-path="url(#cd)"><use href="#q1" x="1386.5" y="1701.3"/><use href="#q1" x="1406.6" y="1701.3"/><use href="#q1" x="1426.7" y="1701.2"/><use href="#q1" x="1446.7" y="1701.1"/><use href="#q1" x="1466.8" y="1701.1"/><use href="#q1" x="1486.9" y="1700.9"/><use href="#q1" x="1507" y="1700.8"/><use href="#q1" x="1527" y="1700.6"/><use href="#q1" x="1547.1" y="1700.2"/><use href="#q1" x="1567.2" y="1699.9"/><use href="#q1" x="1587.2" y="1699.4"/><use href="#q1" x="1607.3" y="1698.6"/><use href="#q1" x="1627.4" y="1697.3"/><use href="#q1" x="1647.4" y="1695.6"/><use href="#q1" x="1667.5" y="1693.8"/><use href="#q1" x="1687.6" y="1690.9"/><use href="#q1" x="1707.6" y="1687.1"/><use href="#q1" x="1727.7" y="1681.2"/><use href="#q1" x="1747.8" y="1673.5"/><use href="#q1" x="1767.9" y="1664.7"/><use href="#q1" x="1787.9" y="1655"/><use href="#q1" x="1808" y="1644.8"/><use href="#q1" x="1828.1" y="1634"/><use href="#q1" x="1848.1" y="1618.6"/><use href="#q1" x="1868.2" y="1606.1"/><use href="#q1" x="1888.3" y="1593.7"/><use href="#q1" x="1908.3" y="1578.8"/><use href="#q1" x="1928.4" y="1562"/><use href="#q1" x="1948.5" y="1544.4"/></g>
<g stroke="#008000" clip-path="url(#cd)"><use href="#q1" x="1383.5" y="1701.3"/><use href="#q1" x="1403.6" y="1701.3"/><use href="#q1" x="1423.7" y="1701.2"/><use href="#q1" x="1443.8" y="1701.1"/><use href="#q1" x="1463.8" y="1701.1"/><use href="#q1" x="1483.9" y="1700.9"/><use href="#q1" x="1504" y="1700.8"/><use href="#q1" x="1524" y="1700.6"/><use href="#q1" x="1544.1" y="1700.3"/><use href="#q1" x="1564.2" y="1699.9"/><use href="#q1" x="1584.2" y="1699.5"/><use href="#q1" x="1604.3" y="1698.8"/><use href="#q1" x="1624.4" y="1697.6"/><use href="#q1" x="1644.4" y="1695.9"/><use href="#q1" x="1664.5" y="1694.1"/><use href="#q1" x="1684.6" y="1691.4"/><use href="#q1" x="1704.7" y="1687.7"/><use href="#q1" x="1724.7" y="1682.3"/><use href="#q1" x="1744.8" y="1674.8"/><use href="#q1" x="1764.9" y="1666.1"/><use href="#q1" x="1784.9" y="1656.5"/><use href="#q1" x="1805" y="1646.4"/><use href="#q1" x="1825.1" y="1636.1"/><use href="#q1" x="1845.1" y="1620.9"/><use href="#q1" x="1865.2" y="1607.9"/></g>
<g stroke="#008000" clip-path="url(#cd)"><use href="#q1" x="1390.4" y="1701.3"/><use href="#q1" x="1410.5" y="1701.2"/><use href="#q1" x="1430.6" y="1701.2"/><use href="#q1" x="1450.6" y="1701.1"/><use href="#q1" x="1470.7" y="1701"/><use href="#q1" x="1490.8" y="1700.9"/><use href="#q1" x="1510.8" y="1700.8"/><use href="#q1" x="1530.9" y="1700.5"/><use href="#q1" x="1551" y="1700.1"/><use href="#q1" x="1571.1" y="1699.8"/><use href="#q1" x="1591.1" y="1699.3"/><use href="#q1" x="1611.2" y="1698.4"/><use href="#q1" x="1631.3" y="1697"/><use href="#q1" x="1651.3" y="1695.3"/><use href="#q1" x="1671.4" y="1693.3"/><use href="#q1" x="1691.5" y="1690.4"/><use href="#q1" x="1711.5" y="1686.3"/><use href="#q1" x="1731.6" y="1679.8"/><use href="#q1" x="1751.7" y="1671.8"/><use href="#q1" x="1771.8" y="1662.8"/><use href="#q1" x="1791.8" y="1653.1"/></g>
<g stroke="#008000" clip-path="url(#cd)"><use href="#q1" x="1384.1" y="1701.3"/><use href="#q1" x="1404.2" y="1701.3"/><use href="#q1" x="1424.2" y="1701.2"/><use href="#q1" x="1444.3" y="1701.1"/><use href="#q1" x="1464.4" y="1701.1"/><use href="#q1" x="1484.5" y="1700.9"/><use href="#q1" x="1504.5" y="1700.8"/><use href="#q1" x="1524.6" y="1700.6"/><use href="#q1" x="1544.7" y="1700.2"/><use href="#q1" x="1564.7" y="1699.9"/><use href="#q1" x="1584.8" y="1699.5"/><use href="#q1" x="1604.9" y="1698.7"/><use href="#q1" x="1624.9" y="1697.5"/><use href="#q1" x="1645" y="1695.8"/><use href="#q1" x="1665.1" y="1694"/><use href="#q1" x="1685.2" y="1691.3"/><use href="#q1" x="1705.2" y="1687.6"/><use href="#q1" x="1725.3" y="1682.1"/></g>
<g stroke="#008000" clip-path="url(#cd)"><use href="#q1" x="1384.1" y="1701.3"/><use href="#q1" x="1404.2" y="1701.3"/><use href="#q1" x="1424.2" y="1701.2"/><use href="#q1" x="1444.3" y="1701.1"/><use href="#q1" x="1464.4" y="1701.1"/><use href="#q1" x="1484.4" y="1700.9"/><use href="#q1" x="1504.5" y="1700.8"/><use href="#q1" x="1524.6" y="1700.6"/><use href="#q1" x="1544.7" y="1700.2"/><use href="#q1" x="1564.7" y="1699.9"/><use href="#q1" x="1584.8" y="1699.5"/><use href="#q1" x="1604.9" y="1698.7"/><use href="#q1" x="1624.9" y="1697.5"/><use href="#q1" x="1645" y="1695.8"/><use href="#q1" x="1665.1" y="1694"/></g>
<g stroke="#000" clip-path="url(#ci)"><use href="#q2" x="328.2" y="1466.3"/><use href="#q2" x="345.8" y="1465.9"/><use href="#q2" x="363.5" y="1464.9"/><use href="#q2" x="381.1" y="1463.3"/><use href="#q2" x="398.7" y="1461.5"/><use href="#q2" x="416.3" y="1458.7"/><use href="#q2" x="434" y="1454.7"/><use href="#q2" x="451.6" y="1447.8"/><use href="#q2" x="469.2" y="1439.3"/><use href="#q2" x="486.8" y="1429.7"/><use href="#q2" x="504.5" y="1419.4"/><use href="#q2" x="522.1" y="1407.3"/><use href="#q2" x="539.7" y="1393"/><use href="#q2" x="557.4" y="1380.5"/><use href="#q2" x="575" y="1366.1"/><use href="#q2" x="592.6" y="1349.2"/><use href="#q2" x="610.2" y="1331.4"/><use href="#q2" x="627.9" y="1312.9"/><use href="#q2" x="645.5" y="1293.6"/><use href="#q2" x="663.1" y="1273.7"/><use href="#q2" x="680.7" y="1250.9"/></g>
<g stroke="#000" clip-path="url(#ci)"><use href="#q2" x="329.5" y="1466.3"/><use href="#q2" x="347.2" y="1465.8"/><use href="#q2" x="364.8" y="1464.8"/><use href="#q2" x="382.4" y="1463.2"/><use href="#q2" x="400.1" y="1461.3"/><use href="#q2" x="417.7" y="1458.5"/><use href="#q2" x="435.3" y="1454.4"/><use href="#q2" x="452.9" y="1447.3"/><use href="#q2" x="470.6" y="1438.6"/><use href="#q2" x="488.2" y="1428.9"/><use href="#q2" x="505.8" y="1418.6"/><use href="#q2" x="523.5" y="1406.1"/><use href="#q2" x="541.1" y="1392"/><use href="#q2" x="558.7" y="1379.5"/><use href="#q2" x="576.3" y="1364.9"/><use href="#q2" x="594" y="1347.8"/><use href="#q2" x="611.6" y="1330.1"/><use href="#q2" x="629.2" y="1311.4"/><use href="#q2" x="646.8" y="1292.1"/><use href="#q2" x="664.5" y="1272"/><use href="#q2" x="682.1" y="1249.1"/></g>
<g stroke="#000" clip-path="url(#ci)"><use href="#q2" x="323.1" y="1466.4"/><use href="#q2" x="340.7" y="1466"/><use href="#q2" x="358.3" y="1465.2"/><use href="#q2" x="376" y="1463.8"/><use href="#q2" x="393.6" y="1462"/><use href="#q2" x="411.2" y="1459.5"/><use href="#q2" x="428.8" y="1455.9"/><use href="#q2" x="446.5" y="1449.9"/><use href="#q2" x="464.1" y="1441.8"/><use href="#q2" x="481.7" y="1432.5"/><use href="#q2" x="499.4" y="1422.4"/><use href="#q2" x="517" y="1411.8"/><use href="#q2" x="534.6" y="1396.6"/><use href="#q2" x="552.2" y="1384.1"/><use href="#q2" x="569.9" y="1370.6"/><use href="#q2" x="587.5" y="1354.3"/><use href="#q2" x="605.1" y="1336.6"/><use href="#q2" x="622.8" y="1318.4"/><use href="#q2" x="640.4" y="1299.2"/><use href="#q2" x="658" y="1279.8"/><use href="#q2" x="675.6" y="1257.5"/><use href="#q2" x="693.3" y="1234.7"/></g>
<g stroke="#000" clip-path="url(#ci)"><use href="#q2" x="325.8" y="1466.4"/><use href="#q2" x="343.5" y="1465.9"/><use href="#q2" x="361.1" y="1465"/><use href="#q2" x="378.7" y="1463.5"/><use href="#q2" x="396.3" y="1461.7"/><use href="#q2" x="414" y="1459.1"/><use href="#q2" x="431.6" y="1455.3"/><use href="#q2" x="449.2" y="1448.8"/><use href="#q2" x="466.8" y="1440.5"/><use href="#q2" x="484.5" y="1431"/><use href="#q2" x="502.1" y="1420.8"/><use href="#q2" x="519.7" y="1409.4"/><use href="#q2" x="537.4" y="1394.6"/><use href="#q2" x="555" y="1382.2"/><use href="#q2" x="572.6" y="1368.2"/><use href="#q2" x="590.2" y="1351.6"/><use href="#q2" x="607.9" y="1333.8"/><use href="#q2" x="625.5" y="1315.4"/><use href="#q2" x="643.1" y="1296.2"/><use href="#q2" x="660.7" y="1276.8"/><use href="#q2" x="678.4" y="1253.9"/></g>
<g stroke="#000" clip-path="url(#ci)"><use href="#q2" x="335.6" y="1466.2"/><use href="#q2" x="353.2" y="1465.5"/><use href="#q2" x="370.8" y="1464.3"/><use href="#q2" x="388.5" y="1462.5"/><use href="#q2" x="406.1" y="1460.4"/><use href="#q2" x="423.7" y="1457.1"/><use href="#q2" x="441.3" y="1452"/><use href="#q2" x="459" y="1444.4"/><use href="#q2" x="476.6" y="1435.3"/><use href="#q2" x="494.2" y="1425.4"/><use href="#q2" x="511.8" y="1415.1"/><use href="#q2" x="529.5" y="1400.8"/><use href="#q2" x="547.1" y="1387.7"/><use href="#q2" x="564.7" y="1375.1"/><use href="#q2" x="582.4" y="1359.5"/><use href="#q2" x="600" y="1341.8"/><use href="#q2" x="617.6" y="1324"/><use href="#q2" x="635.2" y="1304.8"/></g>
<g stroke="#000" clip-path="url(#ci)"><use href="#q2" x="334.9" y="1466.2"/><use href="#q2" x="352.5" y="1465.6"/><use href="#q2" x="370.2" y="1464.3"/><use href="#q2" x="387.8" y="1462.6"/><use href="#q2" x="405.4" y="1460.5"/><use href="#q2" x="423" y="1457.3"/><use href="#q2" x="440.7" y="1452.3"/><use href="#q2" x="458.3" y="1444.7"/><use href="#q2" x="475.9" y="1435.7"/><use href="#q2" x="493.6" y="1425.8"/><use href="#q2" x="511.2" y="1415.5"/><use href="#q2" x="528.8" y="1401.4"/><use href="#q2" x="546.4" y="1388.2"/><use href="#q2" x="564.1" y="1375.7"/><use href="#q2" x="581.7" y="1360.2"/></g>
<g stroke="#000" clip-path="url(#ci)"><use href="#q2" x="321.6" y="1466.5"/><use href="#q2" x="339.2" y="1466.1"/><use href="#q2" x="356.9" y="1465.3"/><use href="#q2" x="374.5" y="1463.9"/><use href="#q2" x="392.1" y="1462.2"/><use href="#q2" x="409.7" y="1459.8"/><use href="#q2" x="427.4" y="1456.3"/><use href="#q2" x="445" y="1450.5"/><use href="#q2" x="462.6" y="1442.6"/><use href="#q2" x="480.3" y="1433.3"/><use href="#q2" x="497.9" y="1423.3"/><use href="#q2" x="515.5" y="1413"/><use href="#q2" x="533.1" y="1397.6"/></g>
<g stroke="#000" clip-path="url(#ci)"><use href="#q2" x="330.5" y="1466.3"/><use href="#q2" x="348.2" y="1465.8"/><use href="#q2" x="365.8" y="1464.8"/><use href="#q2" x="383.4" y="1463.1"/><use href="#q2" x="401.1" y="1461.2"/><use href="#q2" x="418.7" y="1458.3"/><use href="#q2" x="436.3" y="1454.1"/><use href="#q2" x="453.9" y="1446.9"/><use href="#q2" x="471.6" y="1438.1"/><use href="#q2" x="489.2" y="1428.4"/></g>
<g stroke="#f00" clip-path="url(#ci)"><use href="#q2" x="322.3" y="1466.4"/><use href="#q2" x="336.9" y="1466"/><use href="#q2" x="351.6" y="1465.3"/><use href="#q2" x="366.2" y="1464.2"/><use href="#q2" x="380.9" y="1462.8"/><use href="#q2" x="395.5" y="1461.3"/><use href="#q2" x="410.2" y="1458.9"/><use href="#q2" x="424.8" y="1455.7"/><use href="#q2" x="439.5" y="1450.8"/><use href="#q2" x="454.1" y="1444.3"/><use href="#q2" x="468.7" y="1436.9"/><use href="#q2" x="483.4" y="1428.8"/><use href="#q2" x="498" y="1420.3"/><use href="#q2" x="512.7" y="1411.2"/><use href="#q2" x="527.3" y="1398.3"/><use href="#q2" x="542" y="1387.8"/><use href="#q2" x="556.6" y="1377.5"/><use href="#q2" x="571.3" y="1365"/><use href="#q2" x="585.9" y="1350.9"/><use href="#q2" x="600.5" y="1336.2"/><use href="#q2" x="615.2" y="1321.2"/><use href="#q2" x="629.8" y="1305.3"/><use href="#q2" x="644.5" y="1289.2"/><use href="#q2" x="659.1" y="1272.4"/><use href="#q2" x="673.8" y="1253.4"/><use href="#q2" x="688.4" y="1234.5"/></g>
<g stroke="#f00" clip-path="url(#ci)"><use href="#q2" x="323.4" y="1466.3"/><use href="#q2" x="338" y="1466"/><use href="#q2" x="352.7" y="1465.3"/><use href="#q2" x="367.3" y="1464.1"/><use href="#q2" x="382" y="1462.7"/><use href="#q2" x="396.6" y="1461.1"/><use href="#q2" x="411.2" y="1458.7"/><use href="#q2" x="425.9" y="1455.4"/><use href="#q2" x="440.5" y="1450.3"/><use href="#q2" x="455.2" y="1443.8"/><use href="#q2" x="469.8" y="1436.3"/><use href="#q2" x="484.5" y="1428.2"/><use href="#q2" x="499.1" y="1419.6"/><use href="#q2" x="513.8" y="1410.2"/><use href="#q2" x="528.4" y="1397.4"/><use href="#q2" x="543.1" y="1387.1"/><use href="#q2" x="557.7" y="1376.7"/><use href="#q2" x="572.3" y="1364"/><use href="#q2" x="587" y="1349.8"/><use href="#q2" x="601.6" y="1335.1"/><use href="#q2" x="616.3" y="1320"/><use href="#q2" x="630.9" y="1304.1"/><use href="#q2" x="645.6" y="1288"/><use href="#q2" x="660.2" y="1271"/><use href="#q2" x="674.9" y="1252"/><use href="#q2" x="689.5" y="1233.1"/></g>
<g stroke="#f00" clip-path="url(#ci)"><use href="#q2" x="319.6" y="1466.4"/><use href="#q2" x="334.3" y="1466.1"/><use href="#q2" x="348.9" y="1465.5"/><use href="#q2" x="363.6" y="1464.5"/><use href="#q2" x="378.2" y="1463.1"/><use href="#q2" x="392.9" y="1461.6"/><use href="#q2" x="407.5" y="1459.3"/><use href="#q2" x="422.1" y="1456.3"/><use href="#q2" x="436.8" y="1451.9"/><use href="#q2" x="451.4" y="1445.6"/><use href="#q2" x="466.1" y="1438.4"/><use href="#q2" x="480.7" y="1430.3"/><use href="#q2" x="495.4" y="1421.8"/><use href="#q2" x="510" y="1413.3"/><use href="#q2" x="524.7" y="1400.7"/><use href="#q2" x="539.3" y="1389.7"/><use href="#q2" x="553.9" y="1379.4"/><use href="#q2" x="568.6" y="1367.3"/><use href="#q2" x="583.2" y="1353.6"/><use href="#q2" x="597.9" y="1338.9"/><use href="#q2" x="612.5" y="1324.1"/><use href="#q2" x="627.2" y="1308.2"/><use href="#q2" x="641.8" y="1292.1"/><use href="#q2" x="656.5" y="1275.9"/><use href="#q2" x="671.1" y="1256.9"/><use href="#q2" x="685.7" y="1238"/></g>
<g stroke="#f00" clip-path="url(#ci)"><use href="#q2" x="325.1" y="1466.3"/><use href="#q2" x="339.7" y="1465.9"/><use href="#q2" x="354.4" y="1465.1"/><use href="#q2" x="369" y="1464"/><use href="#q2" x="383.7" y="1462.5"/><use href="#q2" x="398.3" y="1460.8"/><use href="#q2" x="413" y="1458.4"/><use href="#q2" x="427.6" y="1455"/><use href="#q2" x="442.2" y="1449.6"/><use href="#q2" x="456.9" y="1442.9"/><use href="#q2" x="471.5" y="1435.4"/><use href="#q2" x="486.2" y="1427.2"/><use href="#q2" x="500.8" y="1418.6"/><use href="#q2" x="515.5" y="1408.7"/><use href="#q2" x="530.1" y="1396.2"/><use href="#q2" x="544.8" y="1385.9"/><use href="#q2" x="559.4" y="1375.4"/><use href="#q2" x="574" y="1362.5"/><use href="#q2" x="588.7" y="1348.1"/><use href="#q2" x="603.3" y="1333.3"/><use href="#q2" x="618" y="1318.2"/><use href="#q2" x="632.6" y="1302.2"/><use href="#q2" x="647.3" y="1286.1"/><use href="#q2" x="661.9" y="1268.8"/><use href="#q2" x="676.6" y="1249.8"/><use href="#q2" x="691.2" y="1230.9"/></g>
<g stroke="#f00" clip-path="url(#ci)"><use href="#q2" x="322.9" y="1466.3"/><use href="#q2" x="337.5" y="1466"/><use href="#q2" x="352.2" y="1465.3"/><use href="#q2" x="366.8" y="1464.2"/><use href="#q2" x="381.5" y="1462.8"/><use href="#q2" x="396.1" y="1461.2"/><use href="#q2" x="410.8" y="1458.8"/><use href="#q2" x="425.4" y="1455.5"/><use href="#q2" x="440.1" y="1450.5"/><use href="#q2" x="454.7" y="1444"/><use href="#q2" x="469.3" y="1436.6"/><use href="#q2" x="484" y="1428.5"/><use href="#q2" x="498.6" y="1419.9"/><use href="#q2" x="513.3" y="1410.6"/><use href="#q2" x="527.9" y="1397.8"/><use href="#q2" x="542.6" y="1387.4"/><use href="#q2" x="557.2" y="1377.1"/><use href="#q2" x="571.9" y="1364.4"/><use href="#q2" x="586.5" y="1350.3"/><use href="#q2" x="601.1" y="1335.6"/><use href="#q2" x="615.8" y="1320.5"/><use href="#q2" x="630.4" y="1304.6"/></g>
<g stroke="#f00" clip-path="url(#ci)"><use href="#q2" x="327.9" y="1466.2"/><use href="#q2" x="342.6" y="1465.8"/><use href="#q2" x="357.2" y="1465"/><use href="#q2" x="371.9" y="1463.7"/><use href="#q2" x="386.5" y="1462.2"/><use href="#q2" x="401.1" y="1460.4"/><use href="#q2" x="415.8" y="1457.8"/><use href="#q2" x="430.4" y="1454.3"/><use href="#q2" x="445.1" y="1448.5"/><use href="#q2" x="459.7" y="1441.5"/><use href="#q2" x="474.4" y="1433.8"/><use href="#q2" x="489" y="1425.6"/><use href="#q2" x="503.7" y="1417"/><use href="#q2" x="518.3" y="1406.2"/><use href="#q2" x="533" y="1394.2"/><use href="#q2" x="547.6" y="1383.9"/><use href="#q2" x="562.2" y="1372.9"/><use href="#q2" x="576.9" y="1360"/></g>
<g stroke="#f00" clip-path="url(#ci)"><use href="#q2" x="323.3" y="1466.3"/><use href="#q2" x="338" y="1466"/><use href="#q2" x="352.6" y="1465.3"/><use href="#q2" x="367.2" y="1464.1"/><use href="#q2" x="381.9" y="1462.7"/><use href="#q2" x="396.5" y="1461.1"/><use href="#q2" x="411.2" y="1458.7"/><use href="#q2" x="425.8" y="1455.4"/><use href="#q2" x="440.5" y="1450.3"/><use href="#q2" x="455.1" y="1443.8"/><use href="#q2" x="469.8" y="1436.4"/><use href="#q2" x="484.4" y="1428.3"/><use href="#q2" x="499" y="1419.7"/><use href="#q2" x="513.7" y="1410.3"/><use href="#q2" x="528.3" y="1397.5"/></g>
<g stroke="#f00" clip-path="url(#ci)"><use href="#q2" x="323.3" y="1466.3"/><use href="#q2" x="337.9" y="1466"/><use href="#q2" x="352.6" y="1465.3"/><use href="#q2" x="367.2" y="1464.1"/><use href="#q2" x="381.9" y="1462.7"/><use href="#q2" x="396.5" y="1461.1"/><use href="#q2" x="411.2" y="1458.7"/><use href="#q2" x="425.8" y="1455.4"/><use href="#q2" x="440.5" y="1450.4"/><use href="#q2" x="455.1" y="1443.8"/><use href="#q2" x="469.7" y="1436.4"/><use href="#q2" x="484.4" y="1428.3"/></g>
<g stroke="#000" clip-path="url(#cj)"><use href="#q2" x="1563" y="1451.4"/><use href="#q2" x="1575.9" y="1451.3"/><use href="#q2" x="1588.9" y="1451.3"/><use href="#q2" x="1601.8" y="1451.2"/><use href="#q2" x="1614.7" y="1451.1"/><use href="#q2" x="1627.7" y="1451"/><use href="#q2" x="1640.6" y="1450.7"/><use href="#q2" x="1653.6" y="1450.4"/><use href="#q2" x="1666.5" y="1450"/><use href="#q2" x="1679.5" y="1449.3"/><use href="#q2" x="1692.4" y="1448"/><use href="#q2" x="1705.3" y="1446.3"/><use href="#q2" x="1718.3" y="1444.1"/><use href="#q2" x="1731.2" y="1440.8"/><use href="#q2" x="1744.2" y="1435.4"/><use href="#q2" x="1757.1" y="1428"/><use href="#q2" x="1770.1" y="1419.3"/><use href="#q2" x="1783" y="1410"/><use href="#q2" x="1795.9" y="1400.3"/><use href="#q2" x="1808.9" y="1385.9"/><use href="#q2" x="1821.8" y="1374.3"/><use href="#q2" x="1834.8" y="1361.9"/><use href="#q2" x="1847.7" y="1346.8"/><use href="#q2" x="1860.7" y="1330.2"/><use href="#q2" x="1873.6" y="1313.3"/><use href="#q2" x="1886.5" y="1295.4"/><use href="#q2" x="1899.5" y="1277.2"/><use href="#q2" x="1912.4" y="1256.6"/><use href="#q2" x="1925.4" y="1235.3"/></g>
<g stroke="#000" clip-path="url(#cj)"><use href="#q2" x="1564" y="1451.4"/><use href="#q2" x="1576.9" y="1451.3"/><use href="#q2" x="1589.8" y="1451.3"/><use href="#q2" x="1602.8" y="1451.2"/><use href="#q2" x="1615.7" y="1451.1"/><use href="#q2" x="1628.7" y="1450.9"/><use href="#q2" x="1641.6" y="1450.7"/><use href="#q2" x="1654.6" y="1450.3"/><use href="#q2" x="1667.5" y="1449.9"/><use href="#q2" x="1680.4" y="1449.2"/><use href="#q2" x="1693.4" y="1447.9"/><use href="#q2" x="1706.3" y="1446.2"/><use href="#q2" x="1719.3" y="1443.9"/><use href="#q2" x="1732.2" y="1440.5"/><use href="#q2" x="1745.2" y="1434.9"/><use href="#q2" x="1758.1" y="1427.3"/><use href="#q2" x="1771.1" y="1418.6"/><use href="#q2" x="1784" y="1409.2"/><use href="#q2" x="1796.9" y="1399.3"/><use href="#q2" x="1809.9" y="1385"/><use href="#q2" x="1822.8" y="1373.4"/><use href="#q2" x="1835.8" y="1360.7"/><use href="#q2" x="1848.7" y="1345.5"/><use href="#q2" x="1861.7" y="1329"/><use href="#q2" x="1874.6" y="1312"/><use href="#q2" x="1887.5" y="1294"/><use href="#q2" x="1900.5" y="1275.8"/><use href="#q2" x="1913.4" y="1255"/><use href="#q2" x="1926.4" y="1233.7"/></g>
<g stroke="#000" clip-path="url(#cj)"><use href="#q2" x="1559.2" y="1451.4"/><use href="#q2" x="1572.2" y="1451.3"/><use href="#q2" x="1585.1" y="1451.3"/><use href="#q2" x="1598" y="1451.2"/><use href="#q2" x="1611" y="1451.1"/><use href="#q2" x="1623.9" y="1451"/><use href="#q2" x="1636.9" y="1450.8"/><use href="#q2" x="1649.8" y="1450.5"/><use href="#q2" x="1662.8" y="1450.1"/><use href="#q2" x="1675.7" y="1449.5"/><use href="#q2" x="1688.6" y="1448.4"/><use href="#q2" x="1701.6" y="1446.8"/><use href="#q2" x="1714.5" y="1444.9"/><use href="#q2" x="1727.5" y="1441.9"/><use href="#q2" x="1740.4" y="1437.4"/><use href="#q2" x="1753.4" y="1430.3"/><use href="#q2" x="1766.3" y="1422"/><use href="#q2" x="1779.2" y="1412.8"/><use href="#q2" x="1792.2" y="1403.1"/><use href="#q2" x="1805.1" y="1390.1"/><use href="#q2" x="1818.1" y="1377.7"/><use href="#q2" x="1831" y="1366"/><use href="#q2" x="1844" y="1351.5"/><use href="#q2" x="1856.9" y="1335.1"/><use href="#q2" x="1869.8" y="1318.4"/><use href="#q2" x="1882.8" y="1300.6"/><use href="#q2" x="1895.7" y="1282.5"/><use href="#q2" x="1908.7" y="1262.8"/><use href="#q2" x="1921.6" y="1241.5"/></g>
<g stroke="#000" clip-path="url(#cj)"><use href="#q2" x="1561.2" y="1451.4"/><use href="#q2" x="1574.2" y="1451.3"/><use href="#q2" x="1587.1" y="1451.3"/><use href="#q2" x="1600.1" y="1451.2"/><use href="#q2" x="1613" y="1451.1"/><use href="#q2" x="1625.9" y="1451"/><use href="#q2" x="1638.9" y="1450.7"/><use href="#q2" x="1651.8" y="1450.4"/><use href="#q2" x="1664.8" y="1450"/><use href="#q2" x="1677.7" y="1449.4"/><use href="#q2" x="1690.7" y="1448.2"/><use href="#q2" x="1703.6" y="1446.6"/><use href="#q2" x="1716.5" y="1444.5"/><use href="#q2" x="1729.5" y="1441.3"/><use href="#q2" x="1742.4" y="1436.4"/><use href="#q2" x="1755.4" y="1429.1"/><use href="#q2" x="1768.3" y="1420.6"/><use href="#q2" x="1781.3" y="1411.3"/><use href="#q2" x="1794.2" y="1401.6"/><use href="#q2" x="1807.1" y="1387.9"/><use href="#q2" x="1820.1" y="1375.8"/><use href="#q2" x="1833" y="1363.8"/><use href="#q2" x="1846" y="1349"/><use href="#q2" x="1858.9" y="1332.5"/><use href="#q2" x="1871.9" y="1315.7"/><use href="#q2" x="1884.8" y="1297.8"/><use href="#q2" x="1897.7" y="1279.7"/></g>
<g stroke="#000" clip-path="url(#cj)"><use href="#q2" x="1568.4" y="1451.4"/><use href="#q2" x="1581.3" y="1451.3"/><use href="#q2" x="1594.3" y="1451.2"/><use href="#q2" x="1607.2" y="1451.2"/><use href="#q2" x="1620.2" y="1451"/><use href="#q2" x="1633.1" y="1450.9"/><use href="#q2" x="1646" y="1450.5"/><use href="#q2" x="1659" y="1450.2"/><use href="#q2" x="1671.9" y="1449.8"/><use href="#q2" x="1684.9" y="1448.8"/><use href="#q2" x="1697.8" y="1447.3"/><use href="#q2" x="1710.8" y="1445.6"/><use href="#q2" x="1723.7" y="1443"/><use href="#q2" x="1736.6" y="1439.2"/><use href="#q2" x="1749.6" y="1432.6"/><use href="#q2" x="1762.5" y="1424.5"/><use href="#q2" x="1775.5" y="1415.5"/><use href="#q2" x="1788.4" y="1405.9"/><use href="#q2" x="1801.4" y="1394.3"/><use href="#q2" x="1814.3" y="1381"/><use href="#q2" x="1827.2" y="1369.4"/><use href="#q2" x="1840.2" y="1355.8"/><use href="#q2" x="1853.1" y="1339.9"/></g>
<g stroke="#000" clip-path="url(#cj)"><use href="#q2" x="1567.9" y="1451.4"/><use href="#q2" x="1580.8" y="1451.3"/><use href="#q2" x="1593.8" y="1451.2"/><use href="#q2" x="1606.7" y="1451.2"/><use href="#q2" x="1619.7" y="1451"/><use href="#q2" x="1632.6" y="1450.9"/><use href="#q2" x="1645.5" y="1450.6"/><use href="#q2" x="1658.5" y="1450.2"/><use href="#q2" x="1671.4" y="1449.8"/><use href="#q2" x="1684.4" y="1448.9"/><use href="#q2" x="1697.3" y="1447.4"/><use href="#q2" x="1710.3" y="1445.7"/><use href="#q2" x="1723.2" y="1443.1"/><use href="#q2" x="1736.2" y="1439.3"/><use href="#q2" x="1749.1" y="1432.9"/><use href="#q2" x="1762" y="1424.9"/><use href="#q2" x="1775" y="1415.9"/><use href="#q2" x="1787.9" y="1406.3"/><use href="#q2" x="1800.9" y="1394.9"/><use href="#q2" x="1813.8" y="1381.5"/></g>
<g stroke="#000" clip-path="url(#cj)"><use href="#q2" x="1558.1" y="1451.4"/><use href="#q2" x="1571.1" y="1451.3"/><use href="#q2" x="1584" y="1451.3"/><use href="#q2" x="1597" y="1451.2"/><use href="#q2" x="1609.9" y="1451.1"/><use href="#q2" x="1622.8" y="1451"/><use href="#q2" x="1635.8" y="1450.8"/><use href="#q2" x="1648.7" y="1450.5"/><use href="#q2" x="1661.7" y="1450.1"/><use href="#q2" x="1674.6" y="1449.6"/><use href="#q2" x="1687.6" y="1448.6"/><use href="#q2" x="1700.5" y="1447"/><use href="#q2" x="1713.4" y="1445.1"/><use href="#q2" x="1726.4" y="1442.2"/><use href="#q2" x="1739.3" y="1438"/><use href="#q2" x="1752.3" y="1431"/><use href="#q2" x="1765.2" y="1422.7"/><use href="#q2" x="1778.2" y="1413.6"/></g>
<g stroke="#000" clip-path="url(#cj)"><use href="#q2" x="1564.7" y="1451.4"/><use href="#q2" x="1577.6" y="1451.3"/><use href="#q2" x="1590.6" y="1451.3"/><use href="#q2" x="1603.5" y="1451.2"/><use href="#q2" x="1616.5" y="1451.1"/><use href="#q2" x="1629.4" y="1450.9"/><use href="#q2" x="1642.4" y="1450.6"/><use href="#q2" x="1655.3" y="1450.3"/><use href="#q2" x="1668.2" y="1449.9"/><use href="#q2" x="1681.2" y="1449.1"/><use href="#q2" x="1694.1" y="1447.8"/><use href="#q2" x="1707.1" y="1446.1"/><use href="#q2" x="1720" y="1443.7"/><use href="#q2" x="1733" y="1440.3"/><use href="#q2" x="1745.9" y="1434.5"/></g>
<g stroke="#f00" clip-path="url(#cj)"><use href="#q2" x="1559.9" y="1451.3"/><use href="#q2" x="1570.6" y="1451.3"/><use href="#q2" x="1581.4" y="1451.2"/><use href="#q2" x="1592.1" y="1451.1"/><use href="#q2" x="1602.9" y="1451"/><use href="#q2" x="1613.6" y="1450.9"/><use href="#q2" x="1624.4" y="1450.7"/><use href="#q2" x="1635.2" y="1450.4"/><use href="#q2" x="1645.9" y="1450.1"/><use href="#q2" x="1656.7" y="1449.8"/><use href="#q2" x="1667.4" y="1449"/><use href="#q2" x="1678.2" y="1447.9"/><use href="#q2" x="1688.9" y="1446.5"/><use href="#q2" x="1699.7" y="1444.9"/><use href="#q2" x="1710.4" y="1442.7"/><use href="#q2" x="1721.2" y="1439.5"/><use href="#q2" x="1731.9" y="1434.4"/><use href="#q2" x="1742.7" y="1428.3"/><use href="#q2" x="1753.4" y="1421.4"/><use href="#q2" x="1764.2" y="1413.9"/><use href="#q2" x="1774.9" y="1406"/><use href="#q2" x="1785.7" y="1397.2"/><use href="#q2" x="1796.5" y="1385.5"/><use href="#q2" x="1807.2" y="1376"/><use href="#q2" x="1818" y="1366.6"/><use href="#q2" x="1828.7" y="1354.9"/><use href="#q2" x="1839.5" y="1342"/><use href="#q2" x="1850.2" y="1328.5"/><use href="#q2" x="1861" y="1314.8"/><use href="#q2" x="1871.7" y="1300.2"/><use href="#q2" x="1882.5" y="1285.4"/><use href="#q2" x="1893.2" y="1270.3"/><use href="#q2" x="1904" y="1252.8"/><use href="#q2" x="1914.7" y="1235.5"/><use href="#q2" x="1925.5" y="1216.8"/></g>
<g stroke="#f00" clip-path="url(#cj)"><use href="#q2" x="1560.7" y="1451.3"/><use href="#q2" x="1571.4" y="1451.3"/><use href="#q2" x="1582.2" y="1451.2"/><use href="#q2" x="1592.9" y="1451.1"/><use href="#q2" x="1603.7" y="1451"/><use href="#q2" x="1614.4" y="1450.9"/><use href="#q2" x="1625.2" y="1450.7"/><use href="#q2" x="1635.9" y="1450.4"/><use href="#q2" x="1646.7" y="1450.1"/><use href="#q2" x="1657.5" y="1449.7"/><use href="#q2" x="1668.2" y="1448.9"/><use href="#q2" x="1679" y="1447.8"/><use href="#q2" x="1689.7" y="1446.4"/><use href="#q2" x="1700.5" y="1444.7"/><use href="#q2" x="1711.2" y="1442.4"/><use href="#q2" x="1722" y="1439.2"/><use href="#q2" x="1732.7" y="1434"/><use href="#q2" x="1743.5" y="1427.8"/><use href="#q2" x="1754.2" y="1420.8"/><use href="#q2" x="1765" y="1413.3"/><use href="#q2" x="1775.7" y="1405.5"/><use href="#q2" x="1786.5" y="1396.3"/><use href="#q2" x="1797.2" y="1384.8"/><use href="#q2" x="1808" y="1375.3"/><use href="#q2" x="1818.8" y="1365.9"/><use href="#q2" x="1829.5" y="1354.1"/><use href="#q2" x="1840.3" y="1341"/><use href="#q2" x="1851" y="1327.5"/><use href="#q2" x="1861.8" y="1313.7"/><use href="#q2" x="1872.5" y="1299.1"/><use href="#q2" x="1883.3" y="1284.3"/><use href="#q2" x="1894" y="1269"/><use href="#q2" x="1904.8" y="1251.6"/><use href="#q2" x="1915.5" y="1234.3"/><use href="#q2" x="1926.3" y="1215.4"/></g>
<g stroke="#f00" clip-path="url(#cj)"><use href="#q2" x="1557.9" y="1451.3"/><use href="#q2" x="1568.7" y="1451.3"/><use href="#q2" x="1579.4" y="1451.2"/><use href="#q2" x="1590.2" y="1451.2"/><use href="#q2" x="1600.9" y="1451.1"/><use href="#q2" x="1611.7" y="1451"/><use href="#q2" x="1622.4" y="1450.7"/><use href="#q2" x="1633.2" y="1450.5"/><use href="#q2" x="1643.9" y="1450.2"/><use href="#q2" x="1654.7" y="1449.8"/><use href="#q2" x="1665.5" y="1449.1"/><use href="#q2" x="1676.2" y="1448.1"/><use href="#q2" x="1687" y="1446.8"/><use href="#q2" x="1697.7" y="1445.3"/><use href="#q2" x="1708.5" y="1443.1"/><use href="#q2" x="1719.2" y="1440.1"/><use href="#q2" x="1730" y="1435.4"/><use href="#q2" x="1740.7" y="1429.5"/><use href="#q2" x="1751.5" y="1422.7"/><use href="#q2" x="1762.2" y="1415.3"/><use href="#q2" x="1773" y="1407.5"/><use href="#q2" x="1783.7" y="1399.3"/><use href="#q2" x="1794.5" y="1387.6"/><use href="#q2" x="1805.2" y="1377.8"/><use href="#q2" x="1816" y="1368.3"/><use href="#q2" x="1826.7" y="1357.1"/><use href="#q2" x="1837.5" y="1344.5"/><use href="#q2" x="1848.3" y="1331"/><use href="#q2" x="1859" y="1317.4"/><use href="#q2" x="1869.8" y="1302.8"/><use href="#q2" x="1880.5" y="1288.1"/><use href="#q2" x="1891.3" y="1273.3"/><use href="#q2" x="1902" y="1256"/><use href="#q2" x="1912.8" y="1238.7"/><use href="#q2" x="1923.5" y="1220.3"/></g>
<g stroke="#f00" clip-path="url(#cj)"><use href="#q2" x="1561.9" y="1451.3"/><use href="#q2" x="1572.7" y="1451.3"/><use href="#q2" x="1583.4" y="1451.2"/><use href="#q2" x="1594.2" y="1451.1"/><use href="#q2" x="1604.9" y="1451"/><use href="#q2" x="1615.7" y="1450.9"/><use href="#q2" x="1626.4" y="1450.6"/><use href="#q2" x="1637.2" y="1450.4"/><use href="#q2" x="1648" y="1450.1"/><use href="#q2" x="1658.7" y="1449.6"/><use href="#q2" x="1669.5" y="1448.8"/><use href="#q2" x="1680.2" y="1447.6"/><use href="#q2" x="1691" y="1446.2"/><use href="#q2" x="1701.7" y="1444.5"/><use href="#q2" x="1712.5" y="1442.1"/><use href="#q2" x="1723.2" y="1438.9"/><use href="#q2" x="1734" y="1433.4"/><use href="#q2" x="1744.7" y="1427"/><use href="#q2" x="1755.5" y="1420"/><use href="#q2" x="1766.2" y="1412.4"/><use href="#q2" x="1777" y="1404.5"/><use href="#q2" x="1787.7" y="1395"/><use href="#q2" x="1798.5" y="1383.7"/><use href="#q2" x="1809.2" y="1374.2"/><use href="#q2" x="1820" y="1364.5"/><use href="#q2" x="1830.8" y="1352.7"/><use href="#q2" x="1841.5" y="1339.4"/><use href="#q2" x="1852.3" y="1325.9"/><use href="#q2" x="1863" y="1312"/><use href="#q2" x="1873.8" y="1297.4"/><use href="#q2" x="1884.5" y="1282.6"/></g>
<g stroke="#f00" clip-path="url(#cj)"><use href="#q2" x="1560.3" y="1451.3"/><use href="#q2" x="1571.1" y="1451.3"/><use href="#q2" x="1581.8" y="1451.2"/><use href="#q2" x="1592.6" y="1451.1"/><use href="#q2" x="1603.3" y="1451"/><use href="#q2" x="1614.1" y="1450.9"/><use href="#q2" x="1624.8" y="1450.7"/><use href="#q2" x="1635.6" y="1450.4"/><use href="#q2" x="1646.4" y="1450.1"/><use href="#q2" x="1657.1" y="1449.8"/><use href="#q2" x="1667.9" y="1449"/><use href="#q2" x="1678.6" y="1447.8"/><use href="#q2" x="1689.4" y="1446.4"/><use href="#q2" x="1700.1" y="1444.8"/><use href="#q2" x="1710.9" y="1442.5"/><use href="#q2" x="1721.6" y="1439.4"/><use href="#q2" x="1732.4" y="1434.2"/><use href="#q2" x="1743.1" y="1428"/><use href="#q2" x="1753.9" y="1421.1"/><use href="#q2" x="1764.6" y="1413.6"/><use href="#q2" x="1775.4" y="1405.7"/><use href="#q2" x="1786.1" y="1396.7"/><use href="#q2" x="1796.9" y="1385.1"/><use href="#q2" x="1807.6" y="1375.6"/><use href="#q2" x="1818.4" y="1366.2"/><use href="#q2" x="1829.2" y="1354.4"/><use href="#q2" x="1839.9" y="1341.4"/></g>
<g stroke="#f00" clip-path="url(#cj)"><use href="#q2" x="1564" y="1451.3"/><use href="#q2" x="1574.8" y="1451.3"/><use href="#q2" x="1585.5" y="1451.2"/><use href="#q2" x="1596.3" y="1451.1"/><use href="#q2" x="1607" y="1451"/><use href="#q2" x="1617.8" y="1450.9"/><use href="#q2" x="1628.5" y="1450.6"/><use href="#q2" x="1639.3" y="1450.3"/><use href="#q2" x="1650" y="1450"/><use href="#q2" x="1660.8" y="1449.5"/><use href="#q2" x="1671.5" y="1448.6"/><use href="#q2" x="1682.3" y="1447.4"/><use href="#q2" x="1693.1" y="1446"/><use href="#q2" x="1703.8" y="1444"/><use href="#q2" x="1714.6" y="1441.4"/><use href="#q2" x="1725.3" y="1437.8"/><use href="#q2" x="1736.1" y="1432.3"/><use href="#q2" x="1746.8" y="1425.7"/><use href="#q2" x="1757.6" y="1418.5"/><use href="#q2" x="1768.3" y="1410.9"/><use href="#q2" x="1779.1" y="1403"/><use href="#q2" x="1789.8" y="1392.7"/><use href="#q2" x="1800.6" y="1381.9"/></g>
<g stroke="#f00" clip-path="url(#cj)"><use href="#q2" x="1560.6" y="1451.3"/><use href="#q2" x="1571.4" y="1451.3"/><use href="#q2" x="1582.1" y="1451.2"/><use href="#q2" x="1592.9" y="1451.1"/><use href="#q2" x="1603.6" y="1451"/><use href="#q2" x="1614.4" y="1450.9"/><use href="#q2" x="1625.1" y="1450.7"/><use href="#q2" x="1635.9" y="1450.4"/><use href="#q2" x="1646.7" y="1450.1"/><use href="#q2" x="1657.4" y="1449.7"/><use href="#q2" x="1668.2" y="1448.9"/><use href="#q2" x="1678.9" y="1447.8"/><use href="#q2" x="1689.7" y="1446.4"/><use href="#q2" x="1700.4" y="1444.7"/><use href="#q2" x="1711.2" y="1442.4"/><use href="#q2" x="1721.9" y="1439.3"/><use href="#q2" x="1732.7" y="1434.1"/><use href="#q2" x="1743.4" y="1427.8"/><use href="#q2" x="1754.2" y="1420.8"/><use href="#q2" x="1764.9" y="1413.4"/></g>
<g stroke="#f00" clip-path="url(#cj)"><use href="#q2" x="1560.6" y="1451.3"/><use href="#q2" x="1571.4" y="1451.3"/><use href="#q2" x="1582.1" y="1451.2"/><use href="#q2" x="1592.9" y="1451.1"/><use href="#q2" x="1603.6" y="1451"/><use href="#q2" x="1614.4" y="1450.9"/><use href="#q2" x="1625.1" y="1450.7"/><use href="#q2" x="1635.9" y="1450.4"/><use href="#q2" x="1646.6" y="1450.1"/><use href="#q2" x="1657.4" y="1449.7"/><use href="#q2" x="1668.2" y="1448.9"/><use href="#q2" x="1678.9" y="1447.8"/><use href="#q2" x="1689.7" y="1446.4"/><use href="#q2" x="1700.4" y="1444.7"/><use href="#q2" x="1711.2" y="1442.4"/><use href="#q2" x="1721.9" y="1439.3"/><use href="#q2" x="1732.7" y="1434.1"/></g>
</g>
<path d="M184.4 222.8V894.5M1144.7 222.8V894.5M184.4 222.8H1144.7M184.4 894.5H1144.7M184.4 894.5v13.3M184.4 222.8v13.3M222.81 894.5v6.7M222.81 222.8v6.7M261.22 894.5v6.7M261.22 222.8v6.7M299.64 894.5v6.7M299.64 222.8v6.7M338.05 894.5v6.7M338.05 222.8v6.7M376.46 894.5v13.3M376.46 222.8v13.3M414.87 894.5v6.7M414.87 222.8v6.7M453.28 894.5v6.7M453.28 222.8v6.7M491.7 894.5v6.7M491.7 222.8v6.7M530.11 894.5v6.7M530.11 222.8v6.7M568.52 894.5v13.3M568.52 222.8v13.3M606.93 894.5v6.7M606.93 222.8v6.7M645.34 894.5v6.7M645.34 222.8v6.7M683.76 894.5v6.7M683.76 222.8v6.7M722.17 894.5v6.7M722.17 222.8v6.7M760.58 894.5v13.3M760.58 222.8v13.3M798.99 894.5v6.7M798.99 222.8v6.7M837.4 894.5v6.7M837.4 222.8v6.7M875.82 894.5v6.7M875.82 222.8v6.7M914.23 894.5v6.7M914.23 222.8v6.7M952.64 894.5v13.3M952.64 222.8v13.3M991.05 894.5v6.7M991.05 222.8v6.7M1029.46 894.5v6.7M1029.46 222.8v6.7M1067.88 894.5v6.7M1067.88 222.8v6.7M1106.29 894.5v6.7M1106.29 222.8v6.7M1144.7 894.5v13.3M1144.7 222.8v13.3M184.4 885.32h-6.7M1144.7 885.32h-6.7M184.4 849.5h-13.3M1144.7 849.5h-13.3M184.4 813.68h-6.7M1144.7 813.68h-6.7M184.4 777.86h-6.7M1144.7 777.86h-6.7M184.4 742.04h-6.7M1144.7 742.04h-6.7M184.4 706.22h-6.7M1144.7 706.22h-6.7M184.4 670.4h-13.3M1144.7 670.4h-13.3M184.4 634.58h-6.7M1144.7 634.58h-6.7M184.4 598.76h-6.7M1144.7 598.76h-6.7M184.4 562.94h-6.7M1144.7 562.94h-6.7M184.4 527.12h-6.7M1144.7 527.12h-6.7M184.4 491.3h-13.3M1144.7 491.3h-13.3M184.4 455.48h-6.7M1144.7 455.48h-6.7M184.4 419.66h-6.7M1144.7 419.66h-6.7M184.4 383.84h-6.7M1144.7 383.84h-6.7M184.4 348.02h-6.7M1144.7 348.02h-6.7M184.4 312.2h-13.3M1144.7 312.2h-13.3M184.4 276.38h-6.7M1144.7 276.38h-6.7M184.4 240.56h-6.7M1144.7 240.56h-6.7" fill="none" stroke="#000" stroke-width="7.3" stroke-linecap="round"/>
<path d="M1396.6 222.8V894.5M2356.7 222.8V894.5M1396.6 222.8H2356.7M1396.6 894.5H2356.7M1396.6 894.5v13.3M1396.6 222.8v13.3M1435 894.5v6.7M1435 222.8v6.7M1473.41 894.5v6.7M1473.41 222.8v6.7M1511.81 894.5v6.7M1511.81 222.8v6.7M1550.22 894.5v6.7M1550.22 222.8v6.7M1588.62 894.5v13.3M1588.62 222.8v13.3M1627.02 894.5v6.7M1627.02 222.8v6.7M1665.43 894.5v6.7M1665.43 222.8v6.7M1703.83 894.5v6.7M1703.83 222.8v6.7M1742.24 894.5v6.7M1742.24 222.8v6.7M1780.64 894.5v13.3M1780.64 222.8v13.3M1819.04 894.5v6.7M1819.04 222.8v6.7M1857.45 894.5v6.7M1857.45 222.8v6.7M1895.85 894.5v6.7M1895.85 222.8v6.7M1934.26 894.5v6.7M1934.26 222.8v6.7M1972.66 894.5v13.3M1972.66 222.8v13.3M2011.06 894.5v6.7M2011.06 222.8v6.7M2049.47 894.5v6.7M2049.47 222.8v6.7M2087.87 894.5v6.7M2087.87 222.8v6.7M2126.28 894.5v6.7M2126.28 222.8v6.7M2164.68 894.5v13.3M2164.68 222.8v13.3M2203.08 894.5v6.7M2203.08 222.8v6.7M2241.49 894.5v6.7M2241.49 222.8v6.7M2279.89 894.5v6.7M2279.89 222.8v6.7M2318.3 894.5v6.7M2318.3 222.8v6.7M2356.7 894.5v13.3M2356.7 222.8v13.3M1396.6 885.21h-6.7M2356.7 885.21h-6.7M1396.6 849.4h-13.3M2356.7 849.4h-13.3M1396.6 813.59h-6.7M2356.7 813.59h-6.7M1396.6 777.77h-6.7M2356.7 777.77h-6.7M1396.6 741.96h-6.7M2356.7 741.96h-6.7M1396.6 706.14h-6.7M2356.7 706.14h-6.7M1396.6 670.33h-13.3M2356.7 670.33h-13.3M1396.6 634.52h-6.7M2356.7 634.52h-6.7M1396.6 598.7h-6.7M2356.7 598.7h-6.7M1396.6 562.89h-6.7M2356.7 562.89h-6.7M1396.6 527.07h-6.7M2356.7 527.07h-6.7M1396.6 491.26h-13.3M2356.7 491.26h-13.3M1396.6 455.45h-6.7M2356.7 455.45h-6.7M1396.6 419.63h-6.7M2356.7 419.63h-6.7M1396.6 383.82h-6.7M2356.7 383.82h-6.7M1396.6 348h-6.7M2356.7 348h-6.7M1396.6 312.19h-13.3M2356.7 312.19h-13.3M1396.6 276.38h-6.7M2356.7 276.38h-6.7M1396.6 240.56h-6.7M2356.7 240.56h-6.7" fill="none" stroke="#000" stroke-width="7.3" stroke-linecap="round"/>
<path d="M183.7 1088.3V1759.7M1143.9 1088.3V1759.7M183.7 1088.3H1143.9M183.7 1759.7H1143.9M183.7 1759.7v13.3M183.7 1088.3v13.3M238.59 1759.7v6.7M238.59 1088.3v6.7M293.48 1759.7v6.7M293.48 1088.3v6.7M348.36 1759.7v6.7M348.36 1088.3v6.7M403.25 1759.7v6.7M403.25 1088.3v6.7M458.14 1759.7v13.3M458.14 1088.3v13.3M513.03 1759.7v6.7M513.03 1088.3v6.7M567.92 1759.7v6.7M567.92 1088.3v6.7M622.8 1759.7v6.7M622.8 1088.3v6.7M677.69 1759.7v6.7M677.69 1088.3v6.7M732.58 1759.7v13.3M732.58 1088.3v13.3M787.47 1759.7v6.7M787.47 1088.3v6.7M842.36 1759.7v6.7M842.36 1088.3v6.7M897.24 1759.7v6.7M897.24 1088.3v6.7M952.13 1759.7v6.7M952.13 1088.3v6.7M1007.02 1759.7v13.3M1007.02 1088.3v13.3M1061.91 1759.7v6.7M1061.91 1088.3v6.7M1116.8 1759.7v6.7M1116.8 1088.3v6.7M183.7 1760.07h-6.7M1143.9 1760.07h-6.7M183.7 1708.3h-13.3M1143.9 1708.3h-13.3M183.7 1656.53h-6.7M1143.9 1656.53h-6.7M183.7 1604.76h-6.7M1143.9 1604.76h-6.7M183.7 1552.99h-6.7M1143.9 1552.99h-6.7M183.7 1501.22h-6.7M1143.9 1501.22h-6.7M183.7 1449.45h-13.3M1143.9 1449.45h-13.3M183.7 1397.68h-6.7M1143.9 1397.68h-6.7M183.7 1345.91h-6.7M1143.9 1345.91h-6.7M183.7 1294.14h-6.7M1143.9 1294.14h-6.7M183.7 1242.37h-6.7M1143.9 1242.37h-6.7M183.7 1190.6h-13.3M1143.9 1190.6h-13.3M183.7 1138.83h-6.7M1143.9 1138.83h-6.7M183.7 1087.06h-6.7M1143.9 1087.06h-6.7" fill="none" stroke="#000" stroke-width="7.3" stroke-linecap="round"/>
<path d="M1396.6 1088.3V1759.7M2356.7 1088.3V1759.7M1396.6 1088.3H2356.7M1396.6 1759.7H2356.7M1396.6 1759.7v13.3M1396.6 1088.3v13.3M1451.47 1759.7v6.7M1451.47 1088.3v6.7M1506.34 1759.7v6.7M1506.34 1088.3v6.7M1561.22 1759.7v6.7M1561.22 1088.3v6.7M1616.09 1759.7v6.7M1616.09 1088.3v6.7M1670.96 1759.7v13.3M1670.96 1088.3v13.3M1725.83 1759.7v6.7M1725.83 1088.3v6.7M1780.7 1759.7v6.7M1780.7 1088.3v6.7M1835.58 1759.7v6.7M1835.58 1088.3v6.7M1890.45 1759.7v6.7M1890.45 1088.3v6.7M1945.32 1759.7v13.3M1945.32 1088.3v13.3M2000.19 1759.7v6.7M2000.19 1088.3v6.7M2055.06 1759.7v6.7M2055.06 1088.3v6.7M2109.94 1759.7v6.7M2109.94 1088.3v6.7M2164.81 1759.7v6.7M2164.81 1088.3v6.7M2219.68 1759.7v13.3M2219.68 1088.3v13.3M2274.55 1759.7v6.7M2274.55 1088.3v6.7M2329.42 1759.7v6.7M2329.42 1088.3v6.7M1396.6 1759.09h-6.7M2356.7 1759.09h-6.7M1396.6 1709.4h-13.3M2356.7 1709.4h-13.3M1396.6 1659.71h-6.7M2356.7 1659.71h-6.7M1396.6 1610.02h-6.7M2356.7 1610.02h-6.7M1396.6 1560.33h-6.7M2356.7 1560.33h-6.7M1396.6 1510.64h-6.7M2356.7 1510.64h-6.7M1396.6 1460.95h-13.3M2356.7 1460.95h-13.3M1396.6 1411.26h-6.7M2356.7 1411.26h-6.7M1396.6 1361.57h-6.7M2356.7 1361.57h-6.7M1396.6 1311.88h-6.7M2356.7 1311.88h-6.7M1396.6 1262.19h-6.7M2356.7 1262.19h-6.7M1396.6 1212.5h-13.3M2356.7 1212.5h-13.3M1396.6 1162.81h-6.7M2356.7 1162.81h-6.7M1396.6 1113.12h-6.7M2356.7 1113.12h-6.7" fill="none" stroke="#000" stroke-width="7.3" stroke-linecap="round"/>
<path d="M324.5 1219.2V1491.2M694.6 1219.2V1491.2M324.5 1219.2H694.6M324.5 1491.2H694.6M334.34 1491.2v2.8M334.34 1219.2v2.8M354.36 1491.2v2.8M354.36 1219.2v2.8M374.38 1491.2v2.8M374.38 1219.2v2.8M394.4 1491.2v5.7M394.4 1219.2v5.7M414.42 1491.2v2.8M414.42 1219.2v2.8M434.44 1491.2v2.8M434.44 1219.2v2.8M454.46 1491.2v2.8M454.46 1219.2v2.8M474.48 1491.2v2.8M474.48 1219.2v2.8M494.5 1491.2v5.7M494.5 1219.2v5.7M514.52 1491.2v2.8M514.52 1219.2v2.8M534.54 1491.2v2.8M534.54 1219.2v2.8M554.56 1491.2v2.8M554.56 1219.2v2.8M574.58 1491.2v2.8M574.58 1219.2v2.8M594.6 1491.2v5.7M594.6 1219.2v5.7M614.62 1491.2v2.8M614.62 1219.2v2.8M634.64 1491.2v2.8M634.64 1219.2v2.8M654.66 1491.2v2.8M654.66 1219.2v2.8M674.68 1491.2v2.8M674.68 1219.2v2.8M694.7 1491.2v5.7M694.7 1219.2v5.7M324.5 1482.38h-2.8M694.6 1482.38h-2.8M324.5 1469.9h-5.7M694.6 1469.9h-5.7M324.5 1457.42h-2.8M694.6 1457.42h-2.8M324.5 1444.94h-2.8M694.6 1444.94h-2.8M324.5 1432.46h-2.8M694.6 1432.46h-2.8M324.5 1419.98h-2.8M694.6 1419.98h-2.8M324.5 1407.5h-5.7M694.6 1407.5h-5.7M324.5 1395.02h-2.8M694.6 1395.02h-2.8M324.5 1382.54h-2.8M694.6 1382.54h-2.8M324.5 1370.06h-2.8M694.6 1370.06h-2.8M324.5 1357.58h-2.8M694.6 1357.58h-2.8M324.5 1345.1h-5.7M694.6 1345.1h-5.7M324.5 1332.62h-2.8M694.6 1332.62h-2.8M324.5 1320.14h-2.8M694.6 1320.14h-2.8M324.5 1307.66h-2.8M694.6 1307.66h-2.8M324.5 1295.18h-2.8M694.6 1295.18h-2.8M324.5 1282.7h-5.7M694.6 1282.7h-5.7M324.5 1270.22h-2.8M694.6 1270.22h-2.8M324.5 1257.74h-2.8M694.6 1257.74h-2.8M324.5 1245.26h-2.8M694.6 1245.26h-2.8M324.5 1232.78h-2.8M694.6 1232.78h-2.8M324.5 1220.3h-5.7M694.6 1220.3h-5.7" fill="none" stroke="#000" stroke-width="3" stroke-linecap="round"/>
<path d="M1560.6 1219.2V1491.2M1928.7 1219.2V1491.2M1560.6 1219.2H1928.7M1560.6 1491.2H1928.7M1560.6 1491.2v5.7M1560.6 1219.2v5.7M1590 1491.2v2.8M1590 1219.2v2.8M1619.4 1491.2v2.8M1619.4 1219.2v2.8M1648.8 1491.2v2.8M1648.8 1219.2v2.8M1678.2 1491.2v2.8M1678.2 1219.2v2.8M1707.6 1491.2v5.7M1707.6 1219.2v5.7M1737 1491.2v2.8M1737 1219.2v2.8M1766.4 1491.2v2.8M1766.4 1219.2v2.8M1795.8 1491.2v2.8M1795.8 1219.2v2.8M1825.2 1491.2v2.8M1825.2 1219.2v2.8M1854.6 1491.2v5.7M1854.6 1219.2v5.7M1884 1491.2v2.8M1884 1219.2v2.8M1913.4 1491.2v2.8M1913.4 1219.2v2.8M1560.6 1488.73h-2.8M1928.7 1488.73h-2.8M1560.6 1477.05h-2.8M1928.7 1477.05h-2.8M1560.6 1465.38h-2.8M1928.7 1465.38h-2.8M1560.6 1453.7h-5.7M1928.7 1453.7h-5.7M1560.6 1442.02h-2.8M1928.7 1442.02h-2.8M1560.6 1430.35h-2.8M1928.7 1430.35h-2.8M1560.6 1418.67h-2.8M1928.7 1418.67h-2.8M1560.6 1407h-2.8M1928.7 1407h-2.8M1560.6 1395.32h-5.7M1928.7 1395.32h-5.7M1560.6 1383.64h-2.8M1928.7 1383.64h-2.8M1560.6 1371.97h-2.8M1928.7 1371.97h-2.8M1560.6 1360.29h-2.8M1928.7 1360.29h-2.8M1560.6 1348.62h-2.8M1928.7 1348.62h-2.8M1560.6 1336.94h-5.7M1928.7 1336.94h-5.7M1560.6 1325.26h-2.8M1928.7 1325.26h-2.8M1560.6 1313.59h-2.8M1928.7 1313.59h-2.8M1560.6 1301.91h-2.8M1928.7 1301.91h-2.8M1560.6 1290.24h-2.8M1928.7 1290.24h-2.8M1560.6 1278.56h-5.7M1928.7 1278.56h-5.7M1560.6 1266.88h-2.8M1928.7 1266.88h-2.8M1560.6 1255.21h-2.8M1928.7 1255.21h-2.8M1560.6 1243.53h-2.8M1928.7 1243.53h-2.8M1560.6 1231.86h-2.8M1928.7 1231.86h-2.8M1560.6 1220.18h-5.7M1928.7 1220.18h-5.7" fill="none" stroke="#000" stroke-width="3" stroke-linecap="round"/>
<rect x="531.6" y="26.6" width="1561.3" height="172" fill="none" stroke="#000" stroke-width="5" stroke-linejoin="round"/>
<g font-weight="normal">
<rect x="587.08" y="61.48" width="19.05" height="19.05" fill="#fff" stroke="#000" stroke-width="6.45"/>
<text transform="translate(726.91 93.4) scale(1 1.04)" font-size="65" font-weight="normal">30 <tspan dy="3.44">°</tspan><tspan dy="-3.44">C</tspan></text>
<rect x="972.08" y="61.48" width="19.05" height="19.05" fill="#fff" stroke="#f00" stroke-width="6.45"/>
<text transform="translate(1111.91 93.4) scale(1 1.04)" font-size="65" font-weight="normal">60 <tspan dy="3.44">°</tspan><tspan dy="-3.44">C</tspan></text>
<rect x="1357.07" y="61.48" width="19.05" height="19.05" fill="#fff" stroke="#00f" stroke-width="6.45"/>
<text transform="translate(1496.91 93.4) scale(1 1.04)" font-size="65" font-weight="normal">90 <tspan dy="3.44">°</tspan><tspan dy="-3.44">C</tspan></text>
<rect x="1742.07" y="61.48" width="19.05" height="19.05" fill="#fff" stroke="#f0f" stroke-width="6.45"/>
<text transform="translate(1845.76 93.4) scale(1 1.04)" font-size="65" font-weight="normal">120 <tspan dy="3.44">°</tspan><tspan dy="-3.44">C</tspan></text><g fill="#fff"><rect x="1848.75" y="87.03" width="13.32" height="7.37"/><rect x="1867.86" y="87.03" width="12.8" height="7.37"/></g>
<rect x="587.08" y="150.28" width="19.05" height="19.05" fill="#fff" stroke="#008000" stroke-width="6.45"/>
<text transform="translate(690.76 182.2) scale(1 1.04)" font-size="65" font-weight="normal">150 <tspan dy="3.44">°</tspan><tspan dy="-3.44">C</tspan></text><g fill="#fff"><rect x="693.75" y="175.83" width="13.32" height="7.37"/><rect x="712.86" y="175.83" width="12.8" height="7.37"/></g>
<rect x="972.08" y="150.28" width="19.05" height="19.05" fill="#fff" stroke="#000080" stroke-width="6.45"/>
<text transform="translate(1075.76 182.2) scale(1 1.04)" font-size="65" font-weight="normal">180 <tspan dy="3.44">°</tspan><tspan dy="-3.44">C</tspan></text><g fill="#fff"><rect x="1078.75" y="175.83" width="13.32" height="7.37"/><rect x="1097.86" y="175.83" width="12.8" height="7.37"/></g>
<rect x="1357.07" y="150.28" width="19.05" height="19.05" fill="#fff" stroke="#8000ff" stroke-width="6.45"/>
<text transform="translate(1460.76 182.2) scale(1 1.04)" font-size="65" font-weight="normal">210 <tspan dy="3.44">°</tspan><tspan dy="-3.44">C</tspan></text><g fill="#fff"><rect x="1499.9" y="175.83" width="13.32" height="7.37"/><rect x="1519.01" y="175.83" width="12.8" height="7.37"/></g>
<rect x="1742.07" y="150.28" width="19.05" height="19.05" fill="#fff" stroke="#808000" stroke-width="6.45"/>
<text transform="translate(1845.76 182.2) scale(1 1.04)" font-size="65" font-weight="normal">240 <tspan dy="3.44">°</tspan><tspan dy="-3.44">C</tspan></text>
</g>
<g font-weight="bold">
<text transform="translate(169.38 959.3) scale(1 1.04)" font-size="54">4</text>
<text transform="translate(361.44 959.3) scale(1 1.04)" font-size="54">6</text>
<text transform="translate(553.5 959.3) scale(1 1.04)" font-size="54">8</text>
<text transform="translate(730.55 959.3) scale(1 1.04)" font-size="54">10</text><g fill="#fff"><rect x="732.33" y="952.27" width="10.8" height="8.03"/><rect x="750.58" y="952.27" width="10.1" height="8.03"/></g>
<text transform="translate(922.61 959.3) scale(1 1.04)" font-size="54">12</text><g fill="#fff"><rect x="924.39" y="952.27" width="10.8" height="8.03"/><rect x="942.64" y="952.27" width="10.1" height="8.03"/></g>
<text transform="translate(1114.67 959.3) scale(1 1.04)" font-size="54">14</text><g fill="#fff"><rect x="1116.45" y="952.27" width="10.8" height="8.03"/><rect x="1134.7" y="952.27" width="10.1" height="8.03"/></g>
<text transform="translate(130.87 865.5) scale(1 1.04)" font-size="54">0</text>
<text transform="translate(130.87 686.4) scale(1 1.04)" font-size="54">1</text><g fill="#fff"><rect x="132.65" y="679.37" width="10.8" height="8.03"/><rect x="150.9" y="679.37" width="10.1" height="8.03"/></g>
<text transform="translate(130.87 507.3) scale(1 1.04)" font-size="54">2</text>
<text transform="translate(130.87 328.2) scale(1 1.04)" font-size="54">3</text>
<text transform="translate(1381.58 959.3) scale(1 1.04)" font-size="54">4</text>
<text transform="translate(1573.6 959.3) scale(1 1.04)" font-size="54">6</text>
<text transform="translate(1765.62 959.3) scale(1 1.04)" font-size="54">8</text>
<text transform="translate(1942.63 959.3) scale(1 1.04)" font-size="54">10</text><g fill="#fff"><rect x="1944.41" y="952.27" width="10.8" height="8.03"/><rect x="1962.66" y="952.27" width="10.1" height="8.03"/></g>
<text transform="translate(2134.65 959.3) scale(1 1.04)" font-size="54">12</text><g fill="#fff"><rect x="2136.43" y="952.27" width="10.8" height="8.03"/><rect x="2154.68" y="952.27" width="10.1" height="8.03"/></g>
<text transform="translate(2326.67 959.3) scale(1 1.04)" font-size="54">14</text><g fill="#fff"><rect x="2328.45" y="952.27" width="10.8" height="8.03"/><rect x="2346.7" y="952.27" width="10.1" height="8.03"/></g>
<text transform="translate(1343.07 865.4) scale(1 1.04)" font-size="54">0</text>
<text transform="translate(1343.07 686.33) scale(1 1.04)" font-size="54">1</text><g fill="#fff"><rect x="1344.85" y="679.3" width="10.8" height="8.03"/><rect x="1363.1" y="679.3" width="10.1" height="8.03"/></g>
<text transform="translate(1343.07 507.26) scale(1 1.04)" font-size="54">2</text>
<text transform="translate(1343.07 328.19) scale(1 1.04)" font-size="54">3</text>
<text transform="translate(168.68 1825.3) scale(1 1.04)" font-size="54">6</text>
<text transform="translate(443.12 1825.3) scale(1 1.04)" font-size="54">8</text>
<text transform="translate(702.55 1825.3) scale(1 1.04)" font-size="54">10</text><g fill="#fff"><rect x="704.33" y="1818.27" width="10.8" height="8.03"/><rect x="722.58" y="1818.27" width="10.1" height="8.03"/></g>
<text transform="translate(976.99 1825.3) scale(1 1.04)" font-size="54">12</text><g fill="#fff"><rect x="978.77" y="1818.27" width="10.8" height="8.03"/><rect x="997.02" y="1818.27" width="10.1" height="8.03"/></g>
<text transform="translate(130.17 1724.3) scale(1 1.04)" font-size="54">0</text>
<text transform="translate(130.17 1465.45) scale(1 1.04)" font-size="54">1</text><g fill="#fff"><rect x="131.95" y="1458.42" width="10.8" height="8.03"/><rect x="150.2" y="1458.42" width="10.1" height="8.03"/></g>
<text transform="translate(130.17 1206.6) scale(1 1.04)" font-size="54">2</text>
<text transform="translate(1381.58 1825.3) scale(1 1.04)" font-size="54">6</text>
<text transform="translate(1655.94 1825.3) scale(1 1.04)" font-size="54">8</text>
<text transform="translate(1915.29 1825.3) scale(1 1.04)" font-size="54">10</text><g fill="#fff"><rect x="1917.07" y="1818.27" width="10.8" height="8.03"/><rect x="1935.32" y="1818.27" width="10.1" height="8.03"/></g>
<text transform="translate(2189.65 1825.3) scale(1 1.04)" font-size="54">12</text><g fill="#fff"><rect x="2191.43" y="1818.27" width="10.8" height="8.03"/><rect x="2209.68" y="1818.27" width="10.1" height="8.03"/></g>
<text transform="translate(1343.07 1725.4) scale(1 1.04)" font-size="54">0</text>
<text transform="translate(1343.07 1476.95) scale(1 1.04)" font-size="54">1</text><g fill="#fff"><rect x="1344.85" y="1469.92" width="10.8" height="8.03"/><rect x="1363.1" y="1469.92" width="10.1" height="8.03"/></g>
<text transform="translate(1343.07 1228.5) scale(1 1.04)" font-size="54">2</text>
<text transform="translate(388.67 1517) scale(1 1.07)" font-size="20.6">8</text>
<text transform="translate(488.77 1517) scale(1 1.07)" font-size="20.6">9</text>
<text transform="translate(583.14 1517) scale(1 1.07)" font-size="20.6">10</text><g fill="#fff"><rect x="583.82" y="1513.45" width="4.12" height="4.55"/><rect x="590.79" y="1513.45" width="3.85" height="4.55"/></g>
<text transform="translate(683.24 1517) scale(1 1.07)" font-size="20.6">11</text><g fill="#fff"><rect x="683.92" y="1513.45" width="4.12" height="4.55"/><rect x="690.89" y="1513.45" width="3.85" height="4.55"/><rect x="695.38" y="1513.45" width="4.12" height="4.55"/><rect x="702.34" y="1513.45" width="3.85" height="4.55"/></g>
<text transform="translate(285.94 1475.9) scale(1 1.07)" font-size="20.4">0.0</text>
<text transform="translate(285.94 1413.5) scale(1 1.07)" font-size="20.4">0.3</text>
<text transform="translate(285.94 1351.1) scale(1 1.07)" font-size="20.4">0.6</text>
<text transform="translate(285.94 1288.7) scale(1 1.07)" font-size="20.4">0.9</text>
<text transform="translate(285.94 1226.3) scale(1 1.07)" font-size="20.4">1.2</text><g fill="#fff"><rect x="286.61" y="1222.77" width="4.08" height="4.53"/><rect x="293.51" y="1222.77" width="3.81" height="4.53"/></g>
<text transform="translate(1554.87 1517) scale(1 1.07)" font-size="20.6">6</text>
<text transform="translate(1701.87 1517) scale(1 1.07)" font-size="20.6">8</text>
<text transform="translate(1843.14 1517) scale(1 1.07)" font-size="20.6">10</text><g fill="#fff"><rect x="1843.82" y="1513.45" width="4.12" height="4.55"/><rect x="1850.79" y="1513.45" width="3.85" height="4.55"/></g>
<text transform="translate(1522.04 1459.7) scale(1 1.07)" font-size="20.4">0.0</text>
<text transform="translate(1522.04 1401.32) scale(1 1.07)" font-size="20.4">0.3</text>
<text transform="translate(1522.04 1342.94) scale(1 1.07)" font-size="20.4">0.6</text>
<text transform="translate(1522.04 1284.56) scale(1 1.07)" font-size="20.4">0.9</text>
<text transform="translate(1522.04 1226.18) scale(1 1.07)" font-size="20.4">1.2</text><g fill="#fff"><rect x="1522.71" y="1222.65" width="4.08" height="4.53"/><rect x="1529.61" y="1222.65" width="3.81" height="4.53"/></g>
</g>
<g font-weight="bold"><text transform="translate(302.9 1036.1) scale(1 1.04)" font-size="54">log[(</text><text transform="translate(425.8 1036.1) scale(1 1)" font-size="48.6" font-weight="normal" font-style="italic" font-family="'DejaVu Serif','Liberation Serif',serif">ν</text><text transform="translate(462.6 1036.1) scale(1 1.04)" font-size="54">Hz</text><text transform="translate(530.3 1009.6) scale(1 1.04)" font-size="34.02">-</text><text transform="translate(541.63 1009.6) scale(1 1.04)" font-size="34.02">1</text><g fill="#fff"><rect x="542.75" y="1004.69" width="6.8" height="5.91"/><rect x="554.25" y="1004.69" width="6.36" height="5.91"/></g><text transform="translate(560 1036.1) scale(1 1.04)" font-size="54">) / (</text><text transform="translate(643.8 1036.1) scale(1.07 1)" font-size="48.6" font-weight="normal" font-style="italic" font-family="'DejaVu Serif','Liberation Serif',serif">σ</text><text transform="translate(673.8 1053.8) scale(1 1.04)" font-size="33">DC</text><text transform="translate(727.3 1036.1) scale(1 1.04)" font-size="54" font-style="italic">T</text><text transform="translate(768.3 1036.1) scale(1 1)" font-size="57.24" font-weight="normal" font-family="'Liberation Serif','DejaVu Serif',serif">Ω</text><text transform="translate(826.3 1036.1) scale(1 1.04)" font-size="54">cm K</text><text transform="translate(958.8 1009.6) scale(1 1.04)" font-size="34.02" font-weight="normal">–</text><text transform="translate(977.3 1009.6) scale(1 1.04)" font-size="34.02">1</text><g fill="#fff"><rect x="978.42" y="1004.69" width="6.8" height="5.91"/><rect x="989.92" y="1004.69" width="6.36" height="5.91"/></g><text transform="translate(995.3 1036.1) scale(1 1.04)" font-size="54">)]</text></g>
<g font-weight="bold"><text transform="translate(1517.9 1036.1) scale(1 1.04)" font-size="54">log[(</text><text transform="translate(1640.8 1036.1) scale(1 1)" font-size="48.6" font-weight="normal" font-style="italic" font-family="'DejaVu Serif','Liberation Serif',serif">ν</text><text transform="translate(1677.6 1036.1) scale(1 1.04)" font-size="54">Hz</text><text transform="translate(1745.3 1009.6) scale(1 1.04)" font-size="34.02">-</text><text transform="translate(1756.63 1009.6) scale(1 1.04)" font-size="34.02">1</text><g fill="#fff"><rect x="1757.75" y="1004.69" width="6.8" height="5.91"/><rect x="1769.25" y="1004.69" width="6.36" height="5.91"/></g><text transform="translate(1775 1036.1) scale(1 1.04)" font-size="54">) / (</text><text transform="translate(1858.8 1036.1) scale(1.07 1)" font-size="48.6" font-weight="normal" font-style="italic" font-family="'DejaVu Serif','Liberation Serif',serif">σ</text><text transform="translate(1888.8 1053.8) scale(1 1.04)" font-size="33">DC</text><text transform="translate(1942.3 1036.1) scale(1 1.04)" font-size="54" font-style="italic">T</text><text transform="translate(1983.3 1036.1) scale(1 1)" font-size="57.24" font-weight="normal" font-family="'Liberation Serif','DejaVu Serif',serif">Ω</text><text transform="translate(2041.3 1036.1) scale(1 1.04)" font-size="54">cm K</text><text transform="translate(2173.8 1009.6) scale(1 1.04)" font-size="34.02" font-weight="normal">–</text><text transform="translate(2192.3 1009.6) scale(1 1.04)" font-size="34.02">1</text><g fill="#fff"><rect x="2193.42" y="1004.69" width="6.8" height="5.91"/><rect x="2204.92" y="1004.69" width="6.36" height="5.91"/></g><text transform="translate(2210.3 1036.1) scale(1 1.04)" font-size="54">)]</text></g>
<g font-weight="bold"><text transform="translate(302.9 1907.2) scale(1 1.04)" font-size="54">log[(</text><text transform="translate(425.8 1907.2) scale(1 1)" font-size="48.6" font-weight="normal" font-style="italic" font-family="'DejaVu Serif','Liberation Serif',serif">ν</text><text transform="translate(462.6 1907.2) scale(1 1.04)" font-size="54">Hz</text><text transform="translate(530.3 1880.7) scale(1 1.04)" font-size="34.02">-</text><text transform="translate(541.63 1880.7) scale(1 1.04)" font-size="34.02">1</text><g fill="#fff"><rect x="542.75" y="1875.79" width="6.8" height="5.91"/><rect x="554.25" y="1875.79" width="6.36" height="5.91"/></g><text transform="translate(560 1907.2) scale(1 1.04)" font-size="54">) / (</text><text transform="translate(643.8 1907.2) scale(1.07 1)" font-size="48.6" font-weight="normal" font-style="italic" font-family="'DejaVu Serif','Liberation Serif',serif">σ</text><text transform="translate(673.8 1924.9) scale(1 1.04)" font-size="33">DC</text><text transform="translate(727.3 1907.2) scale(1 1.04)" font-size="54" font-style="italic">T</text><text transform="translate(768.3 1907.2) scale(1 1)" font-size="57.24" font-weight="normal" font-family="'Liberation Serif','DejaVu Serif',serif">Ω</text><text transform="translate(826.3 1907.2) scale(1 1.04)" font-size="54">cm K</text><text transform="translate(958.8 1880.7) scale(1 1.04)" font-size="34.02" font-weight="normal">–</text><text transform="translate(977.3 1880.7) scale(1 1.04)" font-size="34.02">1</text><g fill="#fff"><rect x="978.42" y="1875.79" width="6.8" height="5.91"/><rect x="989.92" y="1875.79" width="6.36" height="5.91"/></g><text transform="translate(995.3 1907.2) scale(1 1.04)" font-size="54">)]</text></g>
<g font-weight="bold"><text transform="translate(1523.3 1907.2) scale(1 1.04)" font-size="54">log[(</text><text transform="translate(1646.2 1907.2) scale(1 1)" font-size="48.6" font-weight="normal" font-style="italic" font-family="'DejaVu Serif','Liberation Serif',serif">ν</text><text transform="translate(1683 1907.2) scale(1 1.04)" font-size="54">Hz</text><text transform="translate(1750.7 1880.7) scale(1 1.04)" font-size="34.02">-</text><text transform="translate(1762.03 1880.7) scale(1 1.04)" font-size="34.02">1</text><g fill="#fff"><rect x="1763.15" y="1875.79" width="6.8" height="5.91"/><rect x="1774.65" y="1875.79" width="6.36" height="5.91"/></g><text transform="translate(1780.4 1907.2) scale(1 1.04)" font-size="54">) / (</text><text transform="translate(1864.2 1907.2) scale(1.07 1)" font-size="48.6" font-weight="normal" font-style="italic" font-family="'DejaVu Serif','Liberation Serif',serif">σ</text><text transform="translate(1894.2 1924.9) scale(1 1.04)" font-size="33">DC</text><text transform="translate(1947.7 1907.2) scale(1 1.04)" font-size="54" font-style="italic">T</text><text transform="translate(1988.7 1907.2) scale(1 1)" font-size="57.24" font-weight="normal" font-family="'Liberation Serif','DejaVu Serif',serif">Ω</text><text transform="translate(2046.7 1907.2) scale(1 1.04)" font-size="54">cm K</text><text transform="translate(2179.2 1880.7) scale(1 1.04)" font-size="34.02" font-weight="normal">–</text><text transform="translate(2197.7 1880.7) scale(1 1.04)" font-size="34.02">1</text><g fill="#fff"><rect x="2198.82" y="1875.79" width="6.8" height="5.91"/><rect x="2210.32" y="1875.79" width="6.36" height="5.91"/></g><text transform="translate(2215.7 1907.2) scale(1 1.04)" font-size="54">)]</text></g>
<g font-weight="bold" transform="translate(69.1 784.5) rotate(-90)"><text transform="translate(-3.9 0) scale(1 1.04)" font-size="54">log</text><text transform="translate(94.5 0) scale(0.86 1.04)" font-size="54">(</text><text transform="translate(112 0) scale(1.07 1)" font-size="48.6" font-weight="normal" font-style="italic" font-family="'DejaVu Serif','Liberation Serif',serif">σ</text><text transform="translate(148 0) scale(1 1.04)" font-size="54">′</text><text transform="translate(172.2 0) scale(0.86 1.04)" font-size="54">(</text><text transform="translate(196.5 0) scale(1 1)" font-size="48.6" font-weight="normal" font-style="italic" font-family="'DejaVu Serif','Liberation Serif',serif">ν</text><text transform="translate(233.8 0) scale(0.86 1.04)" font-size="54">)</text><text transform="translate(263.5 0) scale(1 1.04)" font-size="51.84" font-weight="normal">/</text><text transform="translate(281.5 0) scale(1.07 1)" font-size="48.6" font-weight="normal" font-style="italic" font-family="'DejaVu Serif','Liberation Serif',serif">σ</text><text transform="translate(311 18.3) scale(1 1.04)" font-size="33">DC</text><text transform="translate(361 0) scale(0.86 1.04)" font-size="54">)</text></g>
<g font-weight="bold" transform="translate(1276 784.5) rotate(-90)"><text transform="translate(-3.9 0) scale(1 1.04)" font-size="54">log</text><text transform="translate(94.5 0) scale(0.86 1.04)" font-size="54">(</text><text transform="translate(112 0) scale(1.07 1)" font-size="48.6" font-weight="normal" font-style="italic" font-family="'DejaVu Serif','Liberation Serif',serif">σ</text><text transform="translate(148 0) scale(1 1.04)" font-size="54">′</text><text transform="translate(172.2 0) scale(0.86 1.04)" font-size="54">(</text><text transform="translate(196.5 0) scale(1 1)" font-size="48.6" font-weight="normal" font-style="italic" font-family="'DejaVu Serif','Liberation Serif',serif">ν</text><text transform="translate(233.8 0) scale(0.86 1.04)" font-size="54">)</text><text transform="translate(263.5 0) scale(1 1.04)" font-size="51.84" font-weight="normal">/</text><text transform="translate(281.5 0) scale(1.07 1)" font-size="48.6" font-weight="normal" font-style="italic" font-family="'DejaVu Serif','Liberation Serif',serif">σ</text><text transform="translate(311 18.3) scale(1 1.04)" font-size="33">DC</text><text transform="translate(361 0) scale(0.86 1.04)" font-size="54">)</text></g>
<g font-weight="bold" transform="translate(68 1621.5) rotate(-90)"><text transform="translate(-3.9 0) scale(1 1.04)" font-size="54">log</text><text transform="translate(94.5 0) scale(0.86 1.04)" font-size="54">(</text><text transform="translate(112 0) scale(1.07 1)" font-size="48.6" font-weight="normal" font-style="italic" font-family="'DejaVu Serif','Liberation Serif',serif">σ</text><text transform="translate(148 0) scale(1 1.04)" font-size="54">′</text><text transform="translate(172.2 0) scale(0.86 1.04)" font-size="54">(</text><text transform="translate(196.5 0) scale(1 1)" font-size="48.6" font-weight="normal" font-style="italic" font-family="'DejaVu Serif','Liberation Serif',serif">ν</text><text transform="translate(233.8 0) scale(0.86 1.04)" font-size="54">)</text><text transform="translate(263.5 0) scale(1 1.04)" font-size="51.84" font-weight="normal">/</text><text transform="translate(281.5 0) scale(1.07 1)" font-size="48.6" font-weight="normal" font-style="italic" font-family="'DejaVu Serif','Liberation Serif',serif">σ</text><text transform="translate(311 18.3) scale(1 1.04)" font-size="33">DC</text><text transform="translate(361 0) scale(0.86 1.04)" font-size="54">)</text></g>
<g font-weight="bold" transform="translate(1281.9 1620.2) rotate(-90)"><text transform="translate(-3.9 0) scale(1 1.04)" font-size="54">log</text><text transform="translate(94.5 0) scale(0.86 1.04)" font-size="54">(</text><text transform="translate(112 0) scale(1.07 1)" font-size="48.6" font-weight="normal" font-style="italic" font-family="'DejaVu Serif','Liberation Serif',serif">σ</text><text transform="translate(148 0) scale(1 1.04)" font-size="54">′</text><text transform="translate(172.2 0) scale(0.86 1.04)" font-size="54">(</text><text transform="translate(196.5 0) scale(1 1)" font-size="48.6" font-weight="normal" font-style="italic" font-family="'DejaVu Serif','Liberation Serif',serif">ν</text><text transform="translate(233.8 0) scale(0.86 1.04)" font-size="54">)</text><text transform="translate(263.5 0) scale(1 1.04)" font-size="51.84" font-weight="normal">/</text><text transform="translate(281.5 0) scale(1.07 1)" font-size="48.6" font-weight="normal" font-style="italic" font-family="'DejaVu Serif','Liberation Serif',serif">σ</text><text transform="translate(311 18.3) scale(1 1.04)" font-size="33">DC</text><text transform="translate(361 0) scale(0.86 1.04)" font-size="54">)</text></g>
<g font-weight="bold"><text transform="translate(349.75 1563.9) scale(1 1.04)" font-size="24.3">log[(</text><text transform="translate(405.05 1563.9) scale(1 1)" font-size="21.87" font-weight="normal" font-style="italic" font-family="'DejaVu Serif','Liberation Serif',serif">ν</text><text transform="translate(421.61 1563.9) scale(1 1.04)" font-size="24.3">Hz</text><text transform="translate(452.07 1551.98) scale(1 1.04)" font-size="15.31">-</text><text transform="translate(457.17 1551.98) scale(1 1.04)" font-size="15.31">1</text><g fill="#fff"><rect x="457.68" y="1549.05" width="3.06" height="3.92"/><rect x="462.85" y="1549.05" width="2.86" height="3.92"/></g><text transform="translate(465.44 1563.9) scale(1 1.04)" font-size="24.3">) / (</text><text transform="translate(503.15 1563.9) scale(1.07 1)" font-size="21.87" font-weight="normal" font-style="italic" font-family="'DejaVu Serif','Liberation Serif',serif">σ</text><text transform="translate(516.65 1571.87) scale(1 1.04)" font-size="14.85">DC</text><text transform="translate(540.73 1563.9) scale(1 1.04)" font-size="24.3" font-style="italic">T</text><text transform="translate(559.17 1563.9) scale(1 1)" font-size="25.76" font-weight="normal" font-family="'Liberation Serif','DejaVu Serif',serif">Ω</text><text transform="translate(585.27 1563.9) scale(1 1.04)" font-size="24.3">cm K</text><text transform="translate(644.9 1551.98) scale(1 1.04)" font-size="15.31" font-weight="normal">–</text><text transform="translate(653.23 1551.98) scale(1 1.04)" font-size="15.31">1</text><g fill="#fff"><rect x="653.73" y="1549.05" width="3.06" height="3.92"/><rect x="658.9" y="1549.05" width="2.86" height="3.92"/></g><text transform="translate(661.33 1563.9) scale(1 1.04)" font-size="24.3">)]</text></g>
<g font-weight="bold"><text transform="translate(1603.95 1553) scale(1 1.04)" font-size="21.5">log[(</text><text transform="translate(1652.88 1553) scale(1 1)" font-size="19.35" font-weight="normal" font-style="italic" font-family="'DejaVu Serif','Liberation Serif',serif">ν</text><text transform="translate(1667.53 1553) scale(1 1.04)" font-size="21.5">Hz</text><text transform="translate(1694.49 1542.45) scale(1 1.04)" font-size="13.54">-</text><text transform="translate(1699 1542.45) scale(1 1.04)" font-size="13.54">1</text><g fill="#fff"><rect x="1699.44" y="1539.71" width="2.71" height="3.74"/><rect x="1704.02" y="1539.71" width="2.53" height="3.74"/></g><text transform="translate(1706.31 1553) scale(1 1.04)" font-size="21.5">) / (</text><text transform="translate(1739.68 1553) scale(1.07 1)" font-size="19.35" font-weight="normal" font-style="italic" font-family="'DejaVu Serif','Liberation Serif',serif">σ</text><text transform="translate(1751.62 1560.05) scale(1 1.04)" font-size="13.14">DC</text><text transform="translate(1772.92 1553) scale(1 1.04)" font-size="21.5" font-style="italic">T</text><text transform="translate(1789.25 1553) scale(1 1)" font-size="22.79" font-weight="normal" font-family="'Liberation Serif','DejaVu Serif',serif">Ω</text><text transform="translate(1812.34 1553) scale(1 1.04)" font-size="21.5">cm K</text><text transform="translate(1865.09 1542.45) scale(1 1.04)" font-size="13.54" font-weight="normal">–</text><text transform="translate(1872.46 1542.45) scale(1 1.04)" font-size="13.54">1</text><g fill="#fff"><rect x="1872.91" y="1539.71" width="2.71" height="3.74"/><rect x="1877.48" y="1539.71" width="2.53" height="3.74"/></g><text transform="translate(1879.62 1553) scale(1 1.04)" font-size="21.5">)]</text></g>
<g font-weight="bold" transform="translate(242.4 1433.5) rotate(-90)"><text transform="translate(-1.75 0) scale(1 1.04)" font-size="24.3">log</text><text transform="translate(42.52 0) scale(0.86 1.04)" font-size="24.3">(</text><text transform="translate(50.4 0) scale(1.07 1)" font-size="21.87" font-weight="normal" font-style="italic" font-family="'DejaVu Serif','Liberation Serif',serif">σ</text><text transform="translate(66.6 0) scale(1 1.04)" font-size="24.3">′</text><text transform="translate(77.49 0) scale(0.86 1.04)" font-size="24.3">(</text><text transform="translate(88.42 0) scale(1 1)" font-size="21.87" font-weight="normal" font-style="italic" font-family="'DejaVu Serif','Liberation Serif',serif">ν</text><text transform="translate(105.21 0) scale(0.86 1.04)" font-size="24.3">)</text><text transform="translate(118.58 0) scale(1 1.04)" font-size="23.33" font-weight="normal">/</text><text transform="translate(126.67 0) scale(1.07 1)" font-size="21.87" font-weight="normal" font-style="italic" font-family="'DejaVu Serif','Liberation Serif',serif">σ</text><text transform="translate(139.95 8.24) scale(1 1.04)" font-size="14.85">DC</text><text transform="translate(162.45 0) scale(0.86 1.04)" font-size="24.3">)</text></g>
<g font-weight="bold" transform="translate(1488.4 1419.5) rotate(-90)"><text transform="translate(-1.58 0) scale(1 1.04)" font-size="21.9">log</text><text transform="translate(38.32 0) scale(0.86 1.04)" font-size="21.9">(</text><text transform="translate(45.42 0) scale(1.07 1)" font-size="19.71" font-weight="normal" font-style="italic" font-family="'DejaVu Serif','Liberation Serif',serif">σ</text><text transform="translate(60.02 0) scale(1 1.04)" font-size="21.9">′</text><text transform="translate(69.84 0) scale(0.86 1.04)" font-size="21.9">(</text><text transform="translate(79.69 0) scale(1 1)" font-size="19.71" font-weight="normal" font-style="italic" font-family="'DejaVu Serif','Liberation Serif',serif">ν</text><text transform="translate(94.82 0) scale(0.86 1.04)" font-size="21.9">)</text><text transform="translate(106.86 0) scale(1 1.04)" font-size="21.02" font-weight="normal">/</text><text transform="translate(114.16 0) scale(1.07 1)" font-size="19.71" font-weight="normal" font-style="italic" font-family="'DejaVu Serif','Liberation Serif',serif">σ</text><text transform="translate(126.13 7.42) scale(1 1.04)" font-size="13.38">DC</text><text transform="translate(146.41 0) scale(0.86 1.04)" font-size="21.9">)</text></g>
<g font-weight="bold"><text transform="translate(198.2 311.3) scale(1 1.04)" font-size="61.3">(a) Base G</text><text transform="translate(501.4 307.33) scale(1.237 1)" font-size="44.78" font-weight="normal">–</text><text transform="translate(531.8 311.3) scale(1 1.04)" font-size="61.3">B0Hf0</text></g>
<g font-weight="bold"><text transform="translate(1437.7 311.3) scale(1 1.04)" font-size="61.3">(b) F</text><text transform="translate(1571.3 307.33) scale(1.225 1)" font-size="44.78" font-weight="normal">–</text><text transform="translate(1602.3 311.3) scale(1 1.04)" font-size="61.3">B4Hf6</text></g>
<g font-weight="bold"><text transform="translate(198.2 1176.5) scale(1 1.04)" font-size="61.3">(c) F</text><text transform="translate(327.3 1172.53) scale(1.269 1)" font-size="44.78" font-weight="normal">–</text><text transform="translate(360.4 1176.5) scale(1 1.04)" font-size="61.3">Series</text></g>
<g font-weight="bold"><text transform="translate(1436.3 1176.5) scale(1 1.04)" font-size="61.3">(d) S</text><text transform="translate(1573.3 1172.53) scale(1.257 1)" font-size="44.78" font-weight="normal">–</text><text transform="translate(1605.6 1176.5) scale(1 1.04)" font-size="61.3">series</text></g>
<g font-weight="bold"><text transform="translate(353.4 1299.9) scale(1 1.04)" font-size="46.6">NOT valid</text><text transform="translate(1592.8 1307.1) scale(1 1.04)" font-size="46.6">NOT valid</text></g>
<g font-weight="bold">
<rect x="324.62" y="393.58" width="19.05" height="19.05" fill="#fff" stroke="#000" stroke-width="6.45"/>
<text transform="translate(406.95 415.3) scale(1 1.04)" font-size="37">30 <tspan font-weight="normal" dy="1.96">°</tspan><tspan dy="-1.96">C</tspan></text>
<rect x="324.62" y="443.18" width="19.05" height="19.05" fill="#fff" stroke="#f00" stroke-width="6.45"/>
<text transform="translate(406.95 464.9) scale(1 1.04)" font-size="37">60 <tspan font-weight="normal" dy="1.96">°</tspan><tspan dy="-1.96">C</tspan></text>
<rect x="324.62" y="492.78" width="19.05" height="19.05" fill="#fff" stroke="#00f" stroke-width="6.45"/>
<text transform="translate(406.95 514.5) scale(1 1.04)" font-size="37">90 <tspan font-weight="normal" dy="1.96">°</tspan><tspan dy="-1.96">C</tspan></text>
<rect x="324.62" y="542.38" width="19.05" height="19.05" fill="#fff" stroke="#f0f" stroke-width="6.45"/>
<text transform="translate(386.37 564.1) scale(1 1.04)" font-size="37">120 <tspan font-weight="normal" dy="1.96">°</tspan><tspan dy="-1.96">C</tspan></text><g fill="#fff"><rect x="387.59" y="558.88" width="7.4" height="6.22"/><rect x="400.1" y="558.88" width="6.92" height="6.22"/></g>
<rect x="324.62" y="591.98" width="19.05" height="19.05" fill="#fff" stroke="#008000" stroke-width="6.45"/>
<text transform="translate(386.37 613.7) scale(1 1.04)" font-size="37">150 <tspan font-weight="normal" dy="1.96">°</tspan><tspan dy="-1.96">C</tspan></text><g fill="#fff"><rect x="387.59" y="608.48" width="7.4" height="6.22"/><rect x="400.1" y="608.48" width="6.92" height="6.22"/></g>
<rect x="324.62" y="641.58" width="19.05" height="19.05" fill="#fff" stroke="#000080" stroke-width="6.45"/>
<text transform="translate(386.37 663.3) scale(1 1.04)" font-size="37">180 <tspan font-weight="normal" dy="1.96">°</tspan><tspan dy="-1.96">C</tspan></text><g fill="#fff"><rect x="387.59" y="658.08" width="7.4" height="6.22"/><rect x="400.1" y="658.08" width="6.92" height="6.22"/></g>
<rect x="324.62" y="691.18" width="19.05" height="19.05" fill="#fff" stroke="#8000ff" stroke-width="6.45"/>
<text transform="translate(386.37 712.9) scale(1 1.04)" font-size="37">210 <tspan font-weight="normal" dy="1.96">°</tspan><tspan dy="-1.96">C</tspan></text><g fill="#fff"><rect x="408.17" y="707.68" width="7.4" height="6.22"/><rect x="420.68" y="707.68" width="6.92" height="6.22"/></g>
<rect x="324.62" y="740.77" width="19.05" height="19.05" fill="#fff" stroke="#808000" stroke-width="6.45"/>
<text transform="translate(386.37 762.5) scale(1 1.04)" font-size="37">240 <tspan font-weight="normal" dy="1.96">°</tspan><tspan dy="-1.96">C</tspan></text>
</g>
<g font-weight="bold">
<rect x="1473.27" y="413.28" width="19.05" height="19.05" fill="#fff" stroke="#000" stroke-width="6.45"/>
<text transform="translate(1555.55 435) scale(1 1.04)" font-size="37">30 <tspan font-weight="normal" dy="1.96">°</tspan><tspan dy="-1.96">C</tspan></text>
<rect x="1473.27" y="462.8" width="19.05" height="19.05" fill="#fff" stroke="#f00" stroke-width="6.45"/>
<text transform="translate(1555.55 484.52) scale(1 1.04)" font-size="37">60 <tspan font-weight="normal" dy="1.96">°</tspan><tspan dy="-1.96">C</tspan></text>
<rect x="1473.27" y="512.32" width="19.05" height="19.05" fill="#fff" stroke="#00f" stroke-width="6.45"/>
<text transform="translate(1555.55 534.04) scale(1 1.04)" font-size="37">90 <tspan font-weight="normal" dy="1.96">°</tspan><tspan dy="-1.96">C</tspan></text>
<rect x="1473.27" y="561.84" width="19.05" height="19.05" fill="#fff" stroke="#f0f" stroke-width="6.45"/>
<text transform="translate(1534.97 583.56) scale(1 1.04)" font-size="37">120 <tspan font-weight="normal" dy="1.96">°</tspan><tspan dy="-1.96">C</tspan></text><g fill="#fff"><rect x="1536.19" y="578.34" width="7.4" height="6.22"/><rect x="1548.7" y="578.34" width="6.92" height="6.22"/></g>
<rect x="1473.27" y="611.36" width="19.05" height="19.05" fill="#fff" stroke="#008000" stroke-width="6.45"/>
<text transform="translate(1534.97 633.08) scale(1 1.04)" font-size="37">150 <tspan font-weight="normal" dy="1.96">°</tspan><tspan dy="-1.96">C</tspan></text><g fill="#fff"><rect x="1536.19" y="627.86" width="7.4" height="6.22"/><rect x="1548.7" y="627.86" width="6.92" height="6.22"/></g>
<rect x="1473.27" y="660.88" width="19.05" height="19.05" fill="#fff" stroke="#000080" stroke-width="6.45"/>
<text transform="translate(1534.97 682.6) scale(1 1.04)" font-size="37">180 <tspan font-weight="normal" dy="1.96">°</tspan><tspan dy="-1.96">C</tspan></text><g fill="#fff"><rect x="1536.19" y="677.38" width="7.4" height="6.22"/><rect x="1548.7" y="677.38" width="6.92" height="6.22"/></g>
<rect x="1473.27" y="710.4" width="19.05" height="19.05" fill="#fff" stroke="#8000ff" stroke-width="6.45"/>
<text transform="translate(1534.97 732.12) scale(1 1.04)" font-size="37">210 <tspan font-weight="normal" dy="1.96">°</tspan><tspan dy="-1.96">C</tspan></text><g fill="#fff"><rect x="1556.77" y="726.9" width="7.4" height="6.22"/><rect x="1569.28" y="726.9" width="6.92" height="6.22"/></g>
<rect x="1473.27" y="759.92" width="19.05" height="19.05" fill="#fff" stroke="#808000" stroke-width="6.45"/>
<text transform="translate(1534.97 781.64) scale(1 1.04)" font-size="37">240 <tspan font-weight="normal" dy="1.96">°</tspan><tspan dy="-1.96">C</tspan></text>
</g>
<rect x="899.35" y="1516.55" width="15.9" height="15.9" fill="#fff" stroke="#000" stroke-width="5.1"/>
<g font-weight="bold"><text transform="translate(958.2 1536.6) scale(1 1.04)" font-size="37">G</text><text transform="translate(987.78 1534.92) scale(1.109 1)" font-size="29.85" font-weight="normal">–</text><text transform="translate(1007.29 1536.6) scale(1 1.04)" font-size="37">B0Hf0</text></g>
<rect x="899.35" y="1565.85" width="15.9" height="15.9" fill="#fff" stroke="#f00" stroke-width="5.1"/>
<g font-weight="bold"><text transform="translate(958.2 1585.9) scale(1 1.04)" font-size="37">F</text><text transform="translate(981.6 1584.22) scale(1.109 1)" font-size="29.85" font-weight="normal">–</text><text transform="translate(1001.11 1585.9) scale(1 1.04)" font-size="37">B2Hf2</text></g>
<rect x="899.35" y="1615.15" width="15.9" height="15.9" fill="#fff" stroke="#00f" stroke-width="5.1"/>
<g font-weight="bold"><text transform="translate(958.2 1635.2) scale(1 1.04)" font-size="37">F</text><text transform="translate(981.6 1633.52) scale(1.109 1)" font-size="29.85" font-weight="normal">–</text><text transform="translate(1001.11 1635.2) scale(1 1.04)" font-size="37">B4Hf4</text></g>
<rect x="899.35" y="1664.45" width="15.9" height="15.9" fill="#fff" stroke="#f0f" stroke-width="5.1"/>
<g font-weight="bold"><text transform="translate(958.2 1684.5) scale(1 1.04)" font-size="37">F</text><text transform="translate(981.6 1682.82) scale(1.109 1)" font-size="29.85" font-weight="normal">–</text><text transform="translate(1001.11 1684.5) scale(1 1.04)" font-size="37">B4Hf6</text></g>
<rect x="899.35" y="1713.75" width="15.9" height="15.9" fill="#fff" stroke="#008000" stroke-width="5.1"/>
<g font-weight="bold"><text transform="translate(958.2 1733.8) scale(1 1.04)" font-size="37">F</text><text transform="translate(981.6 1732.12) scale(1.109 1)" font-size="29.85" font-weight="normal">–</text><text transform="translate(1001.11 1733.8) scale(1 1.04)" font-size="37">B8Hf8</text></g>
<rect x="2104.45" y="1509.65" width="15.9" height="15.9" fill="#fff" stroke="#000" stroke-width="5.1"/>
<g font-weight="bold"><text transform="translate(2163.2 1529.7) scale(1 1.04)" font-size="37">G</text><text transform="translate(2192.78 1528.02) scale(1.109 1)" font-size="29.85" font-weight="normal">–</text><text transform="translate(2212.29 1529.7) scale(1 1.04)" font-size="37">B0Hf0</text></g>
<rect x="2104.45" y="1559.15" width="15.9" height="15.9" fill="#fff" stroke="#f00" stroke-width="5.1"/>
<g font-weight="bold"><text transform="translate(2163.2 1579.2) scale(1 1.04)" font-size="37">S</text><text transform="translate(2188.68 1577.52) scale(1.109 1)" font-size="29.85" font-weight="normal">–</text><text transform="translate(2208.19 1579.2) scale(1 1.04)" font-size="37">B2Hf2</text></g>
<rect x="2104.45" y="1608.65" width="15.9" height="15.9" fill="#fff" stroke="#00f" stroke-width="5.1"/>
<g font-weight="bold"><text transform="translate(2163.2 1628.7) scale(1 1.04)" font-size="37">S</text><text transform="translate(2188.68 1627.02) scale(1.109 1)" font-size="29.85" font-weight="normal">–</text><text transform="translate(2208.19 1628.7) scale(1 1.04)" font-size="37">B4Hf4</text></g>
<rect x="2104.45" y="1658.15" width="15.9" height="15.9" fill="#fff" stroke="#f0f" stroke-width="5.1"/>
<g font-weight="bold"><text transform="translate(2163.2 1678.2) scale(1 1.04)" font-size="37">S</text><text transform="translate(2188.68 1676.52) scale(1.109 1)" font-size="29.85" font-weight="normal">–</text><text transform="translate(2208.19 1678.2) scale(1 1.04)" font-size="37">B6Hf6</text></g>
<rect x="2104.45" y="1707.65" width="15.9" height="15.9" fill="#fff" stroke="#008000" stroke-width="5.1"/>
<g font-weight="bold"><text transform="translate(2163.2 1727.7) scale(1 1.04)" font-size="37">S</text><text transform="translate(2188.68 1726.02) scale(1.109 1)" font-size="29.85" font-weight="normal">–</text><text transform="translate(2208.19 1727.7) scale(1 1.04)" font-size="37">B4Hf8</text></g>
</svg></body></html>
